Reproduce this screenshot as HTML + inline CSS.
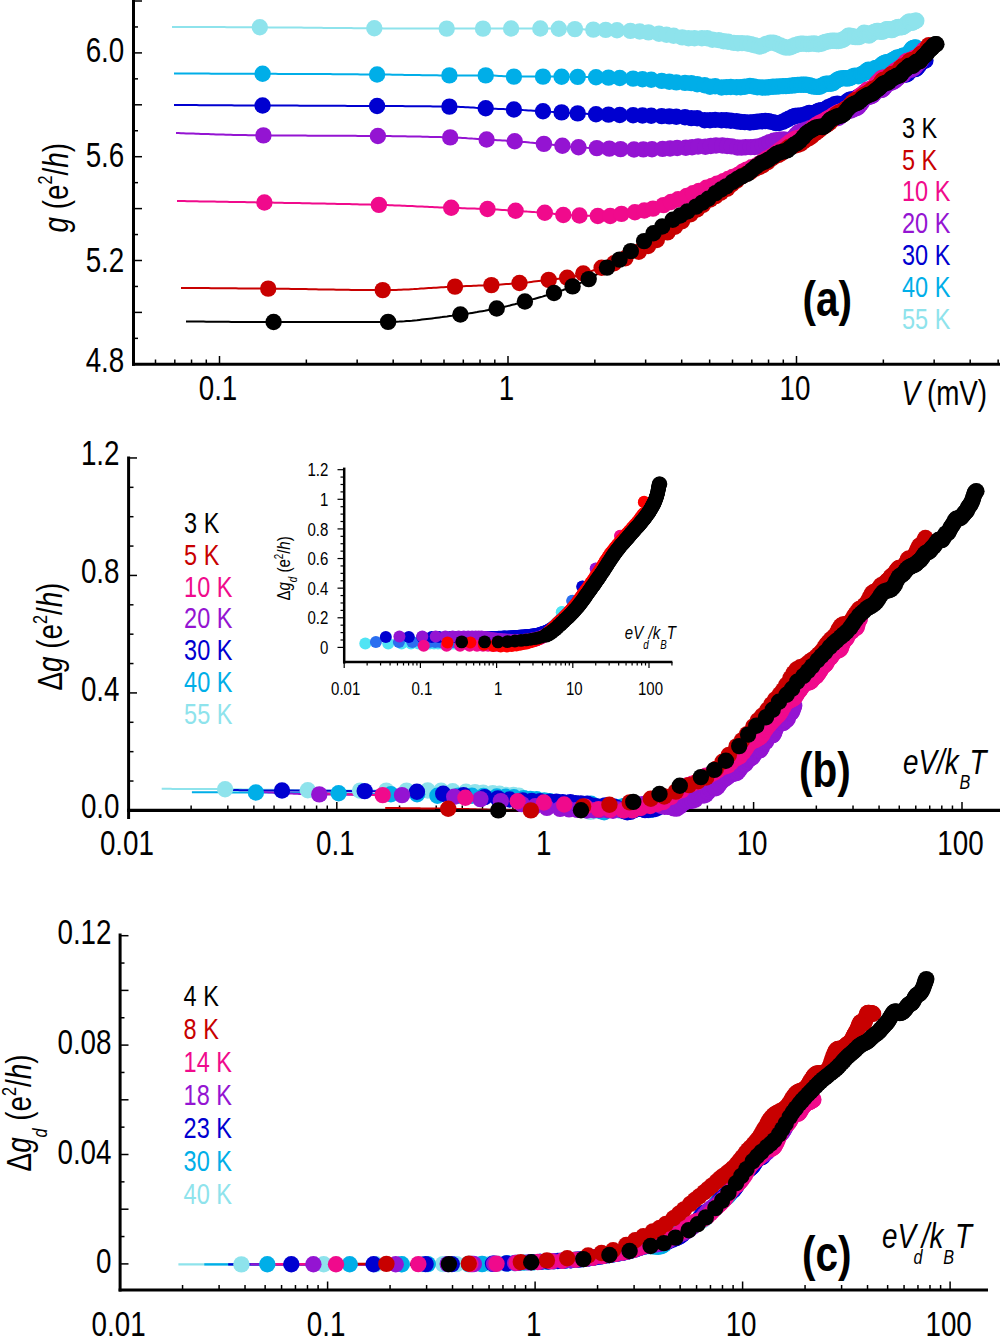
<!DOCTYPE html>
<html><head><meta charset="utf-8"><style>
html,body{margin:0;padding:0;background:#fff;width:1000px;height:1336px;overflow:hidden}
svg{display:block}
</style></head><body>
<svg width="1000" height="1336" viewBox="0 0 1000 1336">
<rect width="1000" height="1336" fill="#fff"/>
<polyline points="172.0,27.0 174.5,27.0 177.0,27.0 179.5,27.0 182.0,27.0 184.4,27.0 186.9,27.0 189.4,27.0 191.9,27.0 194.4,27.0 196.9,27.0 199.4,27.1 201.9,27.1 204.4,27.1 206.8,27.1 209.3,27.1 211.8,27.1 214.3,27.1 216.8,27.1 219.3,27.1 221.8,27.1 224.3,27.1 226.8,27.2 229.3,27.2 231.7,27.2 234.2,27.2 236.7,27.2 239.2,27.2 241.7,27.2 244.2,27.2 246.7,27.2 249.2,27.2 251.7,27.3 254.1,27.3 256.6,27.3 259.1,27.3 261.6,27.3 264.1,27.3 266.6,27.3 269.1,27.4 271.6,27.4 274.1,27.4 276.5,27.4 279.0,27.4 281.5,27.4 284.0,27.5 286.5,27.5 289.0,27.5 291.5,27.5 294.0,27.6 296.5,27.6 299.0,27.6 301.4,27.6 303.9,27.7 306.4,27.7 308.9,27.7 311.4,27.7 313.9,27.8 316.4,27.8 318.9,27.8 321.4,27.8 323.8,27.9 326.3,27.9 328.8,27.9 331.3,27.9 333.8,28.0 336.3,28.0 338.8,28.0 341.3,28.0 343.8,28.1 346.2,28.1 348.7,28.1 351.2,28.1 353.7,28.2 356.2,28.2 358.7,28.2 361.2,28.2 363.7,28.2 366.2,28.3 368.7,28.3 371.1,28.3 373.6,28.3 376.1,28.3 378.6,28.3 381.1,28.3 383.6,28.4 386.1,28.4 388.6,28.4 391.1,28.4 393.5,28.4 396.0,28.4 398.5,28.4 401.0,28.4 403.5,28.5 406.0,28.5 408.5,28.5 411.0,28.5 413.5,28.5 415.9,28.5 418.4,28.5 420.9,28.5 423.4,28.6 425.9,28.6 428.4,28.6 430.9,28.6 433.4,28.6 435.9,28.6 438.4,28.6 440.8,28.6 443.3,28.6 445.8,28.6 448.3,28.6 450.8,28.6 453.3,28.6 455.8,28.6 458.3,28.6 460.8,28.6 463.2,28.6 465.7,28.6 468.2,28.6 470.7,28.6 473.2,28.6 475.7,28.6 478.2,28.6 480.7,28.6 483.2,28.6 485.6,28.6 488.1,28.6 490.6,28.6 493.1,28.6 495.6,28.5 498.1,28.5 500.6,28.5 503.1,28.5 505.6,28.5 508.1,28.5 510.5,28.5 513.0,28.5 515.5,28.5 518.0,28.5 520.5,28.5 523.0,28.5 525.5,28.5 528.0,28.5 530.5,28.5 532.9,28.5 535.4,28.5 537.9,28.5 540.4,28.5 542.9,28.5 545.4,28.5 547.9,28.5 550.4,28.6 552.9,28.6 555.3,28.6 557.8,28.7 560.3,28.7 562.8,28.8 565.3,28.8 567.8,28.9 570.3,29.0 572.8,29.0 575.3,29.1 577.7,29.2 580.2,29.2 582.7,29.3 585.2,29.4 587.7,29.4 590.2,29.5 592.7,29.6 595.2,29.6 597.7,29.7 600.2,29.8 602.6,29.8 605.1,29.9 607.6,30.0 610.1,30.1 612.6,30.2 615.1,30.3 617.6,30.3 620.1,30.4 622.6,30.5 625.0,30.7 627.5,30.8 630.0,30.9 632.5,31.0 635.0,31.2 637.5,31.4 640.0,31.6 642.5,31.8 645.0,32.0 647.4,32.3 649.9,32.6 652.4,32.9 654.9,33.2 657.4,33.5 659.9,33.9 662.4,34.2 664.9,34.6 667.4,34.9 669.9,35.3 672.3,35.6 674.8,35.9 677.3,36.3 679.8,36.6 682.3,36.9 684.8,37.2 687.3,37.5 689.8,37.8 692.3,38.0 694.7,38.3 697.2,38.6 699.7,38.8 702.2,39.1 704.7,39.3 707.2,39.6 709.7,39.8 712.2,40.1 714.7,40.3 717.1,40.5 719.6,40.8 722.1,41.0 724.6,41.2 727.1,41.5 729.6,41.7 732.1,41.9 734.6,42.1 737.1,42.3 739.6,42.5 742.0,42.7 744.5,42.9 747.0,43.1 749.5,43.3 752.0,43.5 754.5,43.7 757.0,43.9 759.5,44.1 762.0,44.3 764.4,44.4 766.9,44.6 769.4,44.7 771.9,44.8 774.4,44.9 776.9,45.0 779.4,45.0 781.9,45.0 784.4,45.0 786.8,44.9 789.3,44.9 791.8,44.8 794.3,44.7 796.8,44.6 799.3,44.5 801.8,44.4 804.3,44.3 806.8,44.2 809.3,44.0 811.7,43.9 814.2,43.7 816.7,43.5 819.2,43.2 821.7,42.9 824.2,42.5 826.7,42.2 829.2,41.8 831.7,41.4 834.1,41.0 836.6,40.6 839.1,40.1 841.6,39.7 844.1,39.3 846.6,38.8 849.1,38.3 851.6,37.7 854.1,37.2 856.5,36.7 859.0,36.2 861.5,35.7 864.0,35.3 866.5,34.8 869.0,34.4 871.5,33.9 874.0,33.4 876.5,32.9 879.0,32.4 881.4,31.8 883.9,31.2 886.4,30.6 888.9,30.0 891.4,29.3 893.9,28.6 896.4,27.9 898.9,27.1 901.4,26.4 903.8,25.5 906.3,24.7 908.8,23.8 911.3,22.9 913.8,22.0 916.3,21.0" fill="none" stroke="#8ee3ec" stroke-width="2" stroke-linejoin="round"/>
<polyline points="174.0,73.6 176.5,73.6 179.0,73.6 181.4,73.6 183.9,73.6 186.4,73.6 188.9,73.6 191.4,73.6 193.8,73.6 196.3,73.6 198.8,73.6 201.3,73.6 203.8,73.6 206.2,73.6 208.7,73.6 211.2,73.7 213.7,73.7 216.2,73.7 218.7,73.7 221.1,73.7 223.6,73.7 226.1,73.7 228.6,73.7 231.1,73.7 233.5,73.7 236.0,73.7 238.5,73.7 241.0,73.7 243.5,73.7 245.9,73.7 248.4,73.8 250.9,73.8 253.4,73.8 255.9,73.8 258.3,73.8 260.8,73.8 263.3,73.8 265.8,73.8 268.3,73.8 270.7,73.8 273.2,73.8 275.7,73.8 278.2,73.9 280.7,73.9 283.2,73.9 285.6,73.9 288.1,73.9 290.6,73.9 293.1,73.9 295.6,73.9 298.0,73.9 300.5,74.0 303.0,74.0 305.5,74.0 308.0,74.0 310.4,74.0 312.9,74.0 315.4,74.0 317.9,74.1 320.4,74.1 322.8,74.1 325.3,74.1 327.8,74.1 330.3,74.1 332.8,74.2 335.2,74.2 337.7,74.2 340.2,74.2 342.7,74.2 345.2,74.2 347.6,74.3 350.1,74.3 352.6,74.3 355.1,74.3 357.6,74.3 360.1,74.4 362.5,74.4 365.0,74.4 367.5,74.4 370.0,74.4 372.5,74.5 374.9,74.5 377.4,74.5 379.9,74.5 382.4,74.6 384.9,74.6 387.3,74.6 389.8,74.6 392.3,74.7 394.8,74.7 397.3,74.8 399.7,74.8 402.2,74.8 404.7,74.9 407.2,74.9 409.7,75.0 412.1,75.0 414.6,75.0 417.1,75.1 419.6,75.1 422.1,75.2 424.6,75.2 427.0,75.2 429.5,75.3 432.0,75.3 434.5,75.3 437.0,75.3 439.4,75.4 441.9,75.4 444.4,75.4 446.9,75.4 449.4,75.4 451.8,75.4 454.3,75.4 456.8,75.4 459.3,75.4 461.8,75.4 464.2,75.4 466.7,75.4 469.2,75.4 471.7,75.4 474.2,75.4 476.6,75.4 479.1,75.4 481.6,75.4 484.1,75.4 486.6,75.4 489.1,75.4 491.5,75.5 494.0,75.6 496.5,75.7 499.0,75.9 501.5,76.0 503.9,76.2 506.4,76.3 508.9,76.5 511.4,76.5 513.9,76.6 516.3,76.6 518.8,76.6 521.3,76.6 523.8,76.6 526.3,76.6 528.7,76.6 531.2,76.6 533.7,76.6 536.2,76.6 538.7,76.6 541.1,76.6 543.6,76.6 546.1,76.6 548.6,76.6 551.1,76.6 553.5,76.6 556.0,76.6 558.5,76.7 561.0,76.7 563.5,76.7 566.0,76.8 568.4,76.8 570.9,76.8 573.4,76.9 575.9,76.9 578.4,77.0 580.8,77.0 583.3,77.0 585.8,77.1 588.3,77.1 590.8,77.2 593.2,77.3 595.7,77.3 598.2,77.4 600.7,77.4 603.2,77.5 605.6,77.5 608.1,77.6 610.6,77.7 613.1,77.8 615.6,77.9 618.0,78.0 620.5,78.1 623.0,78.2 625.5,78.3 628.0,78.4 630.5,78.5 632.9,78.6 635.4,78.8 637.9,78.9 640.4,79.0 642.9,79.2 645.3,79.3 647.8,79.5 650.3,79.7 652.8,80.0 655.3,80.2 657.7,80.5 660.2,80.7 662.7,81.0 665.2,81.2 667.7,81.5 670.1,81.8 672.6,82.0 675.1,82.3 677.6,82.6 680.1,82.8 682.5,83.1 685.0,83.3 687.5,83.5 690.0,83.7 692.5,83.9 694.9,84.1 697.4,84.3 699.9,84.5 702.4,84.7 704.9,84.9 707.4,85.1 709.8,85.3 712.3,85.6 714.8,85.8 717.3,86.0 719.8,86.2 722.2,86.3 724.7,86.5 727.2,86.7 729.7,86.8 732.2,87.0 734.6,87.1 737.1,87.2 739.6,87.3 742.1,87.4 744.6,87.4 747.0,87.5 749.5,87.5 752.0,87.5 754.5,87.5 757.0,87.5 759.4,87.5 761.9,87.5 764.4,87.5 766.9,87.4 769.4,87.4 771.9,87.4 774.3,87.4 776.8,87.3 779.3,87.3 781.8,87.3 784.3,87.3 786.7,87.2 789.2,87.2 791.7,87.1 794.2,87.1 796.7,87.1 799.1,87.0 801.6,87.0 804.1,86.8 806.6,86.7 809.1,86.4 811.5,86.2 814.0,85.9 816.5,85.5 819.0,85.1 821.5,84.7 823.9,84.2 826.4,83.7 828.9,83.2 831.4,82.6 833.9,82.0 836.3,81.4 838.8,80.8 841.3,80.2 843.8,79.6 846.3,79.0 848.8,78.3 851.2,77.7 853.7,76.9 856.2,76.1 858.7,75.2 861.2,74.2 863.6,73.2 866.1,72.2 868.6,71.1 871.1,70.1 873.6,69.0 876.0,68.0 878.5,67.0 881.0,66.0 883.5,65.0 886.0,63.9 888.4,62.9 890.9,61.8 893.4,60.7 895.9,59.5 898.4,58.2 900.8,56.9 903.3,55.5 905.8,54.1 908.3,52.6 910.8,51.1 913.3,49.5 915.7,47.8" fill="none" stroke="#00aee8" stroke-width="2" stroke-linejoin="round"/>
<polyline points="174.0,105.0 176.5,105.0 179.0,105.0 181.5,105.0 184.1,105.1 186.6,105.1 189.1,105.1 191.6,105.1 194.1,105.1 196.6,105.1 199.1,105.2 201.6,105.2 204.2,105.2 206.7,105.2 209.2,105.2 211.7,105.2 214.2,105.2 216.7,105.3 219.2,105.3 221.8,105.3 224.3,105.3 226.8,105.3 229.3,105.3 231.8,105.3 234.3,105.4 236.8,105.4 239.3,105.4 241.9,105.4 244.4,105.4 246.9,105.4 249.4,105.4 251.9,105.4 254.4,105.5 256.9,105.5 259.4,105.5 262.0,105.5 264.5,105.5 267.0,105.5 269.5,105.5 272.0,105.5 274.5,105.6 277.0,105.6 279.6,105.6 282.1,105.6 284.6,105.6 287.1,105.6 289.6,105.6 292.1,105.6 294.6,105.6 297.1,105.6 299.7,105.7 302.2,105.7 304.7,105.7 307.2,105.7 309.7,105.7 312.2,105.7 314.7,105.7 317.3,105.7 319.8,105.7 322.3,105.7 324.8,105.8 327.3,105.8 329.8,105.8 332.3,105.8 334.8,105.8 337.4,105.8 339.9,105.8 342.4,105.8 344.9,105.8 347.4,105.9 349.9,105.9 352.4,105.9 355.0,105.9 357.5,105.9 360.0,105.9 362.5,105.9 365.0,105.9 367.5,105.9 370.0,106.0 372.5,106.0 375.1,106.0 377.6,106.0 380.1,106.0 382.6,106.0 385.1,106.0 387.6,106.1 390.1,106.1 392.6,106.1 395.2,106.1 397.7,106.1 400.2,106.1 402.7,106.1 405.2,106.2 407.7,106.2 410.2,106.2 412.8,106.2 415.3,106.2 417.8,106.2 420.3,106.3 422.8,106.3 425.3,106.3 427.8,106.3 430.3,106.3 432.9,106.4 435.4,106.4 437.9,106.4 440.4,106.5 442.9,106.5 445.4,106.5 447.9,106.6 450.5,106.6 453.0,106.6 455.5,106.7 458.0,106.8 460.5,106.9 463.0,107.0 465.5,107.2 468.0,107.3 470.6,107.5 473.1,107.6 475.6,107.8 478.1,107.9 480.6,108.1 483.1,108.2 485.6,108.3 488.2,108.5 490.7,108.6 493.2,108.7 495.7,108.8 498.2,108.9 500.7,109.0 503.2,109.1 505.7,109.2 508.3,109.3 510.8,109.4 513.3,109.5 515.8,109.6 518.3,109.8 520.8,109.9 523.3,110.1 525.8,110.2 528.4,110.4 530.9,110.5 533.4,110.7 535.9,110.8 538.4,111.0 540.9,111.2 543.4,111.3 546.0,111.5 548.5,111.6 551.0,111.8 553.5,111.9 556.0,112.1 558.5,112.3 561.0,112.4 563.5,112.6 566.1,112.7 568.6,112.9 571.1,113.0 573.6,113.2 576.1,113.3 578.6,113.4 581.1,113.6 583.7,113.7 586.2,113.8 588.7,113.9 591.2,114.0 593.7,114.1 596.2,114.2 598.7,114.3 601.2,114.4 603.8,114.5 606.3,114.6 608.8,114.6 611.3,114.7 613.8,114.8 616.3,114.9 618.8,115.0 621.4,115.0 623.9,115.1 626.4,115.2 628.9,115.2 631.4,115.3 633.9,115.3 636.4,115.4 638.9,115.4 641.5,115.5 644.0,115.6 646.5,115.6 649.0,115.7 651.5,115.7 654.0,115.8 656.5,115.9 659.0,116.0 661.6,116.1 664.1,116.2 666.6,116.3 669.1,116.4 671.6,116.6 674.1,116.7 676.6,116.9 679.2,117.0 681.7,117.2 684.2,117.4 686.7,117.6 689.2,117.7 691.7,117.9 694.2,118.1 696.7,118.3 699.3,118.4 701.8,118.6 704.3,118.8 706.8,119.0 709.3,119.2 711.8,119.5 714.3,119.7 716.9,119.9 719.4,120.2 721.9,120.4 724.4,120.6 726.9,120.8 729.4,121.0 731.9,121.1 734.4,121.3 737.0,121.4 739.5,121.5 742.0,121.6 744.5,121.6 747.0,121.7 749.5,121.7 752.0,121.8 754.6,121.8 757.1,121.9 759.6,121.9 762.1,122.0 764.6,122.0 767.1,122.0 769.6,122.0 772.1,121.9 774.7,121.7 777.2,121.3 779.7,120.8 782.2,120.3 784.7,119.7 787.2,119.1 789.7,118.6 792.2,118.0 794.8,117.4 797.3,116.8 799.8,116.1 802.3,115.4 804.8,114.7 807.3,113.9 809.8,113.1 812.4,112.4 814.9,111.6 817.4,110.8 819.9,110.0 822.4,109.3 824.9,108.5 827.4,107.7 829.9,106.9 832.5,106.1 835.0,105.3 837.5,104.5 840.0,103.6 842.5,102.8 845.0,101.9 847.5,100.9 850.1,100.0 852.6,99.0 855.1,97.9 857.6,96.8 860.1,95.7 862.6,94.5 865.1,93.3 867.6,92.1 870.2,90.9 872.7,89.7 875.2,88.5 877.7,87.3 880.2,86.1 882.7,84.9 885.2,83.6 887.8,82.3 890.3,81.0 892.8,79.7 895.3,78.3 897.8,76.9 900.3,75.5 902.8,74.0 905.3,72.6 907.9,71.1 910.4,69.6 912.9,68.0 915.4,66.5 917.9,64.9 920.4,63.3 922.9,61.6 925.4,60.0" fill="none" stroke="#0000d0" stroke-width="2" stroke-linejoin="round"/>
<polyline points="176.0,133.0 178.5,133.1 181.0,133.2 183.5,133.3 186.0,133.4 188.5,133.5 190.9,133.5 193.4,133.6 195.9,133.7 198.4,133.8 200.9,133.9 203.4,134.0 205.9,134.1 208.4,134.1 210.9,134.2 213.4,134.3 215.9,134.4 218.4,134.5 220.8,134.5 223.3,134.6 225.8,134.7 228.3,134.7 230.8,134.8 233.3,134.9 235.8,134.9 238.3,135.0 240.8,135.0 243.3,135.1 245.8,135.1 248.2,135.2 250.7,135.2 253.2,135.3 255.7,135.3 258.2,135.3 260.7,135.4 263.2,135.4 265.7,135.4 268.2,135.4 270.7,135.5 273.2,135.5 275.6,135.5 278.1,135.5 280.6,135.5 283.1,135.5 285.6,135.6 288.1,135.6 290.6,135.6 293.1,135.6 295.6,135.6 298.1,135.6 300.6,135.6 303.1,135.6 305.5,135.6 308.0,135.7 310.5,135.7 313.0,135.7 315.5,135.7 318.0,135.7 320.5,135.7 323.0,135.7 325.5,135.7 328.0,135.7 330.5,135.7 332.9,135.7 335.4,135.8 337.9,135.8 340.4,135.8 342.9,135.8 345.4,135.8 347.9,135.8 350.4,135.8 352.9,135.8 355.4,135.8 357.9,135.9 360.3,135.9 362.8,135.9 365.3,135.9 367.8,135.9 370.3,135.9 372.8,135.9 375.3,136.0 377.8,136.0 380.3,136.0 382.8,136.0 385.3,136.1 387.8,136.1 390.2,136.1 392.7,136.2 395.2,136.2 397.7,136.2 400.2,136.3 402.7,136.3 405.2,136.3 407.7,136.4 410.2,136.4 412.7,136.5 415.2,136.5 417.6,136.6 420.1,136.6 422.6,136.7 425.1,136.7 427.6,136.8 430.1,136.9 432.6,136.9 435.1,137.0 437.6,137.1 440.1,137.1 442.6,137.2 445.0,137.3 447.5,137.4 450.0,137.4 452.5,137.5 455.0,137.6 457.5,137.7 460.0,137.8 462.5,138.0 465.0,138.1 467.5,138.3 470.0,138.4 472.5,138.6 474.9,138.7 477.4,138.9 479.9,139.1 482.4,139.2 484.9,139.4 487.4,139.6 489.9,139.7 492.4,139.9 494.9,140.0 497.4,140.2 499.9,140.3 502.3,140.5 504.8,140.6 507.3,140.8 509.8,141.0 512.3,141.1 514.8,141.3 517.3,141.5 519.8,141.7 522.3,141.9 524.8,142.1 527.3,142.3 529.7,142.6 532.2,142.8 534.7,143.0 537.2,143.3 539.7,143.5 542.2,143.7 544.7,144.0 547.2,144.2 549.7,144.5 552.2,144.7 554.7,145.0 557.2,145.3 559.6,145.5 562.1,145.8 564.6,146.1 567.1,146.3 569.6,146.6 572.1,146.8 574.6,147.0 577.1,147.2 579.6,147.4 582.1,147.5 584.6,147.6 587.0,147.8 589.5,147.9 592.0,148.0 594.5,148.0 597.0,148.1 599.5,148.2 602.0,148.3 604.5,148.4 607.0,148.5 609.5,148.6 612.0,148.7 614.4,148.8 616.9,148.9 619.4,149.0 621.9,149.2 624.4,149.3 626.9,149.4 629.4,149.4 631.9,149.5 634.4,149.5 636.9,149.5 639.4,149.5 641.9,149.4 644.3,149.4 646.8,149.3 649.3,149.3 651.8,149.2 654.3,149.2 656.8,149.1 659.3,149.0 661.8,148.9 664.3,148.8 666.8,148.7 669.3,148.5 671.7,148.4 674.2,148.2 676.7,148.0 679.2,147.8 681.7,147.6 684.2,147.4 686.7,147.3 689.2,147.1 691.7,147.0 694.2,146.8 696.7,146.6 699.1,146.4 701.6,146.3 704.1,146.1 706.6,146.0 709.1,145.8 711.6,145.7 714.1,145.6 716.6,145.5 719.1,145.5 721.6,145.5 724.1,145.6 726.6,145.7 729.0,145.9 731.5,146.2 734.0,146.4 736.5,146.7 739.0,146.9 741.5,147.1 744.0,147.3 746.5,147.4 749.0,147.5 751.5,147.5 754.0,147.3 756.4,146.9 758.9,146.5 761.4,145.9 763.9,145.2 766.4,144.5 768.9,143.8 771.4,143.0 773.9,142.3 776.4,141.6 778.9,140.9 781.4,140.1 783.8,139.2 786.3,138.3 788.8,137.4 791.3,136.4 793.8,135.5 796.3,134.5 798.8,133.4 801.3,132.3 803.8,131.2 806.3,130.1 808.8,128.9 811.3,127.7 813.7,126.6 816.2,125.4 818.7,124.3 821.2,123.3 823.7,122.2 826.2,121.1 828.7,120.1 831.2,119.0 833.7,117.9 836.2,116.8 838.7,115.7 841.1,114.5 843.6,113.3 846.1,112.0 848.6,110.7 851.1,109.4 853.6,107.9 856.1,106.4 858.6,104.7 861.1,103.1 863.6,101.4 866.1,99.7 868.5,98.0 871.0,96.3 873.5,94.6 876.0,93.0 878.5,91.3 881.0,89.6 883.5,87.9 886.0,86.2 888.5,84.5 891.0,82.8 893.5,81.1 896.0,79.3 898.4,77.6 900.9,75.9 903.4,74.1 905.9,72.4 908.4,70.6 910.9,68.8 913.4,67.0 915.9,65.2 918.4,63.4 920.9,61.6" fill="none" stroke="#9414d2" stroke-width="2" stroke-linejoin="round"/>
<polyline points="177.0,201.0 179.5,201.0 182.0,201.1 184.5,201.1 187.0,201.2 189.5,201.2 192.0,201.2 194.5,201.3 197.0,201.3 199.5,201.4 202.0,201.4 204.5,201.4 207.0,201.5 209.5,201.5 212.0,201.6 214.5,201.6 217.0,201.7 219.5,201.7 222.0,201.7 224.5,201.8 227.0,201.8 229.5,201.9 232.0,201.9 234.5,202.0 237.0,202.0 239.5,202.1 242.0,202.1 244.5,202.1 247.0,202.2 249.6,202.2 252.1,202.3 254.6,202.3 257.1,202.4 259.6,202.4 262.1,202.5 264.6,202.5 267.1,202.6 269.6,202.6 272.1,202.6 274.6,202.7 277.1,202.7 279.6,202.8 282.1,202.8 284.6,202.9 287.1,202.9 289.6,203.0 292.1,203.0 294.6,203.1 297.1,203.1 299.6,203.1 302.1,203.2 304.6,203.2 307.1,203.3 309.6,203.3 312.1,203.4 314.6,203.4 317.1,203.5 319.6,203.5 322.1,203.6 324.6,203.6 327.1,203.7 329.6,203.7 332.1,203.8 334.6,203.8 337.1,203.9 339.6,203.9 342.1,204.0 344.6,204.0 347.1,204.1 349.6,204.1 352.1,204.2 354.6,204.2 357.1,204.3 359.6,204.4 362.1,204.4 364.6,204.5 367.1,204.6 369.6,204.6 372.1,204.7 374.6,204.8 377.1,204.8 379.6,204.9 382.1,205.0 384.6,205.0 387.1,205.1 389.6,205.2 392.2,205.3 394.7,205.4 397.2,205.5 399.7,205.6 402.2,205.7 404.7,205.8 407.2,205.9 409.7,206.0 412.2,206.1 414.7,206.2 417.2,206.4 419.7,206.5 422.2,206.6 424.7,206.7 427.2,206.8 429.7,206.9 432.2,207.0 434.7,207.2 437.2,207.3 439.7,207.4 442.2,207.5 444.7,207.6 447.2,207.7 449.7,207.8 452.2,207.9 454.7,208.0 457.2,208.0 459.7,208.1 462.2,208.2 464.7,208.3 467.2,208.4 469.7,208.4 472.2,208.5 474.7,208.6 477.2,208.7 479.7,208.7 482.2,208.8 484.7,208.9 487.2,209.0 489.7,209.1 492.2,209.3 494.7,209.4 497.2,209.5 499.7,209.7 502.2,209.9 504.7,210.0 507.2,210.2 509.7,210.4 512.2,210.6 514.7,210.7 517.2,210.9 519.7,211.1 522.2,211.2 524.7,211.4 527.2,211.6 529.7,211.7 532.2,211.9 534.7,212.1 537.3,212.2 539.8,212.4 542.3,212.6 544.8,212.8 547.3,213.0 549.8,213.3 552.3,213.6 554.8,213.9 557.3,214.3 559.8,214.6 562.3,214.9 564.8,215.1 567.3,215.2 569.8,215.2 572.3,215.3 574.8,215.4 577.3,215.4 579.8,215.5 582.3,215.6 584.8,215.6 587.3,215.7 589.8,215.8 592.3,215.9 594.8,215.9 597.3,216.0 599.8,216.0 602.3,216.0 604.8,216.0 607.3,216.0 609.8,216.0 612.3,215.9 614.8,215.5 617.3,214.9 619.8,214.3 622.3,213.7 624.8,213.4 627.3,213.1 629.8,212.8 632.3,212.6 634.8,212.3 637.3,211.9 639.8,211.4 642.3,210.9 644.8,210.4 647.3,209.8 649.8,209.3 652.3,208.7 654.8,208.1 657.3,207.3 659.8,206.5 662.3,205.5 664.8,204.5 667.3,203.5 669.8,202.5 672.3,201.5 674.8,200.5 677.3,199.5 679.9,198.5 682.4,197.6 684.9,196.6 687.4,195.6 689.9,194.6 692.4,193.6 694.9,192.6 697.4,191.6 699.9,190.6 702.4,189.5 704.9,188.5 707.4,187.5 709.9,186.5 712.4,185.5 714.9,184.5 717.4,183.5 719.9,182.4 722.4,181.4 724.9,180.3 727.4,179.2 729.9,178.1 732.4,176.9 734.9,175.8 737.4,174.6 739.9,173.4 742.4,172.2 744.9,171.0 747.4,169.7 749.9,168.4 752.4,167.1 754.9,165.8 757.4,164.4 759.9,163.1 762.4,161.6 764.9,160.1 767.4,158.6 769.9,157.1 772.4,155.5 774.9,153.8 777.4,152.2 779.9,150.5 782.4,148.8 784.9,147.1 787.4,145.4 789.9,143.7 792.4,142.0 794.9,140.4 797.4,138.7 799.9,137.0 802.4,135.4 804.9,133.8 807.4,132.2 809.9,130.5 812.4,128.9 814.9,127.3 817.4,125.7 819.9,124.1 822.5,122.4 825.0,120.8 827.5,119.2 830.0,117.5 832.5,115.9 835.0,114.2 837.5,112.6 840.0,110.9 842.5,109.2 845.0,107.5 847.5,105.8 850.0,104.0 852.5,102.3 855.0,100.5 857.5,98.7 860.0,96.8 862.5,95.0 865.0,93.1 867.5,91.2 870.0,89.4 872.5,87.5 875.0,85.7 877.5,83.8 880.0,82.0 882.5,80.2 885.0,78.4 887.5,76.6 890.0,74.8 892.5,73.0 895.0,71.2 897.5,69.4 900.0,67.6 902.5,65.9 905.0,64.1 907.5,62.3 910.0,60.5 912.5,58.8 915.0,57.0 917.5,55.2 920.0,53.5 922.5,51.7 925.0,50.0" fill="none" stroke="#f00a8c" stroke-width="2" stroke-linejoin="round"/>
<polyline points="181.0,288.0 183.5,288.0 186.0,288.0 188.5,288.0 191.0,288.0 193.5,288.1 196.0,288.1 198.5,288.1 201.0,288.1 203.5,288.1 206.0,288.1 208.5,288.1 211.0,288.2 213.5,288.2 216.0,288.2 218.5,288.2 221.0,288.2 223.5,288.2 226.0,288.3 228.5,288.3 231.0,288.3 233.5,288.3 236.0,288.3 238.5,288.4 241.0,288.4 243.5,288.4 246.0,288.4 248.5,288.4 251.0,288.5 253.5,288.5 256.0,288.5 258.5,288.5 261.0,288.5 263.5,288.6 266.0,288.6 268.5,288.6 271.0,288.6 273.5,288.7 276.0,288.7 278.5,288.7 281.0,288.7 283.6,288.8 286.1,288.8 288.6,288.8 291.1,288.9 293.6,288.9 296.1,289.0 298.6,289.0 301.1,289.0 303.6,289.1 306.1,289.1 308.6,289.2 311.1,289.2 313.6,289.3 316.1,289.3 318.6,289.4 321.1,289.4 323.6,289.4 326.1,289.5 328.6,289.5 331.1,289.6 333.6,289.6 336.1,289.7 338.6,289.7 341.1,289.7 343.6,289.8 346.1,289.8 348.6,289.8 351.1,289.9 353.6,289.9 356.1,289.9 358.6,290.0 361.1,290.0 363.6,290.0 366.1,290.0 368.6,290.0 371.1,290.1 373.6,290.1 376.1,290.1 378.6,290.1 381.1,290.1 383.6,290.1 386.1,290.1 388.6,290.1 391.1,290.0 393.6,290.0 396.1,289.9 398.6,289.8 401.1,289.7 403.6,289.6 406.1,289.5 408.6,289.4 411.1,289.2 413.6,289.1 416.1,288.9 418.6,288.8 421.1,288.6 423.6,288.5 426.1,288.3 428.6,288.1 431.1,288.0 433.6,287.8 436.1,287.7 438.6,287.5 441.1,287.3 443.6,287.2 446.1,287.0 448.6,286.9 451.1,286.8 453.6,286.6 456.1,286.5 458.6,286.4 461.1,286.3 463.6,286.2 466.1,286.1 468.6,286.0 471.1,285.9 473.6,285.8 476.1,285.7 478.6,285.6 481.1,285.5 483.7,285.4 486.2,285.3 488.7,285.2 491.2,285.1 493.7,285.0 496.2,284.8 498.7,284.7 501.2,284.5 503.7,284.3 506.2,284.1 508.7,283.9 511.2,283.7 513.7,283.5 516.2,283.3 518.7,283.1 521.2,282.9 523.7,282.7 526.2,282.4 528.7,282.2 531.2,281.9 533.7,281.6 536.2,281.3 538.7,281.0 541.2,280.7 543.7,280.4 546.2,280.2 548.7,279.9 551.2,279.6 553.7,279.3 556.2,279.1 558.7,278.8 561.2,278.5 563.7,278.3 566.2,277.9 568.7,277.6 571.2,277.1 573.7,276.5 576.2,275.7 578.7,275.0 581.2,274.2 583.7,273.4 586.2,272.6 588.7,271.9 591.2,271.1 593.7,270.3 596.2,269.5 598.7,268.7 601.2,267.9 603.7,267.0 606.2,266.1 608.7,265.2 611.2,264.3 613.7,263.3 616.2,262.3 618.7,261.3 621.2,260.2 623.7,259.0 626.2,257.9 628.7,256.7 631.2,255.5 633.7,254.3 636.2,253.0 638.7,251.7 641.2,250.3 643.7,248.8 646.2,247.2 648.7,245.6 651.2,243.9 653.7,242.2 656.2,240.4 658.7,238.7 661.2,236.9 663.7,235.1 666.2,233.3 668.7,231.4 671.2,229.6 673.7,227.7 676.2,225.7 678.7,223.8 681.2,221.8 683.8,219.8 686.3,217.7 688.8,215.7 691.3,213.7 693.8,211.8 696.3,209.8 698.8,207.9 701.3,206.1 703.8,204.3 706.3,202.5 708.8,200.7 711.3,198.9 713.8,197.1 716.3,195.4 718.8,193.7 721.3,192.0 723.8,190.3 726.3,188.6 728.8,186.9 731.3,185.2 733.8,183.6 736.3,181.9 738.8,180.3 741.3,178.6 743.8,177.0 746.3,175.4 748.8,173.8 751.3,172.2 753.8,170.6 756.3,169.0 758.8,167.5 761.3,166.0 763.8,164.5 766.3,163.0 768.8,161.5 771.3,160.0 773.8,158.5 776.3,157.0 778.8,155.5 781.3,154.0 783.8,152.5 786.3,151.0 788.8,149.5 791.3,148.0 793.8,146.4 796.3,144.9 798.8,143.3 801.3,141.7 803.8,140.0 806.3,138.4 808.8,136.8 811.3,135.1 813.8,133.5 816.3,131.8 818.8,130.1 821.3,128.3 823.8,126.6 826.3,124.8 828.8,122.9 831.3,121.0 833.8,118.9 836.3,116.8 838.8,114.6 841.3,112.3 843.8,110.1 846.3,108.0 848.8,105.9 851.3,104.0 853.8,102.1 856.3,100.3 858.8,98.5 861.3,96.8 863.8,95.1 866.3,93.4 868.8,91.7 871.3,90.0 873.8,88.3 876.3,86.6 878.8,84.8 881.3,83.0 883.9,81.2 886.4,79.4 888.9,77.6 891.4,75.7 893.9,73.9 896.4,72.0 898.9,70.2 901.4,68.3 903.9,66.5 906.4,64.6 908.9,62.7 911.4,60.8 913.9,58.9 916.4,57.0 918.9,55.1 921.4,53.1 923.9,51.2 926.4,49.3 928.9,47.3" fill="none" stroke="#c80000" stroke-width="2" stroke-linejoin="round"/>
<polyline points="186.0,321.5 188.5,321.5 191.0,321.5 193.5,321.6 196.0,321.6 198.5,321.6 201.1,321.6 203.6,321.6 206.1,321.7 208.6,321.7 211.1,321.7 213.6,321.7 216.1,321.7 218.6,321.8 221.1,321.8 223.6,321.8 226.2,321.8 228.7,321.8 231.2,321.9 233.7,321.9 236.2,321.9 238.7,321.9 241.2,321.9 243.7,321.9 246.2,321.9 248.7,321.9 251.3,322.0 253.8,322.0 256.3,322.0 258.8,322.0 261.3,322.0 263.8,322.0 266.3,322.0 268.8,322.0 271.3,322.0 273.8,322.0 276.4,322.0 278.9,322.0 281.4,322.0 283.9,322.0 286.4,322.0 288.9,322.0 291.4,322.0 293.9,322.0 296.4,322.0 298.9,322.0 301.5,322.0 304.0,322.0 306.5,322.0 309.0,322.0 311.5,322.0 314.0,322.0 316.5,322.0 319.0,322.0 321.5,322.0 324.0,322.0 326.6,322.0 329.1,322.0 331.6,322.0 334.1,322.0 336.6,322.0 339.1,322.0 341.6,322.0 344.1,322.0 346.6,322.0 349.1,322.0 351.6,322.0 354.2,322.0 356.7,321.9 359.2,321.9 361.7,321.9 364.2,321.9 366.7,321.9 369.2,321.9 371.7,321.9 374.2,321.9 376.7,321.9 379.3,321.9 381.8,321.9 384.3,321.9 386.8,321.9 389.3,321.9 391.8,321.9 394.3,321.8 396.8,321.7 399.3,321.6 401.8,321.4 404.4,321.3 406.9,321.1 409.4,320.9 411.9,320.7 414.4,320.4 416.9,320.2 419.4,319.9 421.9,319.6 424.4,319.3 426.9,319.0 429.5,318.7 432.0,318.4 434.5,318.1 437.0,317.7 439.5,317.4 442.0,317.1 444.5,316.7 447.0,316.4 449.5,316.0 452.0,315.7 454.6,315.3 457.1,315.0 459.6,314.6 462.1,314.3 464.6,314.0 467.1,313.6 469.6,313.3 472.1,312.9 474.6,312.5 477.1,312.1 479.7,311.6 482.2,311.2 484.7,310.8 487.2,310.3 489.7,309.8 492.2,309.4 494.7,308.9 497.2,308.4 499.7,307.8 502.2,307.3 504.7,306.7 507.3,306.1 509.8,305.5 512.3,304.8 514.8,304.2 517.3,303.5 519.8,302.8 522.3,302.1 524.8,301.5 527.3,300.8 529.8,300.1 532.4,299.4 534.9,298.7 537.4,298.0 539.9,297.3 542.4,296.6 544.9,295.8 547.4,295.1 549.9,294.3 552.4,293.5 554.9,292.7 557.5,291.9 560.0,291.0 562.5,290.2 565.0,289.3 567.5,288.3 570.0,287.4 572.5,286.4 575.0,285.4 577.5,284.3 580.0,283.2 582.6,282.1 585.1,280.9 587.6,279.7 590.1,278.4 592.6,277.0 595.1,275.4 597.6,273.8 600.1,272.2 602.6,270.5 605.1,268.8 607.7,267.2 610.2,265.6 612.7,264.0 615.2,262.4 617.7,260.8 620.2,259.1 622.7,257.2 625.2,255.3 627.7,253.4 630.2,251.5 632.8,249.6 635.3,247.7 637.8,245.9 640.3,244.0 642.8,242.2 645.3,240.2 647.8,238.1 650.3,236.0 652.8,233.8 655.3,231.7 657.8,229.7 660.4,227.7 662.9,226.0 665.4,224.3 667.9,222.7 670.4,221.2 672.9,219.7 675.4,218.2 677.9,216.8 680.4,215.3 682.9,213.9 685.5,212.5 688.0,211.1 690.5,209.7 693.0,208.2 695.5,206.8 698.0,205.2 700.5,203.7 703.0,202.1 705.5,200.4 708.0,198.8 710.6,197.1 713.1,195.5 715.6,193.8 718.1,192.1 720.6,190.3 723.1,188.6 725.6,186.9 728.1,185.2 730.6,183.5 733.1,181.7 735.7,180.0 738.2,178.3 740.7,176.6 743.2,175.0 745.7,173.3 748.2,171.7 750.7,170.0 753.2,168.4 755.7,166.8 758.2,165.3 760.8,163.7 763.3,162.1 765.8,160.6 768.3,159.0 770.8,157.5 773.3,155.9 775.8,154.4 778.3,152.8 780.8,151.3 783.3,149.8 785.9,148.2 788.4,146.7 790.9,145.2 793.4,143.6 795.9,142.1 798.4,140.5 800.9,138.9 803.4,137.4 805.9,135.8 808.4,134.3 811.0,132.7 813.5,131.1 816.0,129.6 818.5,128.0 821.0,126.5 823.5,124.9 826.0,123.4 828.5,121.8 831.0,120.2 833.5,118.6 836.0,117.0 838.6,115.4 841.1,113.8 843.6,112.2 846.1,110.6 848.6,108.9 851.1,107.3 853.6,105.6 856.1,103.9 858.6,102.1 861.1,100.4 863.7,98.6 866.2,96.8 868.7,95.1 871.2,93.3 873.7,91.6 876.2,89.9 878.7,88.2 881.2,86.5 883.7,84.8 886.2,83.2 888.8,81.5 891.3,79.9 893.8,78.3 896.3,76.6 898.8,74.9 901.3,73.2 903.8,71.5 906.3,69.8 908.8,67.9 911.3,66.1 913.9,64.2 916.4,62.2 918.9,60.2 921.4,58.2 923.9,56.1 926.4,54.0 928.9,51.8 931.4,49.6 933.9,47.4 936.4,45.1" fill="none" stroke="#000000" stroke-width="2" stroke-linejoin="round"/>
<g fill="#8ee3ec">
<circle cx="259.8" cy="27.3" r="8.2"/><circle cx="374.3" cy="28.3" r="8.2"/><circle cx="446.7" cy="28.6" r="8.2"/><circle cx="483.0" cy="28.6" r="8.2"/><circle cx="511.1" cy="28.5" r="8.2"/><circle cx="540.3" cy="28.5" r="8.2"/><circle cx="558.8" cy="28.7" r="8.2"/><circle cx="574.9" cy="29.1" r="8.2"/><circle cx="593.3" cy="29.6" r="8.2"/><circle cx="605.7" cy="29.9" r="8.2"/><circle cx="617.0" cy="30.3" r="8.2"/><circle cx="630.4" cy="30.9" r="8.2"/><circle cx="639.7" cy="31.5" r="8.2"/><circle cx="648.5" cy="32.4" r="8.2"/><circle cx="659.0" cy="33.8" r="8.2"/><circle cx="666.5" cy="34.8" r="8.2"/><circle cx="673.6" cy="35.8" r="8.2"/><circle cx="682.2" cy="37.4" r="8.2"/><circle cx="688.5" cy="38.2" r="8.2"/><circle cx="694.5" cy="38.3" r="8.2"/><circle cx="701.9" cy="38.3" r="8.2"/><circle cx="707.2" cy="38.3" r="8.2"/><circle cx="712.4" cy="39.8" r="8.2"/><circle cx="718.8" cy="40.1" r="8.2"/><circle cx="723.5" cy="41.2" r="8.2"/><circle cx="728.1" cy="41.8" r="8.2"/><circle cx="733.8" cy="42.9" r="8.2"/><circle cx="737.9" cy="43.3" r="8.2"/><circle cx="742.0" cy="43.1" r="8.2"/><circle cx="747.1" cy="43.5" r="8.2"/><circle cx="750.9" cy="44.2" r="8.2"/><circle cx="754.5" cy="45.2" r="8.2"/><circle cx="759.2" cy="46.5" r="8.2"/><circle cx="762.6" cy="45.7" r="8.2"/><circle cx="765.9" cy="44.0" r="8.2"/><circle cx="770.2" cy="42.6" r="8.2"/><circle cx="773.3" cy="42.6" r="8.2"/><circle cx="776.4" cy="43.8" r="8.2"/><circle cx="780.3" cy="45.5" r="8.2"/><circle cx="783.2" cy="46.8" r="8.2"/><circle cx="786.0" cy="47.6" r="8.2"/><circle cx="789.6" cy="47.5" r="8.2"/><circle cx="792.3" cy="46.5" r="8.2"/><circle cx="795.0" cy="45.3" r="8.2"/><circle cx="798.3" cy="44.3" r="8.2"/><circle cx="800.8" cy="43.7" r="8.2"/><circle cx="803.3" cy="43.6" r="8.2"/><circle cx="806.5" cy="44.0" r="8.2"/><circle cx="808.8" cy="44.0" r="8.2"/><circle cx="811.1" cy="43.6" r="8.2"/><circle cx="814.1" cy="43.5" r="8.2"/><circle cx="816.3" cy="44.0" r="8.2"/><circle cx="818.5" cy="44.3" r="8.2"/><circle cx="821.3" cy="43.7" r="8.2"/><circle cx="823.4" cy="42.8" r="8.2"/><circle cx="825.5" cy="42.0" r="8.2"/><circle cx="828.1" cy="41.4" r="8.2"/><circle cx="830.1" cy="41.0" r="8.2"/><circle cx="832.1" cy="40.7" r="8.2"/><circle cx="834.6" cy="40.7" r="8.2"/><circle cx="836.5" cy="41.0" r="8.2"/><circle cx="838.3" cy="41.0" r="8.2"/><circle cx="840.7" cy="40.5" r="8.2"/><circle cx="842.5" cy="40.0" r="8.2"/><circle cx="844.3" cy="38.9" r="8.2"/><circle cx="846.6" cy="37.2" r="8.2"/><circle cx="848.3" cy="35.7" r="8.2"/><circle cx="850.0" cy="35.6" r="8.2"/><circle cx="852.2" cy="36.2" r="8.2"/><circle cx="853.8" cy="36.8" r="8.2"/><circle cx="855.4" cy="37.1" r="8.2"/><circle cx="857.5" cy="37.1" r="8.2"/><circle cx="859.1" cy="37.0" r="8.2"/><circle cx="860.7" cy="36.3" r="8.2"/><circle cx="862.7" cy="34.3" r="8.2"/><circle cx="864.2" cy="32.6" r="8.2"/><circle cx="865.7" cy="33.1" r="8.2"/><circle cx="867.6" cy="34.8" r="8.2"/><circle cx="869.0" cy="35.6" r="8.2"/><circle cx="870.5" cy="34.5" r="8.2"/><circle cx="872.3" cy="33.0" r="8.2"/><circle cx="873.7" cy="32.2" r="8.2"/><circle cx="875.1" cy="31.7" r="8.2"/><circle cx="876.9" cy="31.0" r="8.2"/><circle cx="878.3" cy="31.0" r="8.2"/><circle cx="879.6" cy="31.5" r="8.2"/><circle cx="881.3" cy="31.7" r="8.2"/><circle cx="882.6" cy="31.6" r="8.2"/><circle cx="883.9" cy="31.0" r="8.2"/><circle cx="885.6" cy="29.8" r="8.2"/><circle cx="886.8" cy="29.1" r="8.2"/><circle cx="888.1" cy="29.2" r="8.2"/><circle cx="889.7" cy="29.5" r="8.2"/><circle cx="890.9" cy="30.0" r="8.2"/><circle cx="892.1" cy="30.1" r="8.2"/><circle cx="893.7" cy="29.3" r="8.2"/><circle cx="894.9" cy="28.5" r="8.2"/><circle cx="896.1" cy="27.9" r="8.2"/><circle cx="897.6" cy="27.3" r="8.2"/><circle cx="898.7" cy="27.0" r="8.2"/><circle cx="899.9" cy="27.2" r="8.2"/><circle cx="901.3" cy="27.3" r="8.2"/><circle cx="902.4" cy="27.1" r="8.2"/><circle cx="903.5" cy="26.5" r="8.2"/><circle cx="905.0" cy="25.4" r="8.2"/><circle cx="906.0" cy="24.5" r="8.2"/><circle cx="907.1" cy="23.4" r="8.2"/><circle cx="908.5" cy="21.9" r="8.2"/><circle cx="909.6" cy="21.5" r="8.2"/><circle cx="910.6" cy="22.3" r="8.2"/><circle cx="911.9" cy="22.8" r="8.2"/><circle cx="913.0" cy="22.5" r="8.2"/><circle cx="914.0" cy="21.5" r="8.2"/><circle cx="915.3" cy="20.8" r="8.2"/><circle cx="916.3" cy="20.8" r="8.2"/>
</g>
<g fill="#00aee8">
<circle cx="262.6" cy="73.8" r="8.2"/><circle cx="377.1" cy="74.5" r="8.2"/><circle cx="449.4" cy="75.4" r="8.2"/><circle cx="485.7" cy="75.4" r="8.2"/><circle cx="513.9" cy="76.6" r="8.2"/><circle cx="543.0" cy="76.6" r="8.2"/><circle cx="561.6" cy="76.7" r="8.2"/><circle cx="577.7" cy="76.9" r="8.2"/><circle cx="596.0" cy="77.3" r="8.2"/><circle cx="608.5" cy="77.6" r="8.2"/><circle cx="619.8" cy="78.0" r="8.2"/><circle cx="633.1" cy="78.6" r="8.2"/><circle cx="642.5" cy="79.2" r="8.2"/><circle cx="651.2" cy="79.8" r="8.2"/><circle cx="661.7" cy="80.9" r="8.2"/><circle cx="669.3" cy="81.7" r="8.2"/><circle cx="676.3" cy="82.4" r="8.2"/><circle cx="685.0" cy="82.9" r="8.2"/><circle cx="691.3" cy="83.1" r="8.2"/><circle cx="697.2" cy="84.3" r="8.2"/><circle cx="704.6" cy="85.3" r="8.2"/><circle cx="710.0" cy="86.8" r="8.2"/><circle cx="715.2" cy="86.3" r="8.2"/><circle cx="721.6" cy="87.5" r="8.2"/><circle cx="726.3" cy="87.1" r="8.2"/><circle cx="730.8" cy="87.0" r="8.2"/><circle cx="736.5" cy="87.3" r="8.2"/><circle cx="740.7" cy="87.2" r="8.2"/><circle cx="744.8" cy="86.8" r="8.2"/><circle cx="749.9" cy="85.9" r="8.2"/><circle cx="753.6" cy="86.5" r="8.2"/><circle cx="757.3" cy="87.3" r="8.2"/><circle cx="761.9" cy="87.5" r="8.2"/><circle cx="765.4" cy="87.6" r="8.2"/><circle cx="768.7" cy="87.2" r="8.2"/><circle cx="772.9" cy="86.7" r="8.2"/><circle cx="776.1" cy="86.6" r="8.2"/><circle cx="779.1" cy="86.4" r="8.2"/><circle cx="783.0" cy="86.1" r="8.2"/><circle cx="785.9" cy="86.1" r="8.2"/><circle cx="788.8" cy="85.9" r="8.2"/><circle cx="792.4" cy="85.5" r="8.2"/><circle cx="795.1" cy="85.2" r="8.2"/><circle cx="797.7" cy="84.9" r="8.2"/><circle cx="801.1" cy="84.8" r="8.2"/><circle cx="803.6" cy="84.7" r="8.2"/><circle cx="806.1" cy="84.7" r="8.2"/><circle cx="809.2" cy="85.1" r="8.2"/><circle cx="811.6" cy="86.1" r="8.2"/><circle cx="813.9" cy="86.6" r="8.2"/><circle cx="816.9" cy="86.9" r="8.2"/><circle cx="819.1" cy="86.9" r="8.2"/><circle cx="821.3" cy="85.9" r="8.2"/><circle cx="824.1" cy="84.4" r="8.2"/><circle cx="826.2" cy="83.6" r="8.2"/><circle cx="828.2" cy="83.7" r="8.2"/><circle cx="830.9" cy="83.7" r="8.2"/><circle cx="832.9" cy="83.1" r="8.2"/><circle cx="834.8" cy="81.7" r="8.2"/><circle cx="837.3" cy="79.9" r="8.2"/><circle cx="839.2" cy="78.9" r="8.2"/><circle cx="841.1" cy="78.5" r="8.2"/><circle cx="843.5" cy="78.1" r="8.2"/><circle cx="845.3" cy="78.2" r="8.2"/><circle cx="847.1" cy="78.5" r="8.2"/><circle cx="849.3" cy="78.2" r="8.2"/><circle cx="851.1" cy="77.5" r="8.2"/><circle cx="852.8" cy="76.5" r="8.2"/><circle cx="854.9" cy="75.6" r="8.2"/><circle cx="856.6" cy="75.9" r="8.2"/><circle cx="858.2" cy="76.3" r="8.2"/><circle cx="860.3" cy="75.3" r="8.2"/><circle cx="861.9" cy="74.1" r="8.2"/><circle cx="863.4" cy="73.4" r="8.2"/><circle cx="865.4" cy="72.2" r="8.2"/><circle cx="866.9" cy="70.6" r="8.2"/><circle cx="868.4" cy="69.8" r="8.2"/><circle cx="870.4" cy="70.0" r="8.2"/><circle cx="871.8" cy="70.4" r="8.2"/><circle cx="873.3" cy="69.6" r="8.2"/><circle cx="875.1" cy="68.3" r="8.2"/><circle cx="876.5" cy="67.9" r="8.2"/><circle cx="877.9" cy="67.7" r="8.2"/><circle cx="879.7" cy="66.6" r="8.2"/><circle cx="881.0" cy="65.5" r="8.2"/><circle cx="882.4" cy="64.3" r="8.2"/><circle cx="884.1" cy="63.1" r="8.2"/><circle cx="885.4" cy="62.6" r="8.2"/><circle cx="886.7" cy="62.3" r="8.2"/><circle cx="888.4" cy="62.1" r="8.2"/><circle cx="889.6" cy="62.0" r="8.2"/><circle cx="890.9" cy="61.2" r="8.2"/><circle cx="892.5" cy="60.3" r="8.2"/><circle cx="893.7" cy="59.8" r="8.2"/><circle cx="894.9" cy="59.2" r="8.2"/><circle cx="896.5" cy="57.9" r="8.2"/><circle cx="897.6" cy="57.5" r="8.2"/><circle cx="898.8" cy="57.8" r="8.2"/><circle cx="900.3" cy="57.5" r="8.2"/><circle cx="901.5" cy="56.7" r="8.2"/><circle cx="902.6" cy="55.9" r="8.2"/><circle cx="904.1" cy="55.4" r="8.2"/><circle cx="905.2" cy="55.7" r="8.2"/><circle cx="906.3" cy="56.1" r="8.2"/><circle cx="907.7" cy="55.6" r="8.2"/><circle cx="908.8" cy="54.0" r="8.2"/><circle cx="909.9" cy="51.7" r="8.2"/><circle cx="911.3" cy="49.8" r="8.2"/><circle cx="912.3" cy="48.6" r="8.2"/><circle cx="913.4" cy="47.9" r="8.2"/><circle cx="914.7" cy="47.6" r="8.2"/><circle cx="915.7" cy="47.4" r="8.2"/>
</g>
<g fill="#0000d0">
<circle cx="262.6" cy="105.5" r="8.2"/><circle cx="377.1" cy="106.0" r="8.2"/><circle cx="449.4" cy="106.6" r="8.2"/><circle cx="485.7" cy="108.3" r="8.2"/><circle cx="513.9" cy="109.5" r="8.2"/><circle cx="543.0" cy="111.3" r="8.2"/><circle cx="561.6" cy="112.4" r="8.2"/><circle cx="577.7" cy="113.4" r="8.2"/><circle cx="596.0" cy="114.2" r="8.2"/><circle cx="608.5" cy="114.6" r="8.2"/><circle cx="619.8" cy="115.0" r="8.2"/><circle cx="633.1" cy="115.3" r="8.2"/><circle cx="642.5" cy="115.5" r="8.2"/><circle cx="651.2" cy="115.7" r="8.2"/><circle cx="661.7" cy="116.1" r="8.2"/><circle cx="669.3" cy="116.4" r="8.2"/><circle cx="676.3" cy="116.8" r="8.2"/><circle cx="685.0" cy="117.2" r="8.2"/><circle cx="691.3" cy="118.1" r="8.2"/><circle cx="697.2" cy="118.3" r="8.2"/><circle cx="704.6" cy="120.2" r="8.2"/><circle cx="710.0" cy="120.3" r="8.2"/><circle cx="715.2" cy="119.9" r="8.2"/><circle cx="721.6" cy="120.3" r="8.2"/><circle cx="726.3" cy="120.3" r="8.2"/><circle cx="730.8" cy="120.8" r="8.2"/><circle cx="736.5" cy="121.3" r="8.2"/><circle cx="740.7" cy="121.9" r="8.2"/><circle cx="744.8" cy="122.1" r="8.2"/><circle cx="749.9" cy="122.5" r="8.2"/><circle cx="753.6" cy="122.1" r="8.2"/><circle cx="757.3" cy="121.6" r="8.2"/><circle cx="761.9" cy="121.3" r="8.2"/><circle cx="765.4" cy="121.0" r="8.2"/><circle cx="768.7" cy="121.2" r="8.2"/><circle cx="772.9" cy="122.1" r="8.2"/><circle cx="776.1" cy="123.1" r="8.2"/><circle cx="779.1" cy="123.0" r="8.2"/><circle cx="783.0" cy="121.7" r="8.2"/><circle cx="785.9" cy="120.3" r="8.2"/><circle cx="788.8" cy="118.8" r="8.2"/><circle cx="792.4" cy="117.0" r="8.2"/><circle cx="795.1" cy="116.0" r="8.2"/><circle cx="797.7" cy="115.6" r="8.2"/><circle cx="801.1" cy="115.5" r="8.2"/><circle cx="803.6" cy="115.3" r="8.2"/><circle cx="806.1" cy="114.1" r="8.2"/><circle cx="809.2" cy="112.9" r="8.2"/><circle cx="811.6" cy="113.1" r="8.2"/><circle cx="813.9" cy="113.0" r="8.2"/><circle cx="816.9" cy="111.8" r="8.2"/><circle cx="819.1" cy="110.6" r="8.2"/><circle cx="821.3" cy="110.3" r="8.2"/><circle cx="824.1" cy="109.9" r="8.2"/><circle cx="826.2" cy="108.8" r="8.2"/><circle cx="828.2" cy="107.3" r="8.2"/><circle cx="830.9" cy="106.3" r="8.2"/><circle cx="832.9" cy="105.5" r="8.2"/><circle cx="834.8" cy="104.3" r="8.2"/><circle cx="837.3" cy="103.6" r="8.2"/><circle cx="839.2" cy="104.4" r="8.2"/><circle cx="841.1" cy="105.4" r="8.2"/><circle cx="843.5" cy="104.7" r="8.2"/><circle cx="845.3" cy="103.1" r="8.2"/><circle cx="847.1" cy="101.5" r="8.2"/><circle cx="849.3" cy="100.0" r="8.2"/><circle cx="851.1" cy="99.4" r="8.2"/><circle cx="852.8" cy="99.4" r="8.2"/><circle cx="854.9" cy="99.1" r="8.2"/><circle cx="856.6" cy="98.0" r="8.2"/><circle cx="858.2" cy="97.0" r="8.2"/><circle cx="860.3" cy="96.6" r="8.2"/><circle cx="861.9" cy="96.3" r="8.2"/><circle cx="863.4" cy="94.8" r="8.2"/><circle cx="865.4" cy="92.9" r="8.2"/><circle cx="866.9" cy="91.8" r="8.2"/><circle cx="868.4" cy="90.7" r="8.2"/><circle cx="870.4" cy="89.3" r="8.2"/><circle cx="871.8" cy="88.9" r="8.2"/><circle cx="873.3" cy="89.1" r="8.2"/><circle cx="875.1" cy="89.3" r="8.2"/><circle cx="876.5" cy="89.2" r="8.2"/><circle cx="877.9" cy="88.1" r="8.2"/><circle cx="879.7" cy="86.3" r="8.2"/><circle cx="881.0" cy="84.9" r="8.2"/><circle cx="882.4" cy="83.9" r="8.2"/><circle cx="884.1" cy="83.4" r="8.2"/><circle cx="885.4" cy="83.1" r="8.2"/><circle cx="886.7" cy="81.7" r="8.2"/><circle cx="888.4" cy="79.8" r="8.2"/><circle cx="889.6" cy="79.2" r="8.2"/><circle cx="890.9" cy="79.3" r="8.2"/><circle cx="892.5" cy="78.9" r="8.2"/><circle cx="893.7" cy="78.9" r="8.2"/><circle cx="894.9" cy="78.9" r="8.2"/><circle cx="896.5" cy="77.8" r="8.2"/><circle cx="897.6" cy="76.8" r="8.2"/><circle cx="898.8" cy="76.3" r="8.2"/><circle cx="900.3" cy="75.5" r="8.2"/><circle cx="901.5" cy="74.2" r="8.2"/><circle cx="902.6" cy="73.4" r="8.2"/><circle cx="904.1" cy="73.7" r="8.2"/><circle cx="905.2" cy="74.4" r="8.2"/><circle cx="906.3" cy="74.5" r="8.2"/><circle cx="907.7" cy="73.6" r="8.2"/><circle cx="908.8" cy="72.0" r="8.2"/><circle cx="909.9" cy="70.1" r="8.2"/><circle cx="911.3" cy="68.8" r="8.2"/><circle cx="912.3" cy="68.6" r="8.2"/><circle cx="913.4" cy="68.8" r="8.2"/><circle cx="914.7" cy="69.1" r="8.2"/><circle cx="915.7" cy="69.0" r="8.2"/><circle cx="916.7" cy="68.1" r="8.2"/><circle cx="918.1" cy="66.5" r="8.2"/><circle cx="919.1" cy="65.0" r="8.2"/><circle cx="920.0" cy="63.5" r="8.2"/><circle cx="921.3" cy="61.9" r="8.2"/><circle cx="922.3" cy="61.0" r="8.2"/><circle cx="923.3" cy="60.8" r="8.2"/><circle cx="924.5" cy="60.8" r="8.2"/><circle cx="925.4" cy="60.4" r="8.2"/>
</g>
<g fill="#9414d2">
<circle cx="263.4" cy="135.4" r="8.2"/><circle cx="377.9" cy="136.0" r="8.2"/><circle cx="450.2" cy="137.4" r="8.2"/><circle cx="486.6" cy="139.5" r="8.2"/><circle cx="514.7" cy="141.3" r="8.2"/><circle cx="543.9" cy="143.9" r="8.2"/><circle cx="562.4" cy="145.8" r="8.2"/><circle cx="578.5" cy="147.3" r="8.2"/><circle cx="596.8" cy="148.1" r="8.2"/><circle cx="609.3" cy="148.6" r="8.2"/><circle cx="620.6" cy="149.1" r="8.2"/><circle cx="634.0" cy="149.5" r="8.2"/><circle cx="643.3" cy="149.4" r="8.2"/><circle cx="652.0" cy="149.2" r="8.2"/><circle cx="662.6" cy="148.9" r="8.2"/><circle cx="670.1" cy="148.5" r="8.2"/><circle cx="677.2" cy="148.0" r="8.2"/><circle cx="685.8" cy="147.7" r="8.2"/><circle cx="692.1" cy="147.3" r="8.2"/><circle cx="698.1" cy="146.5" r="8.2"/><circle cx="705.4" cy="146.7" r="8.2"/><circle cx="710.8" cy="146.0" r="8.2"/><circle cx="716.0" cy="145.5" r="8.2"/><circle cx="722.4" cy="145.5" r="8.2"/><circle cx="727.1" cy="146.0" r="8.2"/><circle cx="731.7" cy="146.4" r="8.2"/><circle cx="737.3" cy="147.5" r="8.2"/><circle cx="741.5" cy="147.6" r="8.2"/><circle cx="745.6" cy="147.2" r="8.2"/><circle cx="750.7" cy="147.1" r="8.2"/><circle cx="754.5" cy="147.0" r="8.2"/><circle cx="758.1" cy="146.5" r="8.2"/><circle cx="762.7" cy="145.3" r="8.2"/><circle cx="766.2" cy="143.7" r="8.2"/><circle cx="769.5" cy="142.2" r="8.2"/><circle cx="773.7" cy="140.8" r="8.2"/><circle cx="776.9" cy="140.3" r="8.2"/><circle cx="780.0" cy="139.6" r="8.2"/><circle cx="783.8" cy="139.5" r="8.2"/><circle cx="786.8" cy="140.3" r="8.2"/><circle cx="789.6" cy="140.0" r="8.2"/><circle cx="793.2" cy="137.7" r="8.2"/><circle cx="795.9" cy="134.7" r="8.2"/><circle cx="798.5" cy="132.2" r="8.2"/><circle cx="801.9" cy="131.0" r="8.2"/><circle cx="804.4" cy="130.5" r="8.2"/><circle cx="806.9" cy="129.4" r="8.2"/><circle cx="810.0" cy="128.3" r="8.2"/><circle cx="812.4" cy="128.3" r="8.2"/><circle cx="814.7" cy="128.1" r="8.2"/><circle cx="817.7" cy="126.3" r="8.2"/><circle cx="819.9" cy="124.5" r="8.2"/><circle cx="822.1" cy="123.5" r="8.2"/><circle cx="824.9" cy="122.8" r="8.2"/><circle cx="827.0" cy="121.8" r="8.2"/><circle cx="829.1" cy="120.3" r="8.2"/><circle cx="831.7" cy="118.6" r="8.2"/><circle cx="833.7" cy="118.1" r="8.2"/><circle cx="835.6" cy="118.3" r="8.2"/><circle cx="838.2" cy="118.0" r="8.2"/><circle cx="840.0" cy="116.8" r="8.2"/><circle cx="841.9" cy="115.0" r="8.2"/><circle cx="844.3" cy="113.1" r="8.2"/><circle cx="846.1" cy="111.9" r="8.2"/><circle cx="847.9" cy="111.2" r="8.2"/><circle cx="850.2" cy="110.6" r="8.2"/><circle cx="851.9" cy="109.9" r="8.2"/><circle cx="853.6" cy="109.1" r="8.2"/><circle cx="855.8" cy="108.3" r="8.2"/><circle cx="857.4" cy="107.7" r="8.2"/><circle cx="859.0" cy="106.3" r="8.2"/><circle cx="861.1" cy="103.5" r="8.2"/><circle cx="862.7" cy="100.9" r="8.2"/><circle cx="864.2" cy="98.9" r="8.2"/><circle cx="866.2" cy="97.5" r="8.2"/><circle cx="867.8" cy="96.9" r="8.2"/><circle cx="869.3" cy="96.7" r="8.2"/><circle cx="871.2" cy="96.3" r="8.2"/><circle cx="872.6" cy="95.5" r="8.2"/><circle cx="874.1" cy="93.8" r="8.2"/><circle cx="875.9" cy="91.7" r="8.2"/><circle cx="877.3" cy="90.4" r="8.2"/><circle cx="878.7" cy="90.1" r="8.2"/><circle cx="880.5" cy="90.1" r="8.2"/><circle cx="881.8" cy="89.9" r="8.2"/><circle cx="883.2" cy="88.9" r="8.2"/><circle cx="884.9" cy="87.0" r="8.2"/><circle cx="886.2" cy="85.2" r="8.2"/><circle cx="887.5" cy="83.7" r="8.2"/><circle cx="889.2" cy="82.6" r="8.2"/><circle cx="890.4" cy="82.6" r="8.2"/><circle cx="891.7" cy="82.5" r="8.2"/><circle cx="893.3" cy="81.6" r="8.2"/><circle cx="894.5" cy="80.9" r="8.2"/><circle cx="895.7" cy="79.9" r="8.2"/><circle cx="897.3" cy="78.5" r="8.2"/><circle cx="898.5" cy="77.2" r="8.2"/><circle cx="899.6" cy="76.2" r="8.2"/><circle cx="901.2" cy="75.5" r="8.2"/><circle cx="902.3" cy="75.3" r="8.2"/><circle cx="903.4" cy="74.4" r="8.2"/><circle cx="904.9" cy="72.2" r="8.2"/><circle cx="906.0" cy="70.0" r="8.2"/><circle cx="907.1" cy="68.9" r="8.2"/><circle cx="908.5" cy="68.7" r="8.2"/><circle cx="909.6" cy="69.2" r="8.2"/><circle cx="910.7" cy="69.7" r="8.2"/><circle cx="912.1" cy="69.3" r="8.2"/><circle cx="913.1" cy="68.5" r="8.2"/><circle cx="914.2" cy="67.9" r="8.2"/><circle cx="915.5" cy="66.5" r="8.2"/><circle cx="916.6" cy="64.7" r="8.2"/><circle cx="917.6" cy="63.6" r="8.2"/><circle cx="918.9" cy="62.6" r="8.2"/><circle cx="919.9" cy="61.5" r="8.2"/><circle cx="920.9" cy="60.8" r="8.2"/>
</g>
<g fill="#f00a8c">
<circle cx="264.4" cy="202.5" r="8.2"/><circle cx="378.9" cy="204.9" r="8.2"/><circle cx="451.2" cy="207.8" r="8.2"/><circle cx="487.5" cy="209.0" r="8.2"/><circle cx="515.6" cy="210.8" r="8.2"/><circle cx="544.8" cy="212.8" r="8.2"/><circle cx="563.3" cy="215.0" r="8.2"/><circle cx="579.5" cy="215.5" r="8.2"/><circle cx="597.8" cy="216.0" r="8.2"/><circle cx="610.2" cy="216.0" r="8.2"/><circle cx="621.5" cy="213.9" r="8.2"/><circle cx="634.9" cy="212.3" r="8.2"/><circle cx="644.3" cy="210.5" r="8.2"/><circle cx="653.0" cy="208.6" r="8.2"/><circle cx="663.5" cy="205.1" r="8.2"/><circle cx="671.0" cy="202.0" r="8.2"/><circle cx="678.1" cy="199.2" r="8.2"/><circle cx="686.8" cy="195.9" r="8.2"/><circle cx="693.0" cy="193.3" r="8.2"/><circle cx="699.0" cy="190.9" r="8.2"/><circle cx="706.4" cy="187.8" r="8.2"/><circle cx="711.8" cy="186.0" r="8.2"/><circle cx="716.9" cy="183.7" r="8.2"/><circle cx="723.4" cy="181.1" r="8.2"/><circle cx="728.1" cy="179.0" r="8.2"/><circle cx="732.6" cy="177.0" r="8.2"/><circle cx="738.3" cy="174.6" r="8.2"/><circle cx="742.5" cy="171.8" r="8.2"/><circle cx="746.5" cy="169.6" r="8.2"/><circle cx="751.6" cy="167.3" r="8.2"/><circle cx="755.4" cy="166.1" r="8.2"/><circle cx="759.1" cy="163.8" r="8.2"/><circle cx="763.7" cy="160.6" r="8.2"/><circle cx="767.1" cy="158.4" r="8.2"/><circle cx="770.5" cy="156.8" r="8.2"/><circle cx="774.7" cy="154.0" r="8.2"/><circle cx="777.8" cy="151.5" r="8.2"/><circle cx="780.9" cy="149.2" r="8.2"/><circle cx="784.8" cy="146.2" r="8.2"/><circle cx="787.7" cy="143.8" r="8.2"/><circle cx="790.5" cy="141.6" r="8.2"/><circle cx="794.1" cy="139.3" r="8.2"/><circle cx="796.8" cy="138.3" r="8.2"/><circle cx="799.5" cy="137.7" r="8.2"/><circle cx="802.9" cy="136.1" r="8.2"/><circle cx="805.4" cy="134.3" r="8.2"/><circle cx="807.8" cy="132.3" r="8.2"/><circle cx="811.0" cy="129.7" r="8.2"/><circle cx="813.4" cy="127.3" r="8.2"/><circle cx="815.7" cy="125.3" r="8.2"/><circle cx="818.6" cy="123.5" r="8.2"/><circle cx="820.9" cy="122.4" r="8.2"/><circle cx="823.0" cy="121.4" r="8.2"/><circle cx="825.8" cy="119.8" r="8.2"/><circle cx="827.9" cy="118.5" r="8.2"/><circle cx="830.0" cy="117.5" r="8.2"/><circle cx="832.6" cy="115.8" r="8.2"/><circle cx="834.6" cy="114.4" r="8.2"/><circle cx="836.6" cy="113.2" r="8.2"/><circle cx="839.1" cy="112.0" r="8.2"/><circle cx="841.0" cy="111.4" r="8.2"/><circle cx="842.9" cy="110.6" r="8.2"/><circle cx="845.2" cy="109.0" r="8.2"/><circle cx="847.1" cy="108.0" r="8.2"/><circle cx="848.8" cy="106.9" r="8.2"/><circle cx="851.1" cy="104.9" r="8.2"/><circle cx="852.8" cy="103.1" r="8.2"/><circle cx="854.5" cy="101.7" r="8.2"/><circle cx="856.7" cy="99.6" r="8.2"/><circle cx="858.3" cy="97.5" r="8.2"/><circle cx="860.0" cy="95.8" r="8.2"/><circle cx="862.1" cy="94.3" r="8.2"/><circle cx="863.6" cy="93.2" r="8.2"/><circle cx="865.2" cy="91.6" r="8.2"/><circle cx="867.2" cy="89.8" r="8.2"/><circle cx="868.7" cy="89.6" r="8.2"/><circle cx="870.2" cy="90.2" r="8.2"/><circle cx="872.1" cy="89.5" r="8.2"/><circle cx="873.6" cy="87.7" r="8.2"/><circle cx="875.0" cy="85.2" r="8.2"/><circle cx="876.9" cy="82.9" r="8.2"/><circle cx="878.3" cy="81.7" r="8.2"/><circle cx="879.7" cy="80.3" r="8.2"/><circle cx="881.4" cy="78.4" r="8.2"/><circle cx="882.8" cy="77.6" r="8.2"/><circle cx="884.1" cy="77.7" r="8.2"/><circle cx="885.9" cy="77.8" r="8.2"/><circle cx="887.2" cy="78.3" r="8.2"/><circle cx="888.5" cy="78.2" r="8.2"/><circle cx="890.1" cy="76.8" r="8.2"/><circle cx="891.4" cy="74.9" r="8.2"/><circle cx="892.6" cy="73.0" r="8.2"/><circle cx="894.2" cy="71.5" r="8.2"/><circle cx="895.5" cy="70.7" r="8.2"/><circle cx="896.7" cy="70.1" r="8.2"/><circle cx="898.2" cy="69.1" r="8.2"/><circle cx="899.4" cy="68.3" r="8.2"/><circle cx="900.6" cy="67.4" r="8.2"/><circle cx="902.1" cy="66.3" r="8.2"/><circle cx="903.2" cy="65.6" r="8.2"/><circle cx="904.4" cy="64.0" r="8.2"/><circle cx="905.8" cy="61.9" r="8.2"/><circle cx="907.0" cy="61.0" r="8.2"/><circle cx="908.1" cy="60.9" r="8.2"/><circle cx="909.5" cy="60.5" r="8.2"/><circle cx="910.6" cy="60.3" r="8.2"/><circle cx="911.6" cy="60.0" r="8.2"/><circle cx="913.0" cy="59.0" r="8.2"/><circle cx="914.1" cy="58.3" r="8.2"/><circle cx="915.1" cy="57.9" r="8.2"/><circle cx="916.5" cy="57.3" r="8.2"/><circle cx="917.5" cy="57.0" r="8.2"/><circle cx="918.5" cy="56.7" r="8.2"/><circle cx="919.8" cy="55.3" r="8.2"/><circle cx="920.8" cy="53.8" r="8.2"/><circle cx="921.8" cy="52.7" r="8.2"/><circle cx="923.1" cy="51.3" r="8.2"/><circle cx="924.1" cy="50.0" r="8.2"/><circle cx="925.0" cy="49.1" r="8.2"/>
</g>
<g fill="#c80000">
<circle cx="268.2" cy="288.6" r="8.2"/><circle cx="382.7" cy="290.1" r="8.2"/><circle cx="455.0" cy="286.6" r="8.2"/><circle cx="491.4" cy="285.1" r="8.2"/><circle cx="519.5" cy="283.0" r="8.2"/><circle cx="548.7" cy="279.9" r="8.2"/><circle cx="567.2" cy="277.8" r="8.2"/><circle cx="583.3" cy="273.5" r="8.2"/><circle cx="601.6" cy="267.7" r="8.2"/><circle cx="614.1" cy="263.2" r="8.2"/><circle cx="625.4" cy="258.3" r="8.2"/><circle cx="638.8" cy="251.7" r="8.2"/><circle cx="648.1" cy="246.0" r="8.2"/><circle cx="656.8" cy="240.0" r="8.2"/><circle cx="667.4" cy="232.4" r="8.2"/><circle cx="674.9" cy="226.8" r="8.2"/><circle cx="682.0" cy="221.2" r="8.2"/><circle cx="690.6" cy="214.3" r="8.2"/><circle cx="696.9" cy="209.5" r="8.2"/><circle cx="702.9" cy="204.9" r="8.2"/><circle cx="710.2" cy="199.5" r="8.2"/><circle cx="715.6" cy="196.1" r="8.2"/><circle cx="720.8" cy="192.6" r="8.2"/><circle cx="727.2" cy="188.7" r="8.2"/><circle cx="731.9" cy="184.1" r="8.2"/><circle cx="736.5" cy="180.8" r="8.2"/><circle cx="742.1" cy="176.2" r="8.2"/><circle cx="746.3" cy="173.9" r="8.2"/><circle cx="750.4" cy="172.0" r="8.2"/><circle cx="755.5" cy="168.6" r="8.2"/><circle cx="759.3" cy="166.9" r="8.2"/><circle cx="762.9" cy="165.2" r="8.2"/><circle cx="767.5" cy="162.1" r="8.2"/><circle cx="771.0" cy="158.9" r="8.2"/><circle cx="774.3" cy="156.8" r="8.2"/><circle cx="778.5" cy="154.9" r="8.2"/><circle cx="781.7" cy="153.0" r="8.2"/><circle cx="784.7" cy="150.2" r="8.2"/><circle cx="788.6" cy="147.3" r="8.2"/><circle cx="791.5" cy="146.1" r="8.2"/><circle cx="794.4" cy="145.8" r="8.2"/><circle cx="798.0" cy="144.8" r="8.2"/><circle cx="800.7" cy="143.6" r="8.2"/><circle cx="803.3" cy="141.5" r="8.2"/><circle cx="806.7" cy="139.2" r="8.2"/><circle cx="809.2" cy="138.0" r="8.2"/><circle cx="811.7" cy="136.3" r="8.2"/><circle cx="814.8" cy="133.5" r="8.2"/><circle cx="817.2" cy="131.6" r="8.2"/><circle cx="819.5" cy="129.9" r="8.2"/><circle cx="822.5" cy="127.5" r="8.2"/><circle cx="824.7" cy="125.8" r="8.2"/><circle cx="826.9" cy="124.7" r="8.2"/><circle cx="829.7" cy="122.7" r="8.2"/><circle cx="831.8" cy="120.3" r="8.2"/><circle cx="833.9" cy="117.6" r="8.2"/><circle cx="836.5" cy="114.4" r="8.2"/><circle cx="838.5" cy="113.0" r="8.2"/><circle cx="840.4" cy="112.5" r="8.2"/><circle cx="843.0" cy="110.9" r="8.2"/><circle cx="844.8" cy="109.4" r="8.2"/><circle cx="846.7" cy="108.5" r="8.2"/><circle cx="849.1" cy="106.7" r="8.2"/><circle cx="850.9" cy="104.4" r="8.2"/><circle cx="852.7" cy="102.1" r="8.2"/><circle cx="855.0" cy="100.1" r="8.2"/><circle cx="856.7" cy="99.6" r="8.2"/><circle cx="858.4" cy="99.8" r="8.2"/><circle cx="860.6" cy="98.2" r="8.2"/><circle cx="862.2" cy="96.2" r="8.2"/><circle cx="863.8" cy="95.2" r="8.2"/><circle cx="865.9" cy="94.1" r="8.2"/><circle cx="867.5" cy="93.1" r="8.2"/><circle cx="869.0" cy="92.1" r="8.2"/><circle cx="871.0" cy="90.7" r="8.2"/><circle cx="872.6" cy="89.1" r="8.2"/><circle cx="874.1" cy="88.4" r="8.2"/><circle cx="876.0" cy="88.0" r="8.2"/><circle cx="877.4" cy="87.1" r="8.2"/><circle cx="878.9" cy="85.5" r="8.2"/><circle cx="880.7" cy="83.2" r="8.2"/><circle cx="882.1" cy="80.8" r="8.2"/><circle cx="883.5" cy="79.8" r="8.2"/><circle cx="885.3" cy="79.7" r="8.2"/><circle cx="886.6" cy="79.5" r="8.2"/><circle cx="888.0" cy="78.1" r="8.2"/><circle cx="889.7" cy="76.1" r="8.2"/><circle cx="891.0" cy="74.6" r="8.2"/><circle cx="892.3" cy="73.9" r="8.2"/><circle cx="894.0" cy="73.6" r="8.2"/><circle cx="895.2" cy="73.9" r="8.2"/><circle cx="896.5" cy="73.8" r="8.2"/><circle cx="898.1" cy="72.6" r="8.2"/><circle cx="899.3" cy="70.5" r="8.2"/><circle cx="900.5" cy="68.1" r="8.2"/><circle cx="902.1" cy="66.5" r="8.2"/><circle cx="903.3" cy="66.6" r="8.2"/><circle cx="904.4" cy="66.8" r="8.2"/><circle cx="905.9" cy="65.9" r="8.2"/><circle cx="907.1" cy="64.7" r="8.2"/><circle cx="908.2" cy="63.0" r="8.2"/><circle cx="909.7" cy="61.1" r="8.2"/><circle cx="910.8" cy="60.4" r="8.2"/><circle cx="911.9" cy="60.5" r="8.2"/><circle cx="913.3" cy="60.1" r="8.2"/><circle cx="914.4" cy="59.8" r="8.2"/><circle cx="915.5" cy="59.4" r="8.2"/><circle cx="916.9" cy="58.4" r="8.2"/><circle cx="917.9" cy="57.4" r="8.2"/><circle cx="919.0" cy="56.3" r="8.2"/><circle cx="920.3" cy="54.6" r="8.2"/><circle cx="921.3" cy="53.7" r="8.2"/><circle cx="922.4" cy="53.7" r="8.2"/><circle cx="923.7" cy="53.6" r="8.2"/><circle cx="924.7" cy="53.1" r="8.2"/><circle cx="925.7" cy="51.8" r="8.2"/><circle cx="926.9" cy="49.3" r="8.2"/><circle cx="927.9" cy="46.8" r="8.2"/><circle cx="928.9" cy="45.1" r="8.2"/>
</g>
<g fill="#000000">
<circle cx="273.6" cy="322.0" r="8.2"/><circle cx="388.1" cy="321.9" r="8.2"/><circle cx="460.4" cy="314.5" r="8.2"/><circle cx="496.7" cy="308.5" r="8.2"/><circle cx="524.9" cy="301.5" r="8.2"/><circle cx="554.0" cy="293.0" r="8.2"/><circle cx="572.6" cy="286.4" r="8.2"/><circle cx="588.7" cy="279.1" r="8.2"/><circle cx="607.0" cy="267.6" r="8.2"/><circle cx="619.5" cy="259.6" r="8.2"/><circle cx="630.8" cy="251.1" r="8.2"/><circle cx="644.1" cy="241.1" r="8.2"/><circle cx="653.5" cy="233.3" r="8.2"/><circle cx="662.2" cy="226.5" r="8.2"/><circle cx="672.7" cy="219.8" r="8.2"/><circle cx="680.2" cy="215.5" r="8.2"/><circle cx="687.3" cy="211.5" r="8.2"/><circle cx="696.0" cy="206.6" r="8.2"/><circle cx="702.3" cy="202.6" r="8.2"/><circle cx="708.2" cy="198.7" r="8.2"/><circle cx="715.6" cy="193.1" r="8.2"/><circle cx="721.0" cy="189.5" r="8.2"/><circle cx="726.2" cy="186.4" r="8.2"/><circle cx="732.6" cy="181.9" r="8.2"/><circle cx="737.3" cy="179.0" r="8.2"/><circle cx="741.8" cy="176.4" r="8.2"/><circle cx="747.5" cy="173.8" r="8.2"/><circle cx="751.7" cy="170.3" r="8.2"/><circle cx="755.8" cy="166.7" r="8.2"/><circle cx="760.9" cy="163.3" r="8.2"/><circle cx="764.6" cy="161.6" r="8.2"/><circle cx="768.3" cy="159.6" r="8.2"/><circle cx="772.9" cy="156.5" r="8.2"/><circle cx="776.3" cy="153.9" r="8.2"/><circle cx="779.7" cy="152.4" r="8.2"/><circle cx="783.9" cy="151.4" r="8.2"/><circle cx="787.1" cy="150.4" r="8.2"/><circle cx="790.1" cy="147.9" r="8.2"/><circle cx="794.0" cy="144.8" r="8.2"/><circle cx="796.9" cy="143.1" r="8.2"/><circle cx="799.8" cy="141.0" r="8.2"/><circle cx="803.4" cy="137.1" r="8.2"/><circle cx="806.1" cy="133.7" r="8.2"/><circle cx="808.7" cy="131.7" r="8.2"/><circle cx="812.1" cy="129.8" r="8.2"/><circle cx="814.6" cy="128.2" r="8.2"/><circle cx="817.1" cy="127.1" r="8.2"/><circle cx="820.2" cy="126.8" r="8.2"/><circle cx="822.6" cy="127.1" r="8.2"/><circle cx="824.9" cy="125.7" r="8.2"/><circle cx="827.9" cy="122.5" r="8.2"/><circle cx="830.1" cy="119.9" r="8.2"/><circle cx="832.3" cy="118.6" r="8.2"/><circle cx="835.1" cy="117.4" r="8.2"/><circle cx="837.2" cy="116.5" r="8.2"/><circle cx="839.2" cy="116.0" r="8.2"/><circle cx="841.9" cy="115.3" r="8.2"/><circle cx="843.9" cy="114.0" r="8.2"/><circle cx="845.8" cy="111.3" r="8.2"/><circle cx="848.3" cy="108.2" r="8.2"/><circle cx="850.2" cy="106.3" r="8.2"/><circle cx="852.1" cy="105.0" r="8.2"/><circle cx="854.5" cy="103.6" r="8.2"/><circle cx="856.3" cy="103.2" r="8.2"/><circle cx="858.1" cy="102.5" r="8.2"/><circle cx="860.3" cy="100.5" r="8.2"/><circle cx="862.1" cy="98.6" r="8.2"/><circle cx="863.7" cy="97.5" r="8.2"/><circle cx="865.9" cy="96.2" r="8.2"/><circle cx="867.6" cy="95.2" r="8.2"/><circle cx="869.2" cy="94.6" r="8.2"/><circle cx="871.3" cy="94.0" r="8.2"/><circle cx="872.9" cy="93.1" r="8.2"/><circle cx="874.4" cy="91.6" r="8.2"/><circle cx="876.4" cy="90.0" r="8.2"/><circle cx="877.9" cy="89.0" r="8.2"/><circle cx="879.4" cy="87.6" r="8.2"/><circle cx="881.4" cy="85.6" r="8.2"/><circle cx="882.8" cy="84.3" r="8.2"/><circle cx="884.2" cy="83.4" r="8.2"/><circle cx="886.1" cy="82.8" r="8.2"/><circle cx="887.5" cy="82.7" r="8.2"/><circle cx="888.9" cy="81.6" r="8.2"/><circle cx="890.7" cy="79.5" r="8.2"/><circle cx="892.0" cy="78.3" r="8.2"/><circle cx="893.4" cy="78.0" r="8.2"/><circle cx="895.1" cy="77.0" r="8.2"/><circle cx="896.4" cy="76.0" r="8.2"/><circle cx="897.7" cy="75.7" r="8.2"/><circle cx="899.3" cy="75.5" r="8.2"/><circle cx="900.6" cy="74.7" r="8.2"/><circle cx="901.9" cy="72.8" r="8.2"/><circle cx="903.5" cy="70.8" r="8.2"/><circle cx="904.7" cy="69.8" r="8.2"/><circle cx="905.9" cy="68.9" r="8.2"/><circle cx="907.5" cy="67.5" r="8.2"/><circle cx="908.6" cy="66.2" r="8.2"/><circle cx="909.8" cy="65.7" r="8.2"/><circle cx="911.3" cy="65.8" r="8.2"/><circle cx="912.5" cy="65.9" r="8.2"/><circle cx="913.6" cy="65.0" r="8.2"/><circle cx="915.1" cy="63.2" r="8.2"/><circle cx="916.2" cy="62.0" r="8.2"/><circle cx="917.3" cy="61.8" r="8.2"/><circle cx="918.7" cy="61.5" r="8.2"/><circle cx="919.8" cy="61.1" r="8.2"/><circle cx="920.9" cy="59.8" r="8.2"/><circle cx="922.3" cy="57.7" r="8.2"/><circle cx="923.3" cy="56.5" r="8.2"/><circle cx="924.4" cy="55.8" r="8.2"/><circle cx="925.7" cy="54.7" r="8.2"/><circle cx="926.7" cy="53.5" r="8.2"/><circle cx="927.7" cy="52.0" r="8.2"/><circle cx="929.1" cy="50.2" r="8.2"/><circle cx="930.0" cy="49.5" r="8.2"/><circle cx="931.0" cy="48.8" r="8.2"/><circle cx="932.3" cy="47.5" r="8.2"/><circle cx="933.3" cy="46.1" r="8.2"/><circle cx="934.2" cy="44.9" r="8.2"/><circle cx="935.5" cy="44.2" r="8.2"/><circle cx="936.4" cy="44.2" r="8.2"/>
</g>
<line x1="133.50" y1="0.00" x2="133.50" y2="365.80" stroke="#000" stroke-width="3" stroke-linecap="butt"/>
<line x1="132.00" y1="364.30" x2="1000.00" y2="364.30" stroke="#000" stroke-width="3" stroke-linecap="butt"/>
<line x1="133.50" y1="364.30" x2="142.00" y2="364.30" stroke="#000" stroke-width="1.5" stroke-linecap="butt"/>
<line x1="133.50" y1="338.35" x2="138.00" y2="338.35" stroke="#000" stroke-width="1.5" stroke-linecap="butt"/>
<line x1="133.50" y1="312.40" x2="142.00" y2="312.40" stroke="#000" stroke-width="1.5" stroke-linecap="butt"/>
<line x1="133.50" y1="286.45" x2="138.00" y2="286.45" stroke="#000" stroke-width="1.5" stroke-linecap="butt"/>
<line x1="133.50" y1="260.50" x2="142.00" y2="260.50" stroke="#000" stroke-width="1.5" stroke-linecap="butt"/>
<line x1="133.50" y1="234.55" x2="138.00" y2="234.55" stroke="#000" stroke-width="1.5" stroke-linecap="butt"/>
<line x1="133.50" y1="208.60" x2="142.00" y2="208.60" stroke="#000" stroke-width="1.5" stroke-linecap="butt"/>
<line x1="133.50" y1="182.65" x2="138.00" y2="182.65" stroke="#000" stroke-width="1.5" stroke-linecap="butt"/>
<line x1="133.50" y1="156.70" x2="142.00" y2="156.70" stroke="#000" stroke-width="1.5" stroke-linecap="butt"/>
<line x1="133.50" y1="130.75" x2="138.00" y2="130.75" stroke="#000" stroke-width="1.5" stroke-linecap="butt"/>
<line x1="133.50" y1="104.80" x2="142.00" y2="104.80" stroke="#000" stroke-width="1.5" stroke-linecap="butt"/>
<line x1="133.50" y1="78.85" x2="138.00" y2="78.85" stroke="#000" stroke-width="1.5" stroke-linecap="butt"/>
<line x1="133.50" y1="52.90" x2="142.00" y2="52.90" stroke="#000" stroke-width="1.5" stroke-linecap="butt"/>
<line x1="133.50" y1="26.95" x2="138.00" y2="26.95" stroke="#000" stroke-width="1.5" stroke-linecap="butt"/>
<line x1="133.50" y1="1.00" x2="142.00" y2="1.00" stroke="#000" stroke-width="1.5" stroke-linecap="butt"/>
<line x1="155.50" y1="364.30" x2="155.50" y2="359.50" stroke="#000" stroke-width="1.5" stroke-linecap="butt"/>
<line x1="174.81" y1="364.30" x2="174.81" y2="359.50" stroke="#000" stroke-width="1.5" stroke-linecap="butt"/>
<line x1="191.54" y1="364.30" x2="191.54" y2="359.50" stroke="#000" stroke-width="1.5" stroke-linecap="butt"/>
<line x1="206.30" y1="364.30" x2="206.30" y2="359.50" stroke="#000" stroke-width="1.5" stroke-linecap="butt"/>
<line x1="219.50" y1="364.30" x2="219.50" y2="356.00" stroke="#000" stroke-width="1.5" stroke-linecap="butt"/>
<line x1="306.35" y1="364.30" x2="306.35" y2="359.50" stroke="#000" stroke-width="1.5" stroke-linecap="butt"/>
<line x1="357.15" y1="364.30" x2="357.15" y2="359.50" stroke="#000" stroke-width="1.5" stroke-linecap="butt"/>
<line x1="393.19" y1="364.30" x2="393.19" y2="359.50" stroke="#000" stroke-width="1.5" stroke-linecap="butt"/>
<line x1="421.15" y1="364.30" x2="421.15" y2="359.50" stroke="#000" stroke-width="1.5" stroke-linecap="butt"/>
<line x1="444.00" y1="364.30" x2="444.00" y2="359.50" stroke="#000" stroke-width="1.5" stroke-linecap="butt"/>
<line x1="463.31" y1="364.30" x2="463.31" y2="359.50" stroke="#000" stroke-width="1.5" stroke-linecap="butt"/>
<line x1="480.04" y1="364.30" x2="480.04" y2="359.50" stroke="#000" stroke-width="1.5" stroke-linecap="butt"/>
<line x1="494.80" y1="364.30" x2="494.80" y2="359.50" stroke="#000" stroke-width="1.5" stroke-linecap="butt"/>
<line x1="508.00" y1="364.30" x2="508.00" y2="356.00" stroke="#000" stroke-width="1.5" stroke-linecap="butt"/>
<line x1="594.85" y1="364.30" x2="594.85" y2="359.50" stroke="#000" stroke-width="1.5" stroke-linecap="butt"/>
<line x1="645.65" y1="364.30" x2="645.65" y2="359.50" stroke="#000" stroke-width="1.5" stroke-linecap="butt"/>
<line x1="681.69" y1="364.30" x2="681.69" y2="359.50" stroke="#000" stroke-width="1.5" stroke-linecap="butt"/>
<line x1="709.65" y1="364.30" x2="709.65" y2="359.50" stroke="#000" stroke-width="1.5" stroke-linecap="butt"/>
<line x1="732.50" y1="364.30" x2="732.50" y2="359.50" stroke="#000" stroke-width="1.5" stroke-linecap="butt"/>
<line x1="751.81" y1="364.30" x2="751.81" y2="359.50" stroke="#000" stroke-width="1.5" stroke-linecap="butt"/>
<line x1="768.54" y1="364.30" x2="768.54" y2="359.50" stroke="#000" stroke-width="1.5" stroke-linecap="butt"/>
<line x1="783.30" y1="364.30" x2="783.30" y2="359.50" stroke="#000" stroke-width="1.5" stroke-linecap="butt"/>
<line x1="796.50" y1="364.30" x2="796.50" y2="356.00" stroke="#000" stroke-width="1.5" stroke-linecap="butt"/>
<line x1="883.35" y1="364.30" x2="883.35" y2="359.50" stroke="#000" stroke-width="1.5" stroke-linecap="butt"/>
<line x1="934.15" y1="364.30" x2="934.15" y2="359.50" stroke="#000" stroke-width="1.5" stroke-linecap="butt"/>
<line x1="970.19" y1="364.30" x2="970.19" y2="359.50" stroke="#000" stroke-width="1.5" stroke-linecap="butt"/>
<line x1="998.15" y1="364.30" x2="998.15" y2="359.50" stroke="#000" stroke-width="1.5" stroke-linecap="butt"/>
<text transform="translate(124.30,62.00) scale(0.81,1)" font-family="Liberation Sans" font-size="34.3" fill="#000" text-anchor="end" font-weight="normal" font-style="normal" >6.0</text>
<text transform="translate(124.30,167.00) scale(0.81,1)" font-family="Liberation Sans" font-size="34.3" fill="#000" text-anchor="end" font-weight="normal" font-style="normal" >5.6</text>
<text transform="translate(124.30,271.70) scale(0.81,1)" font-family="Liberation Sans" font-size="34.3" fill="#000" text-anchor="end" font-weight="normal" font-style="normal" >5.2</text>
<text transform="translate(124.30,372.00) scale(0.81,1)" font-family="Liberation Sans" font-size="34.3" fill="#000" text-anchor="end" font-weight="normal" font-style="normal" >4.8</text>
<text transform="translate(218.00,399.50) scale(0.81,1)" font-family="Liberation Sans" font-size="34.3" fill="#000" text-anchor="middle" font-weight="normal" font-style="normal" >0.1</text>
<text transform="translate(506.50,399.50) scale(0.81,1)" font-family="Liberation Sans" font-size="34.3" fill="#000" text-anchor="middle" font-weight="normal" font-style="normal" >1</text>
<text transform="translate(795.00,399.50) scale(0.81,1)" font-family="Liberation Sans" font-size="34.3" fill="#000" text-anchor="middle" font-weight="normal" font-style="normal" >10</text>
<text transform="translate(901.5,404.5) scale(0.81,1)" font-family="Liberation Sans" font-size="34.3"><tspan font-style="italic">V</tspan><tspan dx="-1"> (mV)</tspan></text>
<text transform="translate(67.9,232.4) rotate(-90) scale(0.81,1)" font-family="Liberation Sans" font-size="34.3"><tspan font-style="italic">g</tspan> (e<tspan font-size="20" dy="-15.5">2</tspan><tspan dy="15.5">/</tspan><tspan font-style="italic">h</tspan>)</text>
<text transform="translate(902.00,137.60) scale(0.81,1)" font-family="Liberation Sans" font-size="29" fill="#000000" text-anchor="start" font-weight="normal" font-style="normal" >3 K</text>
<text transform="translate(902.00,169.50) scale(0.81,1)" font-family="Liberation Sans" font-size="29" fill="#c80000" text-anchor="start" font-weight="normal" font-style="normal" >5 K</text>
<text transform="translate(902.00,201.40) scale(0.81,1)" font-family="Liberation Sans" font-size="29" fill="#f00a8c" text-anchor="start" font-weight="normal" font-style="normal" >10 K</text>
<text transform="translate(902.00,233.30) scale(0.81,1)" font-family="Liberation Sans" font-size="29" fill="#9414d2" text-anchor="start" font-weight="normal" font-style="normal" >20 K</text>
<text transform="translate(902.00,265.20) scale(0.81,1)" font-family="Liberation Sans" font-size="29" fill="#0000d0" text-anchor="start" font-weight="normal" font-style="normal" >30 K</text>
<text transform="translate(902.00,297.10) scale(0.81,1)" font-family="Liberation Sans" font-size="29" fill="#00aee8" text-anchor="start" font-weight="normal" font-style="normal" >40 K</text>
<text transform="translate(902.00,329.00) scale(0.81,1)" font-family="Liberation Sans" font-size="29" fill="#8ee3ec" text-anchor="start" font-weight="normal" font-style="normal" >55 K</text>
<text transform="translate(802.50,315.50) scale(0.81,1)" font-family="Liberation Sans" font-size="50" fill="#000" text-anchor="start" font-weight="bold" font-style="normal" >(a)</text>
<line x1="128.60" y1="456.60" x2="128.60" y2="819.00" stroke="#000" stroke-width="3" stroke-linecap="butt"/>
<line x1="127.00" y1="810.40" x2="1000.00" y2="810.40" stroke="#000" stroke-width="3.2" stroke-linecap="butt"/>
<line x1="128.60" y1="810.40" x2="137.00" y2="810.40" stroke="#000" stroke-width="1.5" stroke-linecap="butt"/>
<line x1="128.60" y1="781.03" x2="133.50" y2="781.03" stroke="#000" stroke-width="1.5" stroke-linecap="butt"/>
<line x1="128.60" y1="751.66" x2="133.50" y2="751.66" stroke="#000" stroke-width="1.5" stroke-linecap="butt"/>
<line x1="128.60" y1="722.29" x2="133.50" y2="722.29" stroke="#000" stroke-width="1.5" stroke-linecap="butt"/>
<line x1="128.60" y1="692.92" x2="137.00" y2="692.92" stroke="#000" stroke-width="1.5" stroke-linecap="butt"/>
<line x1="128.60" y1="663.55" x2="133.50" y2="663.55" stroke="#000" stroke-width="1.5" stroke-linecap="butt"/>
<line x1="128.60" y1="634.18" x2="133.50" y2="634.18" stroke="#000" stroke-width="1.5" stroke-linecap="butt"/>
<line x1="128.60" y1="604.81" x2="133.50" y2="604.81" stroke="#000" stroke-width="1.5" stroke-linecap="butt"/>
<line x1="128.60" y1="575.44" x2="137.00" y2="575.44" stroke="#000" stroke-width="1.5" stroke-linecap="butt"/>
<line x1="128.60" y1="546.07" x2="133.50" y2="546.07" stroke="#000" stroke-width="1.5" stroke-linecap="butt"/>
<line x1="128.60" y1="516.70" x2="133.50" y2="516.70" stroke="#000" stroke-width="1.5" stroke-linecap="butt"/>
<line x1="128.60" y1="487.33" x2="133.50" y2="487.33" stroke="#000" stroke-width="1.5" stroke-linecap="butt"/>
<line x1="128.60" y1="457.96" x2="137.00" y2="457.96" stroke="#000" stroke-width="1.5" stroke-linecap="butt"/>
<line x1="191.13" y1="810.40" x2="191.13" y2="805.50" stroke="#000" stroke-width="1.5" stroke-linecap="butt"/>
<line x1="227.83" y1="810.40" x2="227.83" y2="805.50" stroke="#000" stroke-width="1.5" stroke-linecap="butt"/>
<line x1="253.87" y1="810.40" x2="253.87" y2="805.50" stroke="#000" stroke-width="1.5" stroke-linecap="butt"/>
<line x1="274.07" y1="810.40" x2="274.07" y2="805.50" stroke="#000" stroke-width="1.5" stroke-linecap="butt"/>
<line x1="290.57" y1="810.40" x2="290.57" y2="805.50" stroke="#000" stroke-width="1.5" stroke-linecap="butt"/>
<line x1="304.52" y1="810.40" x2="304.52" y2="805.50" stroke="#000" stroke-width="1.5" stroke-linecap="butt"/>
<line x1="316.60" y1="810.40" x2="316.60" y2="805.50" stroke="#000" stroke-width="1.5" stroke-linecap="butt"/>
<line x1="327.26" y1="810.40" x2="327.26" y2="805.50" stroke="#000" stroke-width="1.5" stroke-linecap="butt"/>
<line x1="336.80" y1="810.40" x2="336.80" y2="802.00" stroke="#000" stroke-width="1.5" stroke-linecap="butt"/>
<line x1="399.53" y1="810.40" x2="399.53" y2="805.50" stroke="#000" stroke-width="1.5" stroke-linecap="butt"/>
<line x1="436.23" y1="810.40" x2="436.23" y2="805.50" stroke="#000" stroke-width="1.5" stroke-linecap="butt"/>
<line x1="462.27" y1="810.40" x2="462.27" y2="805.50" stroke="#000" stroke-width="1.5" stroke-linecap="butt"/>
<line x1="482.47" y1="810.40" x2="482.47" y2="805.50" stroke="#000" stroke-width="1.5" stroke-linecap="butt"/>
<line x1="498.97" y1="810.40" x2="498.97" y2="805.50" stroke="#000" stroke-width="1.5" stroke-linecap="butt"/>
<line x1="512.92" y1="810.40" x2="512.92" y2="805.50" stroke="#000" stroke-width="1.5" stroke-linecap="butt"/>
<line x1="525.00" y1="810.40" x2="525.00" y2="805.50" stroke="#000" stroke-width="1.5" stroke-linecap="butt"/>
<line x1="535.66" y1="810.40" x2="535.66" y2="805.50" stroke="#000" stroke-width="1.5" stroke-linecap="butt"/>
<line x1="545.20" y1="810.40" x2="545.20" y2="802.00" stroke="#000" stroke-width="1.5" stroke-linecap="butt"/>
<line x1="607.93" y1="810.40" x2="607.93" y2="805.50" stroke="#000" stroke-width="1.5" stroke-linecap="butt"/>
<line x1="644.63" y1="810.40" x2="644.63" y2="805.50" stroke="#000" stroke-width="1.5" stroke-linecap="butt"/>
<line x1="670.67" y1="810.40" x2="670.67" y2="805.50" stroke="#000" stroke-width="1.5" stroke-linecap="butt"/>
<line x1="690.87" y1="810.40" x2="690.87" y2="805.50" stroke="#000" stroke-width="1.5" stroke-linecap="butt"/>
<line x1="707.37" y1="810.40" x2="707.37" y2="805.50" stroke="#000" stroke-width="1.5" stroke-linecap="butt"/>
<line x1="721.32" y1="810.40" x2="721.32" y2="805.50" stroke="#000" stroke-width="1.5" stroke-linecap="butt"/>
<line x1="733.40" y1="810.40" x2="733.40" y2="805.50" stroke="#000" stroke-width="1.5" stroke-linecap="butt"/>
<line x1="744.06" y1="810.40" x2="744.06" y2="805.50" stroke="#000" stroke-width="1.5" stroke-linecap="butt"/>
<line x1="753.60" y1="810.40" x2="753.60" y2="802.00" stroke="#000" stroke-width="1.5" stroke-linecap="butt"/>
<line x1="816.33" y1="810.40" x2="816.33" y2="805.50" stroke="#000" stroke-width="1.5" stroke-linecap="butt"/>
<line x1="853.03" y1="810.40" x2="853.03" y2="805.50" stroke="#000" stroke-width="1.5" stroke-linecap="butt"/>
<line x1="879.07" y1="810.40" x2="879.07" y2="805.50" stroke="#000" stroke-width="1.5" stroke-linecap="butt"/>
<line x1="899.27" y1="810.40" x2="899.27" y2="805.50" stroke="#000" stroke-width="1.5" stroke-linecap="butt"/>
<line x1="915.77" y1="810.40" x2="915.77" y2="805.50" stroke="#000" stroke-width="1.5" stroke-linecap="butt"/>
<line x1="929.72" y1="810.40" x2="929.72" y2="805.50" stroke="#000" stroke-width="1.5" stroke-linecap="butt"/>
<line x1="941.80" y1="810.40" x2="941.80" y2="805.50" stroke="#000" stroke-width="1.5" stroke-linecap="butt"/>
<line x1="952.46" y1="810.40" x2="952.46" y2="805.50" stroke="#000" stroke-width="1.5" stroke-linecap="butt"/>
<line x1="962.00" y1="810.40" x2="962.00" y2="802.00" stroke="#000" stroke-width="1.5" stroke-linecap="butt"/>
<polyline points="161.7,788.8 163.5,788.8 165.3,788.8 167.1,788.8 168.9,788.8 170.7,788.8 172.5,788.9 174.3,788.9 176.1,788.9 177.9,788.9 179.6,788.9 181.4,788.9 183.2,788.9 185.0,788.9 186.8,788.9 188.6,788.9 190.4,788.9 192.2,788.9 194.0,789.0 195.8,789.0 197.6,789.0 199.4,789.0 201.2,789.0 203.0,789.0 204.8,789.0 206.6,789.0 208.4,789.0 210.2,789.1 212.0,789.1 213.8,789.1 215.6,789.1 217.4,789.1 219.2,789.1 221.0,789.1 222.8,789.1 224.6,789.2 226.4,789.2 228.2,789.2 230.0,789.2 231.8,789.2 233.6,789.2 235.4,789.3 237.2,789.3 239.0,789.3 240.8,789.3 242.6,789.4 244.4,789.4 246.2,789.4 248.0,789.4 249.8,789.5 251.6,789.5 253.4,789.5 255.2,789.5 257.0,789.6 258.8,789.6 260.6,789.6 262.4,789.7 264.2,789.7 266.0,789.7 267.8,789.7 269.6,789.8 271.4,789.8 273.2,789.8 275.0,789.9 276.7,789.9 278.5,789.9 280.3,790.0 282.1,790.0 283.9,790.0 285.7,790.0 287.5,790.1 289.3,790.1 291.1,790.1 292.9,790.1 294.7,790.2 296.5,790.2 298.3,790.2 300.1,790.2 301.9,790.2 303.7,790.3 305.5,790.3 307.3,790.3 309.1,790.3 310.9,790.3 312.7,790.3 314.5,790.4 316.3,790.4 318.1,790.4 319.9,790.4 321.7,790.4 323.5,790.4 325.3,790.5 327.1,790.5 328.9,790.5 330.7,790.5 332.5,790.5 334.3,790.5 336.1,790.5 337.9,790.6 339.7,790.6 341.5,790.6 343.3,790.6 345.1,790.6 346.9,790.6 348.7,790.6 350.5,790.6 352.3,790.6 354.1,790.6 355.9,790.6 357.7,790.6 359.5,790.6 361.3,790.6 363.1,790.6 364.9,790.6 366.7,790.6 368.5,790.6 370.3,790.6 372.1,790.6 373.8,790.6 375.6,790.6 377.4,790.6 379.2,790.6 381.0,790.6 382.8,790.6 384.6,790.6 386.4,790.6 388.2,790.6 390.0,790.6 391.8,790.6 393.6,790.6 395.4,790.6 397.2,790.6 399.0,790.6 400.8,790.6 402.6,790.6 404.4,790.6 406.2,790.6 408.0,790.6 409.8,790.5 411.6,790.5 413.4,790.5 415.2,790.5 417.0,790.5 418.8,790.5 420.6,790.5 422.4,790.5 424.2,790.5 426.0,790.5 427.8,790.5 429.6,790.5 431.4,790.5 433.2,790.6 435.0,790.6 436.8,790.6 438.6,790.7 440.4,790.7 442.2,790.8 444.0,790.8 445.8,790.9 447.6,791.0 449.4,791.0 451.2,791.1 453.0,791.2 454.8,791.3 456.6,791.4 458.4,791.4 460.2,791.5 462.0,791.6 463.8,791.7 465.6,791.7 467.4,791.8 469.1,791.9 470.9,792.0 472.7,792.0 474.5,792.1 476.3,792.2 478.1,792.3 479.9,792.4 481.7,792.5 483.5,792.6 485.3,792.7 487.1,792.8 488.9,793.0 490.7,793.1 492.5,793.2 494.3,793.4 496.1,793.6 497.9,793.8 499.7,794.0 501.5,794.3 503.3,794.5 505.1,794.8 506.9,795.2 508.7,795.5 510.5,795.9 512.3,796.2 514.1,796.6 515.9,797.0 517.7,797.4 519.5,797.8 521.3,798.2 523.1,798.6 524.9,798.9 526.7,799.3 528.5,799.7 530.3,800.1 532.1,800.4 533.9,800.7 535.7,801.0 537.5,801.3 539.3,801.6 541.1,801.9 542.9,802.2 544.7,802.5 546.5,802.8 548.3,803.0 550.1,803.3 551.9,803.6 553.7,803.9 555.5,804.2 557.3,804.4 559.1,804.7 560.9,804.9 562.7,805.2 564.5,805.4 566.2,805.7 568.0,805.9 569.8,806.1 571.6,806.3 573.4,806.5 575.2,806.8 577.0,807.0 578.8,807.2 580.6,807.5 582.4,807.7 584.2,807.9 586.0,808.2 587.8,808.4 589.6,808.6 591.4,808.7 593.2,808.9 595.0,809.0 596.8,809.1 598.6,809.2 600.4,809.2 602.2,809.2 604.0,809.2 605.8,809.1 607.6,809.1 609.4,809.0 611.2,808.9 613.0,808.8 614.8,808.7 616.6,808.5 618.4,808.4 620.2,808.3 622.0,808.1 623.8,807.9 625.6,807.7 627.4,807.5 629.2,807.1 631.0,806.8 632.8,806.4 634.6,806.0 636.4,805.5 638.2,805.1 640.0,804.6 641.8,804.2 643.6,803.7 645.4,803.2 647.2,802.7 649.0,802.2 650.8,801.6 652.6,801.0 654.4,800.4 656.2,799.8 658.0,799.2 659.8,798.7 661.6,798.2 663.3,797.7 665.1,797.2 666.9,796.6 668.7,796.1 670.5,795.5 672.3,794.9 674.1,794.2 675.9,793.6 677.7,792.9 679.5,792.2 681.3,791.4 683.1,790.6 684.9,789.8 686.7,789.0 688.5,788.1 690.3,787.2 692.1,786.2 693.9,785.2 695.7,784.2 697.5,783.1 699.3,782.0" fill="none" stroke="#8ee3ec" stroke-width="2" stroke-linejoin="round"/>
<polyline points="191.9,792.3 193.7,792.3 195.5,792.3 197.3,792.3 199.1,792.3 200.9,792.3 202.7,792.3 204.5,792.3 206.3,792.3 208.1,792.3 209.9,792.3 211.6,792.3 213.4,792.3 215.2,792.3 217.0,792.3 218.8,792.3 220.6,792.3 222.4,792.3 224.2,792.3 226.0,792.4 227.8,792.4 229.6,792.4 231.4,792.4 233.2,792.4 234.9,792.4 236.7,792.4 238.5,792.4 240.3,792.4 242.1,792.4 243.9,792.4 245.7,792.4 247.5,792.5 249.3,792.5 251.1,792.5 252.9,792.5 254.7,792.5 256.4,792.5 258.2,792.5 260.0,792.5 261.8,792.5 263.6,792.5 265.4,792.5 267.2,792.6 269.0,792.6 270.8,792.6 272.6,792.6 274.4,792.6 276.2,792.6 277.9,792.6 279.7,792.6 281.5,792.7 283.3,792.7 285.1,792.7 286.9,792.7 288.7,792.7 290.5,792.7 292.3,792.8 294.1,792.8 295.9,792.8 297.7,792.8 299.5,792.8 301.2,792.8 303.0,792.9 304.8,792.9 306.6,792.9 308.4,792.9 310.2,792.9 312.0,793.0 313.8,793.0 315.6,793.0 317.4,793.0 319.2,793.0 321.0,793.1 322.7,793.1 324.5,793.1 326.3,793.1 328.1,793.2 329.9,793.2 331.7,793.2 333.5,793.2 335.3,793.2 337.1,793.3 338.9,793.3 340.7,793.3 342.5,793.3 344.3,793.4 346.0,793.4 347.8,793.5 349.6,793.5 351.4,793.5 353.2,793.6 355.0,793.6 356.8,793.7 358.6,793.7 360.4,793.8 362.2,793.8 364.0,793.8 365.8,793.9 367.5,793.9 369.3,794.0 371.1,794.0 372.9,794.1 374.7,794.1 376.5,794.1 378.3,794.2 380.1,794.2 381.9,794.2 383.7,794.3 385.5,794.3 387.3,794.3 389.1,794.3 390.8,794.3 392.6,794.3 394.4,794.3 396.2,794.3 398.0,794.3 399.8,794.3 401.6,794.3 403.4,794.3 405.2,794.3 407.0,794.3 408.8,794.3 410.6,794.3 412.3,794.3 414.1,794.3 415.9,794.3 417.7,794.3 419.5,794.3 421.3,794.4 423.1,794.5 424.9,794.7 426.7,794.8 428.5,795.0 430.3,795.2 432.1,795.4 433.8,795.5 435.6,795.6 437.4,795.7 439.2,795.7 441.0,795.7 442.8,795.7 444.6,795.7 446.4,795.7 448.2,795.7 450.0,795.7 451.8,795.7 453.6,795.7 455.4,795.7 457.1,795.7 458.9,795.7 460.7,795.7 462.5,795.7 464.3,795.7 466.1,795.7 467.9,795.7 469.7,795.7 471.5,795.8 473.3,795.8 475.1,795.8 476.9,795.9 478.6,795.9 480.4,796.0 482.2,796.0 484.0,796.1 485.8,796.1 487.6,796.2 489.4,796.2 491.2,796.3 493.0,796.3 494.8,796.4 496.6,796.5 498.4,796.5 500.2,796.6 501.9,796.7 503.7,796.7 505.5,796.8 507.3,796.9 509.1,797.0 510.9,797.1 512.7,797.2 514.5,797.3 516.3,797.4 518.1,797.6 519.9,797.7 521.7,797.8 523.4,798.0 525.2,798.1 527.0,798.2 528.8,798.4 530.6,798.6 532.4,798.8 534.2,799.0 536.0,799.2 537.8,799.5 539.6,799.7 541.4,800.0 543.2,800.3 545.0,800.6 546.7,800.9 548.5,801.2 550.3,801.5 552.1,801.8 553.9,802.1 555.7,802.4 557.5,802.7 559.3,803.0 561.1,803.2 562.9,803.5 564.7,803.7 566.5,803.9 568.2,804.1 570.0,804.4 571.8,804.6 573.6,804.8 575.4,805.1 577.2,805.3 579.0,805.6 580.8,805.8 582.6,806.0 584.4,806.3 586.2,806.5 588.0,806.7 589.7,806.9 591.5,807.1 593.3,807.2 595.1,807.4 596.9,807.6 598.7,807.7 600.5,807.8 602.3,807.9 604.1,807.9 605.9,808.0 607.7,808.0 609.5,808.0 611.3,808.0 613.0,808.0 614.8,808.0 616.6,808.0 618.4,807.9 620.2,807.9 622.0,807.9 623.8,807.9 625.6,807.9 627.4,807.8 629.2,807.8 631.0,807.8 632.8,807.7 634.5,807.7 636.3,807.6 638.1,807.6 639.9,807.6 641.7,807.5 643.5,807.5 645.3,807.4 647.1,807.3 648.9,807.1 650.7,806.8 652.5,806.5 654.3,806.1 656.1,805.7 657.8,805.3 659.6,804.8 661.4,804.2 663.2,803.7 665.0,803.1 666.8,802.5 668.6,801.8 670.4,801.1 672.2,800.4 674.0,799.7 675.8,799.0 677.6,798.3 679.3,797.6 681.1,796.9 682.9,796.0 684.7,795.1 686.5,794.1 688.3,793.0 690.1,791.9 691.9,790.7 693.7,789.5 695.5,788.3 697.3,787.1 699.1,785.9 700.9,784.8 702.6,783.6 704.4,782.5 706.2,781.3 708.0,780.1 709.8,778.9 711.6,777.6 713.4,776.3 715.2,774.8 717.0,773.3 718.8,771.8 720.6,770.2 722.4,768.5 724.1,766.7 725.9,765.0 727.7,763.1" fill="none" stroke="#00aee8" stroke-width="2" stroke-linejoin="round"/>
<polyline points="218.0,790.0 219.8,790.0 221.6,790.0 223.4,790.0 225.2,790.0 227.0,790.0 228.9,790.1 230.7,790.1 232.5,790.1 234.3,790.1 236.1,790.1 237.9,790.1 239.8,790.2 241.6,790.2 243.4,790.2 245.2,790.2 247.0,790.2 248.8,790.2 250.7,790.3 252.5,790.3 254.3,790.3 256.1,790.3 257.9,790.3 259.7,790.3 261.5,790.4 263.4,790.4 265.2,790.4 267.0,790.4 268.8,790.4 270.6,790.4 272.4,790.4 274.3,790.5 276.1,790.5 277.9,790.5 279.7,790.5 281.5,790.5 283.3,790.5 285.1,790.5 287.0,790.6 288.8,790.6 290.6,790.6 292.4,790.6 294.2,790.6 296.0,790.6 297.9,790.6 299.7,790.6 301.5,790.7 303.3,790.7 305.1,790.7 306.9,790.7 308.7,790.7 310.6,790.7 312.4,790.7 314.2,790.7 316.0,790.8 317.8,790.8 319.6,790.8 321.5,790.8 323.3,790.8 325.1,790.8 326.9,790.8 328.7,790.8 330.5,790.8 332.3,790.9 334.2,790.9 336.0,790.9 337.8,790.9 339.6,790.9 341.4,790.9 343.2,790.9 345.1,790.9 346.9,790.9 348.7,791.0 350.5,791.0 352.3,791.0 354.1,791.0 355.9,791.0 357.8,791.0 359.6,791.0 361.4,791.1 363.2,791.1 365.0,791.1 366.8,791.1 368.7,791.1 370.5,791.1 372.3,791.2 374.1,791.2 375.9,791.2 377.7,791.2 379.5,791.2 381.4,791.2 383.2,791.3 385.0,791.3 386.8,791.3 388.6,791.3 390.4,791.3 392.3,791.3 394.1,791.4 395.9,791.4 397.7,791.4 399.5,791.4 401.3,791.5 403.1,791.5 405.0,791.5 406.8,791.5 408.6,791.6 410.4,791.6 412.2,791.6 414.0,791.7 415.9,791.7 417.7,791.8 419.5,791.8 421.3,791.9 423.1,792.0 424.9,792.1 426.7,792.3 428.6,792.4 430.4,792.6 432.2,792.7 434.0,792.9 435.8,793.1 437.6,793.3 439.5,793.4 441.3,793.6 443.1,793.7 444.9,793.9 446.7,794.0 448.5,794.1 450.3,794.2 452.2,794.3 454.0,794.5 455.8,794.6 457.6,794.7 459.4,794.8 461.2,794.9 463.1,795.1 464.9,795.2 466.7,795.4 468.5,795.5 470.3,795.7 472.1,795.9 473.9,796.0 475.8,796.2 477.6,796.4 479.4,796.6 481.2,796.7 483.0,796.9 484.8,797.1 486.7,797.3 488.5,797.4 490.3,797.6 492.1,797.8 493.9,798.0 495.7,798.2 497.5,798.4 499.4,798.5 501.2,798.7 503.0,798.9 504.8,799.1 506.6,799.2 508.4,799.4 510.3,799.5 512.1,799.6 513.9,799.8 515.7,799.9 517.5,800.0 519.3,800.1 521.1,800.2 523.0,800.4 524.8,800.5 526.6,800.6 528.4,800.7 530.2,800.8 532.0,800.9 533.9,801.0 535.7,801.1 537.5,801.2 539.3,801.2 541.1,801.3 542.9,801.4 544.8,801.5 546.6,801.5 548.4,801.6 550.2,801.7 552.0,801.7 553.8,801.8 555.6,801.8 557.5,801.9 559.3,802.0 561.1,802.0 562.9,802.1 564.7,802.2 566.5,802.3 568.4,802.4 570.2,802.5 572.0,802.6 573.8,802.7 575.6,802.9 577.4,803.0 579.2,803.2 581.1,803.4 582.9,803.6 584.7,803.8 586.5,804.0 588.3,804.2 590.1,804.4 592.0,804.6 593.8,804.8 595.6,805.0 597.4,805.2 599.2,805.4 601.0,805.6 602.8,805.8 604.7,806.1 606.5,806.3 608.3,806.6 610.1,806.9 611.9,807.1 613.7,807.4 615.6,807.6 617.4,807.8 619.2,808.0 621.0,808.2 622.8,808.4 624.6,808.5 626.4,808.6 628.3,808.7 630.1,808.8 631.9,808.8 633.7,808.9 635.5,809.0 637.3,809.0 639.2,809.1 641.0,809.1 642.8,809.2 644.6,809.2 646.4,809.2 648.2,809.2 650.0,809.1 651.9,808.9 653.7,808.4 655.5,807.9 657.3,807.3 659.1,806.6 660.9,805.9 662.8,805.3 664.6,804.7 666.4,804.0 668.2,803.3 670.0,802.5 671.8,801.7 673.6,800.9 675.5,800.0 677.3,799.2 679.1,798.3 680.9,797.4 682.7,796.5 684.5,795.7 686.4,794.8 688.2,793.9 690.0,793.0 691.8,792.1 693.6,791.2 695.4,790.3 697.2,789.4 699.1,788.4 700.9,787.4 702.7,786.4 704.5,785.4 706.3,784.3 708.1,783.1 710.0,781.9 711.8,780.7 713.6,779.4 715.4,778.1 717.2,776.7 719.0,775.4 720.8,774.0 722.7,772.7 724.5,771.3 726.3,770.0 728.1,768.6 729.9,767.2 731.7,765.7 733.6,764.3 735.4,762.8 737.2,761.3 739.0,759.7 740.8,758.2 742.6,756.5 744.4,754.9 746.3,753.3 748.1,751.6 749.9,749.9 751.7,748.1 753.5,746.3 755.3,744.6 757.2,742.7 759.0,740.9 760.8,739.0" fill="none" stroke="#0000d0" stroke-width="2" stroke-linejoin="round"/>
<polyline points="256.1,791.7 257.9,791.8 259.7,791.9 261.5,792.0 263.3,792.1 265.1,792.2 266.9,792.3 268.7,792.4 270.5,792.5 272.3,792.6 274.1,792.7 275.9,792.8 277.7,792.9 279.5,793.0 281.3,793.1 283.1,793.2 284.9,793.3 286.7,793.4 288.5,793.5 290.3,793.5 292.1,793.6 293.9,793.7 295.7,793.8 297.5,793.8 299.3,793.9 301.1,794.0 302.9,794.0 304.7,794.1 306.5,794.1 308.3,794.2 310.1,794.2 311.9,794.3 313.7,794.3 315.5,794.4 317.3,794.4 319.1,794.4 320.9,794.5 322.7,794.5 324.5,794.5 326.3,794.5 328.1,794.5 329.9,794.6 331.7,794.6 333.5,794.6 335.3,794.6 337.1,794.6 338.9,794.6 340.7,794.7 342.5,794.7 344.3,794.7 346.1,794.7 347.9,794.7 349.7,794.7 351.5,794.7 353.3,794.7 355.1,794.8 356.9,794.8 358.7,794.8 360.5,794.8 362.3,794.8 364.1,794.8 365.9,794.8 367.7,794.8 369.5,794.8 371.3,794.8 373.1,794.9 374.9,794.9 376.7,794.9 378.5,794.9 380.3,794.9 382.1,794.9 383.9,794.9 385.7,794.9 387.5,795.0 389.3,795.0 391.1,795.0 392.9,795.0 394.7,795.0 396.5,795.0 398.3,795.1 400.1,795.1 401.9,795.1 403.7,795.1 405.5,795.2 407.3,795.2 409.1,795.2 410.9,795.3 412.7,795.3 414.5,795.3 416.3,795.4 418.1,795.4 419.9,795.5 421.7,795.5 423.5,795.6 425.3,795.6 427.1,795.7 428.9,795.7 430.7,795.8 432.5,795.8 434.3,795.9 436.1,796.0 437.9,796.0 439.7,796.1 441.5,796.2 443.3,796.3 445.1,796.3 446.9,796.4 448.7,796.5 450.5,796.6 452.3,796.7 454.1,796.7 455.9,796.8 457.7,796.9 459.5,797.1 461.3,797.2 463.1,797.3 464.9,797.5 466.7,797.7 468.5,797.9 470.3,798.0 472.1,798.2 473.9,798.4 475.7,798.6 477.5,798.8 479.3,799.0 481.1,799.2 482.9,799.3 484.7,799.5 486.5,799.7 488.3,799.8 490.1,800.0 491.9,800.2 493.7,800.4 495.5,800.5 497.3,800.7 499.0,800.9 500.8,801.1 502.6,801.3 504.4,801.6 506.2,801.8 508.0,802.0 509.8,802.3 511.6,802.6 513.4,802.8 515.2,803.1 517.0,803.3 518.8,803.6 520.6,803.9 522.4,804.1 524.2,804.4 526.0,804.7 527.8,805.0 529.6,805.3 531.4,805.6 533.2,805.9 535.0,806.2 536.8,806.5 538.6,806.8 540.4,807.1 542.2,807.4 544.0,807.6 545.8,807.8 547.6,808.0 549.4,808.1 551.2,808.3 553.0,808.4 554.8,808.5 556.6,808.7 558.4,808.8 560.2,808.9 562.0,809.0 563.8,809.1 565.6,809.2 567.4,809.3 569.2,809.4 571.0,809.5 572.8,809.6 574.6,809.7 576.4,809.9 578.2,810.0 580.0,810.1 581.8,810.3 583.6,810.3 585.4,810.4 587.2,810.4 589.0,810.4 590.8,810.4 592.6,810.3 594.4,810.3 596.2,810.2 598.0,810.2 599.8,810.1 601.6,810.0 603.4,809.9 605.2,809.9 607.0,809.8 608.8,809.6 610.6,809.5 612.4,809.3 614.2,809.1 616.0,808.9 617.8,808.7 619.6,808.5 621.4,808.3 623.2,808.1 625.0,807.9 626.8,807.7 628.6,807.5 630.4,807.3 632.2,807.1 634.0,806.9 635.8,806.8 637.6,806.6 639.4,806.4 641.2,806.2 643.0,806.1 644.8,806.0 646.6,805.9 648.4,805.9 650.2,805.9 652.0,806.0 653.8,806.1 655.6,806.4 657.4,806.6 659.2,806.9 661.0,807.2 662.8,807.4 664.6,807.7 666.4,807.9 668.2,808.1 670.0,808.1 671.8,808.1 673.6,807.9 675.4,807.5 677.2,807.0 679.0,806.3 680.8,805.4 682.6,804.2 684.4,803.1 686.2,802.1 688.0,801.1 689.8,800.2 691.6,799.3 693.4,798.4 695.2,797.4 697.0,796.5 698.8,795.6 700.6,794.7 702.4,793.9 704.2,793.1 706.0,792.2 707.8,791.2 709.6,789.9 711.4,788.6 713.2,787.2 715.0,785.8 716.8,784.4 718.6,783.0 720.4,781.7 722.2,780.5 724.0,779.4 725.8,778.3 727.6,777.1 729.4,776.0 731.2,774.8 733.0,773.5 734.8,772.2 736.6,770.7 738.4,769.2 740.2,767.6 742.0,766.0 743.8,764.3 745.6,762.6 747.4,760.8 749.2,758.9 751.0,757.0 752.8,755.1 754.6,753.1 756.4,751.1 758.2,749.1 760.0,747.1 761.8,745.0 763.6,743.0 765.4,740.9 767.2,738.8 769.0,736.7 770.8,734.6 772.6,732.5 774.4,730.4 776.2,728.4 778.0,726.3 779.8,724.3 781.6,722.3 783.4,720.3 785.2,718.3 787.0,716.4 788.8,714.6 790.6,712.7 792.4,710.9 794.2,709.2" fill="none" stroke="#9414d2" stroke-width="2" stroke-linejoin="round"/>
<polyline points="319.6,793.4 321.4,793.5 323.2,793.5 325.0,793.6 326.8,793.6 328.6,793.6 330.4,793.7 332.2,793.7 334.0,793.8 335.8,793.8 337.6,793.9 339.5,793.9 341.3,794.0 343.1,794.0 344.9,794.1 346.7,794.1 348.5,794.2 350.3,794.2 352.1,794.3 353.9,794.3 355.7,794.4 357.5,794.4 359.3,794.5 361.1,794.5 362.9,794.6 364.8,794.6 366.6,794.7 368.4,794.7 370.2,794.8 372.0,794.8 373.8,794.9 375.6,794.9 377.4,795.0 379.2,795.0 381.0,795.1 382.8,795.1 384.6,795.2 386.4,795.2 388.2,795.3 390.1,795.3 391.9,795.4 393.7,795.4 395.5,795.5 397.3,795.5 399.1,795.6 400.9,795.6 402.7,795.7 404.5,795.7 406.3,795.8 408.1,795.9 409.9,795.9 411.7,796.0 413.5,796.0 415.4,796.1 417.2,796.1 419.0,796.2 420.8,796.2 422.6,796.3 424.4,796.3 426.2,796.4 428.0,796.4 429.8,796.5 431.6,796.5 433.4,796.6 435.2,796.7 437.0,796.7 438.8,796.8 440.7,796.8 442.5,796.9 444.3,797.0 446.1,797.0 447.9,797.1 449.7,797.2 451.5,797.2 453.3,797.3 455.1,797.4 456.9,797.4 458.7,797.5 460.5,797.6 462.3,797.7 464.1,797.7 466.0,797.8 467.8,797.9 469.6,798.0 471.4,798.1 473.2,798.2 475.0,798.3 476.8,798.4 478.6,798.5 480.4,798.6 482.2,798.7 484.0,798.9 485.8,799.0 487.6,799.1 489.4,799.2 491.3,799.4 493.1,799.5 494.9,799.6 496.7,799.7 498.5,799.9 500.3,800.0 502.1,800.1 503.9,800.3 505.7,800.4 507.5,800.5 509.3,800.6 511.1,800.8 512.9,800.9 514.7,801.0 516.6,801.1 518.4,801.2 520.2,801.3 522.0,801.4 523.8,801.5 525.6,801.6 527.4,801.7 529.2,801.7 531.0,801.8 532.8,801.9 534.6,802.0 536.4,802.1 538.2,802.2 540.0,802.3 541.9,802.4 543.7,802.5 545.5,802.6 547.3,802.8 549.1,802.9 550.9,803.1 552.7,803.3 554.5,803.5 556.3,803.7 558.1,803.9 559.9,804.1 561.7,804.3 563.5,804.5 565.3,804.6 567.2,804.8 569.0,805.0 570.8,805.2 572.6,805.4 574.4,805.6 576.2,805.7 578.0,805.9 579.8,806.1 581.6,806.3 583.4,806.6 585.2,806.8 587.0,807.0 588.8,807.3 590.6,807.7 592.5,808.1 594.3,808.5 596.1,808.8 597.9,809.1 599.7,809.3 601.5,809.5 603.3,809.5 605.1,809.6 606.9,809.7 608.7,809.7 610.5,809.8 612.3,809.9 614.1,810.0 615.9,810.1 617.8,810.2 619.6,810.3 621.4,810.3 623.2,810.4 625.0,810.4 626.8,810.4 628.6,810.4 630.4,810.4 632.2,810.4 634.0,810.3 635.8,809.9 637.6,809.2 639.4,808.4 641.2,807.8 643.1,807.4 644.9,807.1 646.7,806.8 648.5,806.5 650.3,806.2 652.1,805.7 653.9,805.2 655.7,804.6 657.5,804.0 659.3,803.4 661.1,802.8 662.9,802.2 664.7,801.4 666.5,800.6 668.4,799.6 670.2,798.6 672.0,797.4 673.8,796.2 675.6,795.1 677.4,794.0 679.2,792.8 681.0,791.7 682.8,790.6 684.6,789.5 686.4,788.4 688.2,787.3 690.0,786.2 691.8,785.3 693.7,784.4 695.5,783.5 697.3,782.6 699.1,781.6 700.9,780.7 702.7,779.8 704.5,778.8 706.3,777.9 708.1,777.0 709.9,776.0 711.7,774.9 713.5,773.7 715.3,772.5 717.1,771.4 719.0,770.2 720.8,769.0 722.6,767.8 724.4,766.7 726.2,765.5 728.0,764.4 729.8,763.2 731.6,762.0 733.4,760.7 735.2,759.3 737.0,757.9 738.8,756.5 740.6,755.0 742.4,753.4 744.3,751.8 746.1,750.2 747.9,748.5 749.7,746.8 751.5,745.0 753.3,743.3 755.1,741.4 756.9,739.6 758.7,737.7 760.5,735.9 762.3,733.9 764.1,731.8 765.9,729.7 767.7,727.4 769.6,725.2 771.4,722.8 773.2,720.5 775.0,718.1 776.8,715.8 778.6,713.4 780.4,711.1 782.2,708.8 784.0,706.6 785.8,704.4 787.6,702.3 789.4,700.3 791.2,698.4 793.0,696.6 794.9,694.8 796.7,693.1 798.5,691.5 800.3,689.8 802.1,688.3 803.9,686.7 805.7,685.1 807.5,683.5 809.3,681.9 811.1,680.3 812.9,678.6 814.7,676.9 816.5,675.1 818.3,673.2 820.2,671.2 822.0,669.1 823.8,666.9 825.6,664.6 827.4,662.2 829.2,659.8 831.0,657.3 832.8,654.8 834.6,652.3 836.4,649.9 838.2,647.5 840.0,645.3 841.8,643.0 843.6,640.8 845.5,638.5 847.3,636.3 849.1,634.1 850.9,631.9 852.7,629.8 854.5,627.7 856.3,625.7 858.1,623.9 859.9,622.1" fill="none" stroke="#f00a8c" stroke-width="2" stroke-linejoin="round"/>
<polyline points="385.2,808.0 387.0,808.0 388.8,808.0 390.6,808.1 392.4,808.1 394.2,808.1 396.0,808.1 397.8,808.1 399.7,808.1 401.5,808.2 403.3,808.2 405.1,808.2 406.9,808.2 408.7,808.2 410.5,808.2 412.3,808.3 414.1,808.3 415.9,808.3 417.7,808.3 419.5,808.3 421.3,808.4 423.1,808.4 424.9,808.4 426.8,808.4 428.6,808.4 430.4,808.5 432.2,808.5 434.0,808.5 435.8,808.5 437.6,808.6 439.4,808.6 441.2,808.6 443.0,808.6 444.8,808.7 446.6,808.7 448.4,808.7 450.2,808.7 452.0,808.8 453.9,808.8 455.7,808.8 457.5,808.9 459.3,808.9 461.1,808.9 462.9,809.0 464.7,809.0 466.5,809.1 468.3,809.1 470.1,809.2 471.9,809.2 473.7,809.3 475.5,809.3 477.3,809.4 479.1,809.4 481.0,809.5 482.8,809.5 484.6,809.6 486.4,809.6 488.2,809.7 490.0,809.7 491.8,809.8 493.6,809.8 495.4,809.9 497.2,809.9 499.0,809.9 500.8,810.0 502.6,810.0 504.4,810.1 506.3,810.1 508.1,810.1 509.9,810.2 511.7,810.2 513.5,810.2 515.3,810.3 517.1,810.3 518.9,810.3 520.7,810.3 522.5,810.4 524.3,810.4 526.1,810.4 527.9,810.4 529.7,810.4 531.5,810.4 533.4,810.4 535.2,810.4 537.0,810.3 538.8,810.2 540.6,810.2 542.4,810.1 544.2,809.9 546.0,809.8 547.8,809.7 549.6,809.6 551.4,809.4 553.2,809.2 555.0,809.1 556.8,808.9 558.6,808.7 560.5,808.6 562.3,808.4 564.1,808.2 565.9,808.0 567.7,807.8 569.5,807.6 571.3,807.5 573.1,807.3 574.9,807.1 576.7,806.9 578.5,806.8 580.3,806.6 582.1,806.5 583.9,806.3 585.7,806.2 587.6,806.1 589.4,806.0 591.2,805.9 593.0,805.8 594.8,805.7 596.6,805.6 598.4,805.5 600.2,805.4 602.0,805.2 603.8,805.1 605.6,805.0 607.4,804.9 609.2,804.7 611.0,804.6 612.9,804.4 614.7,804.2 616.5,804.1 618.3,803.9 620.1,803.7 621.9,803.4 623.7,803.2 625.5,803.0 627.3,802.7 629.1,802.5 630.9,802.2 632.7,802.0 634.5,801.7 636.3,801.4 638.1,801.1 640.0,800.8 641.8,800.5 643.6,800.1 645.4,799.8 647.2,799.5 649.0,799.1 650.8,798.8 652.6,798.5 654.4,798.2 656.2,797.9 658.0,797.6 659.8,797.3 661.6,797.0 663.4,796.6 665.2,796.2 667.1,795.7 668.9,795.0 670.7,794.1 672.5,793.3 674.3,792.4 676.1,791.5 677.9,790.6 679.7,789.8 681.5,788.9 683.3,788.0 685.1,787.1 686.9,786.2 688.7,785.2 690.5,784.3 692.4,783.5 694.2,782.8 696.0,782.0 697.8,781.3 699.6,780.5 701.4,779.7 703.2,778.9 705.0,778.1 706.8,777.1 708.6,776.0 710.4,774.6 712.2,772.8 714.0,770.9 715.8,769.0 717.6,767.0 719.5,765.1 721.3,763.2 723.1,761.3 724.9,759.3 726.7,757.4 728.5,755.4 730.3,753.4 732.1,751.3 733.9,749.3 735.7,747.2 737.5,745.1 739.3,743.0 741.1,740.9 742.9,738.8 744.7,736.7 746.6,734.5 748.4,732.4 750.2,730.2 752.0,728.1 753.8,725.9 755.6,723.8 757.4,721.6 759.2,719.4 761.0,717.3 762.8,715.1 764.6,712.9 766.4,710.6 768.2,708.4 770.0,706.1 771.8,703.8 773.7,701.5 775.5,699.2 777.3,696.9 779.1,694.7 780.9,692.5 782.7,690.3 784.5,688.1 786.3,686.0 788.1,683.9 789.9,681.9 791.7,679.9 793.5,678.0 795.3,676.2 797.1,674.4 799.0,672.6 800.8,670.8 802.6,669.1 804.4,667.4 806.2,665.7 808.0,664.0 809.8,662.2 811.6,660.5 813.4,658.7 815.2,657.0 817.0,655.1 818.8,653.2 820.6,651.3 822.4,649.3 824.2,647.3 826.1,645.2 827.9,643.0 829.7,640.9 831.5,638.7 833.3,636.6 835.1,634.5 836.9,632.4 838.7,630.4 840.5,628.5 842.3,626.6 844.1,624.7 845.9,622.9 847.7,621.1 849.5,619.4 851.3,617.6 853.2,615.9 855.0,614.1 856.8,612.3 858.6,610.5 860.4,608.6 862.2,606.7 864.0,604.8 865.8,602.8 867.6,600.8 869.4,598.8 871.2,596.8 873.0,594.8 874.8,592.9 876.6,590.9 878.5,589.0 880.3,587.1 882.1,585.3 883.9,583.4 885.7,581.6 887.5,579.8 889.3,578.0 891.1,576.2 892.9,574.5 894.7,572.7 896.5,571.0 898.3,569.3 900.1,567.6 901.9,566.0 903.7,564.4 905.6,563.0 907.4,561.5 909.2,560.1 911.0,558.6 912.8,557.0 914.6,555.3 916.4,553.4 918.2,551.3 920.0,548.7 921.8,545.8 923.6,542.5 925.4,539.1" fill="none" stroke="#c80000" stroke-width="2" stroke-linejoin="round"/>
<polyline points="435.0,809.8 436.9,809.9 438.7,809.9 440.5,809.9 442.3,809.9 444.1,810.0 445.9,810.0 447.7,810.0 449.5,810.0 451.4,810.0 453.2,810.1 455.0,810.1 456.8,810.1 458.6,810.1 460.4,810.2 462.2,810.2 464.0,810.2 465.9,810.2 467.7,810.2 469.5,810.3 471.3,810.3 473.1,810.3 474.9,810.3 476.7,810.3 478.6,810.3 480.4,810.3 482.2,810.4 484.0,810.4 485.8,810.4 487.6,810.4 489.4,810.4 491.2,810.4 493.1,810.4 494.9,810.4 496.7,810.4 498.5,810.4 500.3,810.4 502.1,810.4 503.9,810.4 505.7,810.4 507.6,810.4 509.4,810.4 511.2,810.4 513.0,810.4 514.8,810.4 516.6,810.4 518.4,810.4 520.3,810.4 522.1,810.4 523.9,810.4 525.7,810.4 527.5,810.4 529.3,810.4 531.1,810.4 532.9,810.4 534.8,810.4 536.6,810.4 538.4,810.4 540.2,810.4 542.0,810.4 543.8,810.4 545.6,810.4 547.4,810.4 549.3,810.4 551.1,810.4 552.9,810.4 554.7,810.3 556.5,810.3 558.3,810.3 560.1,810.3 562.0,810.3 563.8,810.3 565.6,810.3 567.4,810.3 569.2,810.3 571.0,810.3 572.8,810.3 574.6,810.3 576.5,810.3 578.3,810.3 580.1,810.3 581.9,810.3 583.7,810.2 585.5,810.2 587.3,810.1 589.1,809.9 591.0,809.8 592.8,809.6 594.6,809.4 596.4,809.2 598.2,808.9 600.0,808.6 601.8,808.3 603.6,808.0 605.5,807.7 607.3,807.4 609.1,807.1 610.9,806.7 612.7,806.3 614.5,806.0 616.3,805.6 618.2,805.2 620.0,804.8 621.8,804.4 623.6,804.0 625.4,803.6 627.2,803.2 629.0,802.8 630.8,802.5 632.7,802.1 634.5,801.7 636.3,801.3 638.1,800.9 639.9,800.5 641.7,800.2 643.5,799.8 645.3,799.3 647.2,798.8 649.0,798.2 650.8,797.6 652.6,797.0 654.4,796.2 656.2,795.5 658.0,794.7 659.9,793.9 661.7,793.1 663.5,792.4 665.3,791.6 667.1,790.9 668.9,790.1 670.7,789.4 672.5,788.6 674.4,787.9 676.2,787.2 678.0,786.4 679.8,785.7 681.6,785.0 683.4,784.2 685.2,783.5 687.0,782.8 688.9,782.1 690.7,781.4 692.5,780.7 694.3,780.0 696.1,779.2 697.9,778.4 699.7,777.6 701.6,776.7 703.4,775.8 705.2,774.9 707.0,774.0 708.8,773.1 710.6,772.1 712.4,771.0 714.2,769.9 716.1,768.7 717.9,767.5 719.7,766.2 721.5,764.8 723.3,763.3 725.1,761.6 726.9,759.8 728.7,757.9 730.6,755.9 732.4,753.9 734.2,751.9 736.0,749.9 737.8,747.7 739.6,745.5 741.4,743.2 743.3,740.8 745.1,738.5 746.9,736.1 748.7,733.9 750.5,731.7 752.3,729.7 754.1,727.9 755.9,726.2 757.8,724.6 759.6,723.1 761.4,721.5 763.2,719.9 765.0,718.2 766.8,716.3 768.6,714.2 770.4,712.0 772.3,709.8 774.1,707.5 775.9,705.4 777.7,703.3 779.5,701.3 781.3,699.2 783.1,697.2 784.9,695.1 786.8,692.9 788.6,690.7 790.4,688.6 792.2,686.5 794.0,684.6 795.8,682.6 797.6,680.7 799.5,678.8 801.3,676.9 803.1,675.1 804.9,673.3 806.7,671.4 808.5,669.6 810.3,667.8 812.1,666.0 814.0,664.2 815.8,662.3 817.6,660.5 819.4,658.6 821.2,656.7 823.0,654.8 824.8,652.9 826.6,651.0 828.5,649.1 830.3,647.2 832.1,645.3 833.9,643.4 835.7,641.5 837.5,639.6 839.3,637.7 841.2,635.8 843.0,633.9 844.8,631.9 846.6,630.0 848.4,628.1 850.2,626.1 852.0,624.2 853.8,622.3 855.7,620.4 857.5,618.6 859.3,616.7 861.1,614.9 862.9,613.1 864.7,611.4 866.5,609.7 868.3,607.9 870.2,606.2 872.0,604.5 873.8,602.8 875.6,601.1 877.4,599.4 879.2,597.7 881.0,596.0 882.9,594.3 884.7,592.6 886.5,590.9 888.3,589.1 890.1,587.4 891.9,585.7 893.7,584.0 895.5,582.3 897.4,580.5 899.2,578.8 901.0,577.1 902.8,575.3 904.6,573.6 906.4,571.9 908.2,570.1 910.0,568.4 911.9,566.7 913.7,564.9 915.5,563.2 917.3,561.5 919.1,559.7 920.9,557.9 922.7,556.2 924.6,554.4 926.4,552.6 928.2,550.8 930.0,549.0 931.8,547.3 933.6,545.5 935.4,543.8 937.2,542.0 939.1,540.3 940.9,538.5 942.7,536.7 944.5,534.9 946.3,533.1 948.1,531.2 949.9,529.3 951.7,527.3 953.6,525.3 955.4,523.2 957.2,521.0 959.0,518.8 960.8,516.4 962.6,514.0 964.4,511.5 966.2,508.9 968.1,506.2 969.9,503.5 971.7,500.8 973.5,497.9 975.3,495.1" fill="none" stroke="#000000" stroke-width="2" stroke-linejoin="round"/>
<g fill="#8ee3ec">
<circle cx="225.1" cy="789.2" r="8.2"/><circle cx="307.8" cy="790.3" r="8.2"/><circle cx="360.1" cy="790.6" r="8.2"/><circle cx="386.3" cy="790.6" r="8.2"/><circle cx="406.6" cy="790.6" r="8.2"/><circle cx="427.7" cy="790.5" r="8.2"/><circle cx="441.1" cy="790.7" r="8.2"/><circle cx="452.7" cy="791.2" r="8.2"/><circle cx="466.0" cy="791.8" r="8.2"/><circle cx="475.0" cy="792.2" r="8.2"/><circle cx="483.1" cy="792.6" r="8.2"/><circle cx="492.8" cy="793.3" r="8.2"/><circle cx="499.5" cy="793.8" r="8.2"/><circle cx="505.8" cy="795.0" r="8.2"/><circle cx="513.4" cy="794.9" r="8.2"/><circle cx="518.9" cy="795.7" r="8.2"/><circle cx="524.0" cy="798.3" r="8.2"/><circle cx="530.2" cy="799.5" r="8.2"/><circle cx="534.8" cy="801.0" r="8.2"/><circle cx="539.1" cy="802.1" r="8.2"/><circle cx="544.4" cy="804.0" r="8.2"/><circle cx="548.3" cy="804.6" r="8.2"/><circle cx="552.0" cy="804.8" r="8.2"/><circle cx="556.7" cy="805.6" r="8.2"/><circle cx="560.1" cy="805.2" r="8.2"/><circle cx="563.3" cy="803.5" r="8.2"/><circle cx="567.5" cy="802.9" r="8.2"/><circle cx="570.5" cy="804.4" r="8.2"/><circle cx="573.4" cy="806.6" r="8.2"/><circle cx="577.1" cy="808.0" r="8.2"/><circle cx="579.8" cy="807.8" r="8.2"/><circle cx="582.5" cy="807.6" r="8.2"/><circle cx="585.8" cy="809.3" r="8.2"/><circle cx="588.3" cy="811.2" r="8.2"/><circle cx="590.7" cy="811.8" r="8.2"/><circle cx="593.7" cy="811.3" r="8.2"/><circle cx="596.0" cy="810.0" r="8.2"/><circle cx="598.2" cy="808.2" r="8.2"/><circle cx="601.0" cy="806.8" r="8.2"/><circle cx="603.1" cy="806.6" r="8.2"/><circle cx="605.2" cy="807.7" r="8.2"/><circle cx="607.8" cy="809.1" r="8.2"/><circle cx="609.8" cy="809.4" r="8.2"/><circle cx="611.7" cy="808.9" r="8.2"/><circle cx="614.1" cy="808.7" r="8.2"/><circle cx="615.9" cy="808.8" r="8.2"/><circle cx="617.7" cy="809.6" r="8.2"/><circle cx="620.0" cy="810.6" r="8.2"/><circle cx="621.7" cy="811.1" r="8.2"/><circle cx="623.4" cy="811.0" r="8.2"/><circle cx="625.5" cy="810.5" r="8.2"/><circle cx="627.1" cy="809.9" r="8.2"/><circle cx="628.7" cy="809.9" r="8.2"/><circle cx="630.7" cy="809.9" r="8.2"/><circle cx="632.2" cy="808.8" r="8.2"/><circle cx="633.7" cy="806.6" r="8.2"/><circle cx="635.6" cy="804.8" r="8.2"/><circle cx="637.1" cy="805.2" r="8.2"/><circle cx="638.5" cy="806.2" r="8.2"/><circle cx="640.3" cy="806.8" r="8.2"/><circle cx="641.6" cy="807.9" r="8.2"/><circle cx="643.0" cy="808.4" r="8.2"/><circle cx="644.7" cy="807.2" r="8.2"/><circle cx="646.0" cy="805.2" r="8.2"/><circle cx="647.3" cy="803.1" r="8.2"/><circle cx="649.0" cy="801.5" r="8.2"/><circle cx="650.2" cy="800.7" r="8.2"/><circle cx="651.4" cy="800.3" r="8.2"/><circle cx="653.0" cy="800.7" r="8.2"/><circle cx="654.2" cy="801.1" r="8.2"/><circle cx="655.4" cy="800.3" r="8.2"/><circle cx="656.9" cy="799.2" r="8.2"/><circle cx="658.0" cy="799.2" r="8.2"/><circle cx="659.1" cy="799.8" r="8.2"/><circle cx="660.6" cy="799.8" r="8.2"/><circle cx="661.7" cy="799.5" r="8.2"/><circle cx="662.7" cy="799.4" r="8.2"/><circle cx="664.1" cy="798.6" r="8.2"/><circle cx="665.2" cy="797.4" r="8.2"/><circle cx="666.2" cy="797.1" r="8.2"/><circle cx="667.6" cy="797.4" r="8.2"/><circle cx="668.6" cy="797.8" r="8.2"/><circle cx="669.6" cy="798.4" r="8.2"/><circle cx="670.9" cy="798.1" r="8.2"/><circle cx="671.8" cy="796.6" r="8.2"/><circle cx="672.8" cy="796.0" r="8.2"/><circle cx="674.1" cy="796.6" r="8.2"/><circle cx="675.0" cy="796.2" r="8.2"/><circle cx="675.9" cy="793.9" r="8.2"/><circle cx="677.1" cy="791.2" r="8.2"/><circle cx="678.0" cy="790.0" r="8.2"/><circle cx="678.9" cy="790.1" r="8.2"/><circle cx="680.1" cy="790.9" r="8.2"/><circle cx="681.0" cy="791.9" r="8.2"/><circle cx="681.9" cy="792.3" r="8.2"/><circle cx="683.0" cy="792.2" r="8.2"/><circle cx="683.8" cy="791.7" r="8.2"/><circle cx="684.7" cy="790.4" r="8.2"/><circle cx="685.8" cy="788.5" r="8.2"/><circle cx="686.6" cy="787.1" r="8.2"/><circle cx="687.4" cy="787.2" r="8.2"/><circle cx="688.5" cy="787.8" r="8.2"/><circle cx="689.3" cy="788.1" r="8.2"/><circle cx="690.1" cy="788.1" r="8.2"/><circle cx="691.1" cy="788.0" r="8.2"/><circle cx="691.9" cy="787.4" r="8.2"/><circle cx="692.7" cy="786.4" r="8.2"/><circle cx="693.7" cy="786.0" r="8.2"/><circle cx="694.4" cy="785.7" r="8.2"/><circle cx="695.2" cy="784.8" r="8.2"/><circle cx="696.2" cy="784.2" r="8.2"/><circle cx="696.9" cy="784.4" r="8.2"/><circle cx="697.6" cy="783.7" r="8.2"/><circle cx="698.6" cy="782.0" r="8.2"/><circle cx="699.3" cy="781.2" r="8.2"/>
</g>
<g fill="#00aee8">
<circle cx="255.9" cy="792.5" r="8.2"/><circle cx="338.6" cy="793.3" r="8.2"/><circle cx="390.9" cy="794.3" r="8.2"/><circle cx="417.1" cy="794.3" r="8.2"/><circle cx="437.4" cy="795.7" r="8.2"/><circle cx="458.5" cy="795.7" r="8.2"/><circle cx="471.9" cy="795.8" r="8.2"/><circle cx="483.5" cy="796.0" r="8.2"/><circle cx="496.8" cy="796.5" r="8.2"/><circle cx="505.8" cy="796.8" r="8.2"/><circle cx="513.9" cy="797.3" r="8.2"/><circle cx="523.6" cy="798.2" r="8.2"/><circle cx="530.4" cy="799.0" r="8.2"/><circle cx="536.7" cy="799.3" r="8.2"/><circle cx="544.3" cy="800.4" r="8.2"/><circle cx="549.7" cy="801.3" r="8.2"/><circle cx="554.8" cy="802.2" r="8.2"/><circle cx="561.1" cy="802.6" r="8.2"/><circle cx="565.6" cy="803.4" r="8.2"/><circle cx="569.9" cy="804.4" r="8.2"/><circle cx="575.2" cy="805.5" r="8.2"/><circle cx="579.1" cy="806.5" r="8.2"/><circle cx="582.8" cy="806.0" r="8.2"/><circle cx="587.5" cy="804.0" r="8.2"/><circle cx="590.9" cy="803.6" r="8.2"/><circle cx="594.2" cy="805.8" r="8.2"/><circle cx="598.3" cy="808.7" r="8.2"/><circle cx="601.3" cy="811.4" r="8.2"/><circle cx="604.2" cy="812.2" r="8.2"/><circle cx="607.9" cy="810.4" r="8.2"/><circle cx="610.6" cy="808.4" r="8.2"/><circle cx="613.3" cy="807.9" r="8.2"/><circle cx="616.6" cy="807.9" r="8.2"/><circle cx="619.1" cy="807.3" r="8.2"/><circle cx="621.5" cy="806.6" r="8.2"/><circle cx="624.6" cy="806.0" r="8.2"/><circle cx="626.8" cy="805.9" r="8.2"/><circle cx="629.1" cy="807.1" r="8.2"/><circle cx="631.9" cy="808.8" r="8.2"/><circle cx="634.0" cy="809.6" r="8.2"/><circle cx="636.0" cy="809.2" r="8.2"/><circle cx="638.6" cy="808.0" r="8.2"/><circle cx="640.6" cy="807.4" r="8.2"/><circle cx="642.5" cy="808.0" r="8.2"/><circle cx="644.9" cy="809.2" r="8.2"/><circle cx="646.7" cy="809.9" r="8.2"/><circle cx="648.5" cy="810.1" r="8.2"/><circle cx="650.8" cy="809.9" r="8.2"/><circle cx="652.5" cy="808.1" r="8.2"/><circle cx="654.2" cy="804.5" r="8.2"/><circle cx="656.3" cy="801.7" r="8.2"/><circle cx="657.9" cy="801.8" r="8.2"/><circle cx="659.5" cy="803.2" r="8.2"/><circle cx="661.5" cy="803.7" r="8.2"/><circle cx="663.0" cy="803.3" r="8.2"/><circle cx="664.5" cy="802.8" r="8.2"/><circle cx="666.4" cy="801.8" r="8.2"/><circle cx="667.9" cy="799.9" r="8.2"/><circle cx="669.3" cy="798.6" r="8.2"/><circle cx="671.1" cy="799.2" r="8.2"/><circle cx="672.5" cy="800.1" r="8.2"/><circle cx="673.8" cy="800.2" r="8.2"/><circle cx="675.5" cy="800.0" r="8.2"/><circle cx="676.8" cy="799.7" r="8.2"/><circle cx="678.1" cy="798.8" r="8.2"/><circle cx="679.8" cy="797.4" r="8.2"/><circle cx="681.0" cy="796.7" r="8.2"/><circle cx="682.2" cy="797.0" r="8.2"/><circle cx="683.8" cy="796.9" r="8.2"/><circle cx="685.0" cy="795.6" r="8.2"/><circle cx="686.2" cy="794.3" r="8.2"/><circle cx="687.7" cy="793.6" r="8.2"/><circle cx="688.8" cy="793.4" r="8.2"/><circle cx="689.9" cy="793.5" r="8.2"/><circle cx="691.4" cy="792.8" r="8.2"/><circle cx="692.5" cy="791.9" r="8.2"/><circle cx="693.6" cy="791.0" r="8.2"/><circle cx="695.0" cy="790.0" r="8.2"/><circle cx="696.0" cy="789.1" r="8.2"/><circle cx="697.0" cy="787.3" r="8.2"/><circle cx="698.4" cy="785.1" r="8.2"/><circle cx="699.4" cy="783.4" r="8.2"/><circle cx="700.4" cy="782.1" r="8.2"/><circle cx="701.7" cy="781.1" r="8.2"/><circle cx="702.7" cy="781.1" r="8.2"/><circle cx="703.6" cy="782.2" r="8.2"/><circle cx="704.9" cy="782.9" r="8.2"/><circle cx="705.8" cy="782.0" r="8.2"/><circle cx="706.8" cy="779.2" r="8.2"/><circle cx="708.0" cy="777.0" r="8.2"/><circle cx="708.9" cy="777.6" r="8.2"/><circle cx="709.8" cy="778.9" r="8.2"/><circle cx="710.9" cy="778.5" r="8.2"/><circle cx="711.8" cy="777.8" r="8.2"/><circle cx="712.7" cy="777.1" r="8.2"/><circle cx="713.8" cy="775.5" r="8.2"/><circle cx="714.7" cy="773.4" r="8.2"/><circle cx="715.5" cy="772.5" r="8.2"/><circle cx="716.6" cy="772.7" r="8.2"/><circle cx="717.4" cy="773.0" r="8.2"/><circle cx="718.3" cy="772.2" r="8.2"/><circle cx="719.3" cy="770.3" r="8.2"/><circle cx="720.1" cy="769.7" r="8.2"/><circle cx="720.9" cy="770.4" r="8.2"/><circle cx="721.9" cy="770.0" r="8.2"/><circle cx="722.7" cy="768.9" r="8.2"/><circle cx="723.5" cy="767.9" r="8.2"/><circle cx="724.5" cy="766.7" r="8.2"/><circle cx="725.3" cy="766.6" r="8.2"/><circle cx="726.0" cy="766.9" r="8.2"/><circle cx="727.0" cy="765.9" r="8.2"/><circle cx="727.7" cy="764.1" r="8.2"/>
</g>
<g fill="#0000d0">
<circle cx="282.0" cy="790.5" r="8.2"/><circle cx="364.7" cy="791.1" r="8.2"/><circle cx="416.9" cy="791.7" r="8.2"/><circle cx="443.2" cy="793.7" r="8.2"/><circle cx="463.5" cy="795.1" r="8.2"/><circle cx="484.6" cy="797.1" r="8.2"/><circle cx="497.9" cy="798.4" r="8.2"/><circle cx="509.6" cy="799.5" r="8.2"/><circle cx="522.8" cy="800.4" r="8.2"/><circle cx="531.8" cy="800.9" r="8.2"/><circle cx="540.0" cy="801.3" r="8.2"/><circle cx="549.6" cy="801.7" r="8.2"/><circle cx="556.4" cy="801.6" r="8.2"/><circle cx="562.7" cy="802.1" r="8.2"/><circle cx="570.3" cy="802.1" r="8.2"/><circle cx="575.7" cy="803.2" r="8.2"/><circle cx="580.8" cy="803.4" r="8.2"/><circle cx="587.1" cy="803.8" r="8.2"/><circle cx="591.6" cy="805.4" r="8.2"/><circle cx="595.9" cy="806.2" r="8.2"/><circle cx="601.3" cy="806.6" r="8.2"/><circle cx="605.2" cy="805.5" r="8.2"/><circle cx="608.9" cy="805.6" r="8.2"/><circle cx="613.5" cy="806.4" r="8.2"/><circle cx="616.9" cy="808.0" r="8.2"/><circle cx="620.2" cy="809.6" r="8.2"/><circle cx="624.3" cy="811.2" r="8.2"/><circle cx="627.3" cy="812.2" r="8.2"/><circle cx="630.3" cy="811.9" r="8.2"/><circle cx="634.0" cy="810.2" r="8.2"/><circle cx="636.7" cy="808.6" r="8.2"/><circle cx="639.3" cy="808.2" r="8.2"/><circle cx="642.7" cy="809.3" r="8.2"/><circle cx="645.1" cy="810.1" r="8.2"/><circle cx="647.6" cy="809.9" r="8.2"/><circle cx="650.6" cy="809.4" r="8.2"/><circle cx="652.9" cy="809.2" r="8.2"/><circle cx="655.1" cy="809.0" r="8.2"/><circle cx="657.9" cy="807.7" r="8.2"/><circle cx="660.0" cy="806.4" r="8.2"/><circle cx="662.1" cy="805.4" r="8.2"/><circle cx="664.7" cy="804.8" r="8.2"/><circle cx="666.6" cy="804.0" r="8.2"/><circle cx="668.5" cy="802.4" r="8.2"/><circle cx="671.0" cy="800.6" r="8.2"/><circle cx="672.8" cy="799.6" r="8.2"/><circle cx="674.6" cy="799.1" r="8.2"/><circle cx="676.8" cy="798.3" r="8.2"/><circle cx="678.5" cy="797.6" r="8.2"/><circle cx="680.2" cy="797.3" r="8.2"/><circle cx="682.4" cy="796.5" r="8.2"/><circle cx="684.0" cy="795.5" r="8.2"/><circle cx="685.5" cy="794.9" r="8.2"/><circle cx="687.6" cy="794.5" r="8.2"/><circle cx="689.1" cy="793.7" r="8.2"/><circle cx="690.6" cy="792.2" r="8.2"/><circle cx="692.5" cy="790.9" r="8.2"/><circle cx="693.9" cy="791.6" r="8.2"/><circle cx="695.3" cy="792.8" r="8.2"/><circle cx="697.1" cy="791.8" r="8.2"/><circle cx="698.5" cy="789.8" r="8.2"/><circle cx="699.9" cy="787.6" r="8.2"/><circle cx="701.6" cy="785.5" r="8.2"/><circle cx="702.9" cy="784.6" r="8.2"/><circle cx="704.2" cy="784.6" r="8.2"/><circle cx="705.8" cy="783.9" r="8.2"/><circle cx="707.1" cy="783.4" r="8.2"/><circle cx="708.3" cy="783.2" r="8.2"/><circle cx="709.9" cy="781.3" r="8.2"/><circle cx="711.0" cy="778.4" r="8.2"/><circle cx="712.2" cy="776.3" r="8.2"/><circle cx="713.7" cy="776.0" r="8.2"/><circle cx="714.9" cy="776.7" r="8.2"/><circle cx="716.0" cy="776.1" r="8.2"/><circle cx="717.4" cy="773.8" r="8.2"/><circle cx="718.5" cy="772.6" r="8.2"/><circle cx="719.6" cy="773.1" r="8.2"/><circle cx="721.0" cy="773.9" r="8.2"/><circle cx="722.0" cy="774.0" r="8.2"/><circle cx="723.1" cy="773.8" r="8.2"/><circle cx="724.4" cy="773.5" r="8.2"/><circle cx="725.4" cy="773.0" r="8.2"/><circle cx="726.4" cy="771.2" r="8.2"/><circle cx="727.7" cy="768.8" r="8.2"/><circle cx="728.7" cy="767.9" r="8.2"/><circle cx="729.7" cy="768.1" r="8.2"/><circle cx="730.9" cy="767.9" r="8.2"/><circle cx="731.9" cy="767.7" r="8.2"/><circle cx="732.8" cy="767.1" r="8.2"/><circle cx="734.0" cy="765.7" r="8.2"/><circle cx="734.9" cy="763.7" r="8.2"/><circle cx="735.8" cy="761.3" r="8.2"/><circle cx="737.0" cy="759.1" r="8.2"/><circle cx="737.8" cy="758.5" r="8.2"/><circle cx="738.7" cy="759.3" r="8.2"/><circle cx="739.9" cy="759.9" r="8.2"/><circle cx="740.7" cy="759.1" r="8.2"/><circle cx="741.6" cy="757.3" r="8.2"/><circle cx="742.6" cy="756.0" r="8.2"/><circle cx="743.5" cy="756.5" r="8.2"/><circle cx="744.3" cy="757.4" r="8.2"/><circle cx="745.4" cy="756.6" r="8.2"/><circle cx="746.2" cy="755.0" r="8.2"/><circle cx="747.0" cy="753.8" r="8.2"/><circle cx="748.0" cy="753.0" r="8.2"/><circle cx="748.8" cy="752.7" r="8.2"/><circle cx="749.5" cy="752.6" r="8.2"/><circle cx="750.5" cy="751.8" r="8.2"/><circle cx="751.3" cy="750.1" r="8.2"/><circle cx="752.1" cy="747.9" r="8.2"/><circle cx="753.0" cy="746.5" r="8.2"/><circle cx="753.8" cy="745.9" r="8.2"/><circle cx="754.5" cy="744.5" r="8.2"/><circle cx="755.4" cy="743.1" r="8.2"/><circle cx="756.2" cy="743.1" r="8.2"/><circle cx="756.9" cy="743.4" r="8.2"/><circle cx="757.8" cy="742.8" r="8.2"/><circle cx="758.5" cy="741.4" r="8.2"/><circle cx="759.2" cy="739.1" r="8.2"/><circle cx="760.1" cy="737.5" r="8.2"/><circle cx="760.8" cy="737.7" r="8.2"/>
</g>
<g fill="#9414d2">
<circle cx="319.3" cy="794.4" r="8.2"/><circle cx="402.0" cy="795.1" r="8.2"/><circle cx="454.2" cy="796.8" r="8.2"/><circle cx="480.4" cy="799.1" r="8.2"/><circle cx="500.8" cy="801.1" r="8.2"/><circle cx="521.8" cy="804.1" r="8.2"/><circle cx="535.2" cy="806.3" r="8.2"/><circle cx="546.9" cy="807.9" r="8.2"/><circle cx="560.1" cy="808.9" r="8.2"/><circle cx="569.1" cy="809.4" r="8.2"/><circle cx="577.3" cy="809.9" r="8.2"/><circle cx="586.9" cy="810.5" r="8.2"/><circle cx="593.7" cy="810.2" r="8.2"/><circle cx="600.0" cy="810.1" r="8.2"/><circle cx="607.6" cy="810.2" r="8.2"/><circle cx="613.0" cy="810.8" r="8.2"/><circle cx="618.1" cy="809.4" r="8.2"/><circle cx="624.4" cy="810.2" r="8.2"/><circle cx="628.9" cy="808.8" r="8.2"/><circle cx="633.2" cy="806.8" r="8.2"/><circle cx="638.6" cy="804.7" r="8.2"/><circle cx="642.4" cy="804.2" r="8.2"/><circle cx="646.2" cy="804.3" r="8.2"/><circle cx="650.8" cy="803.1" r="8.2"/><circle cx="654.2" cy="803.1" r="8.2"/><circle cx="657.5" cy="804.4" r="8.2"/><circle cx="661.6" cy="806.0" r="8.2"/><circle cx="664.6" cy="806.8" r="8.2"/><circle cx="667.6" cy="806.8" r="8.2"/><circle cx="671.2" cy="807.2" r="8.2"/><circle cx="674.0" cy="808.4" r="8.2"/><circle cx="676.6" cy="808.6" r="8.2"/><circle cx="679.9" cy="806.5" r="8.2"/><circle cx="682.4" cy="803.6" r="8.2"/><circle cx="684.8" cy="802.1" r="8.2"/><circle cx="687.9" cy="801.2" r="8.2"/><circle cx="690.2" cy="800.7" r="8.2"/><circle cx="692.4" cy="800.7" r="8.2"/><circle cx="695.2" cy="799.6" r="8.2"/><circle cx="697.3" cy="797.0" r="8.2"/><circle cx="699.3" cy="794.8" r="8.2"/><circle cx="702.0" cy="794.8" r="8.2"/><circle cx="703.9" cy="795.5" r="8.2"/><circle cx="705.8" cy="794.6" r="8.2"/><circle cx="708.2" cy="791.9" r="8.2"/><circle cx="710.1" cy="789.4" r="8.2"/><circle cx="711.8" cy="787.9" r="8.2"/><circle cx="714.1" cy="787.7" r="8.2"/><circle cx="715.8" cy="788.3" r="8.2"/><circle cx="717.5" cy="787.0" r="8.2"/><circle cx="719.6" cy="784.0" r="8.2"/><circle cx="721.2" cy="781.7" r="8.2"/><circle cx="722.8" cy="780.3" r="8.2"/><circle cx="724.8" cy="778.9" r="8.2"/><circle cx="726.4" cy="777.9" r="8.2"/><circle cx="727.9" cy="776.6" r="8.2"/><circle cx="729.8" cy="774.9" r="8.2"/><circle cx="731.2" cy="774.3" r="8.2"/><circle cx="732.6" cy="773.9" r="8.2"/><circle cx="734.4" cy="773.2" r="8.2"/><circle cx="735.8" cy="773.2" r="8.2"/><circle cx="737.1" cy="772.6" r="8.2"/><circle cx="738.9" cy="770.5" r="8.2"/><circle cx="740.2" cy="768.5" r="8.2"/><circle cx="741.5" cy="766.5" r="8.2"/><circle cx="743.1" cy="764.8" r="8.2"/><circle cx="744.3" cy="764.7" r="8.2"/><circle cx="745.6" cy="763.7" r="8.2"/><circle cx="747.1" cy="761.2" r="8.2"/><circle cx="748.3" cy="759.5" r="8.2"/><circle cx="749.5" cy="759.0" r="8.2"/><circle cx="751.0" cy="758.3" r="8.2"/><circle cx="752.1" cy="757.5" r="8.2"/><circle cx="753.3" cy="756.0" r="8.2"/><circle cx="754.7" cy="753.4" r="8.2"/><circle cx="755.8" cy="751.4" r="8.2"/><circle cx="756.9" cy="750.7" r="8.2"/><circle cx="758.3" cy="750.3" r="8.2"/><circle cx="759.3" cy="750.5" r="8.2"/><circle cx="760.4" cy="750.0" r="8.2"/><circle cx="761.7" cy="747.6" r="8.2"/><circle cx="762.7" cy="745.0" r="8.2"/><circle cx="763.7" cy="743.3" r="8.2"/><circle cx="765.0" cy="742.3" r="8.2"/><circle cx="766.0" cy="741.7" r="8.2"/><circle cx="767.0" cy="739.3" r="8.2"/><circle cx="768.2" cy="735.6" r="8.2"/><circle cx="769.1" cy="734.3" r="8.2"/><circle cx="770.1" cy="735.0" r="8.2"/><circle cx="771.3" cy="735.4" r="8.2"/><circle cx="772.2" cy="735.4" r="8.2"/><circle cx="773.1" cy="734.9" r="8.2"/><circle cx="774.3" cy="732.7" r="8.2"/><circle cx="775.1" cy="730.0" r="8.2"/><circle cx="776.0" cy="728.1" r="8.2"/><circle cx="777.1" cy="726.2" r="8.2"/><circle cx="778.0" cy="724.4" r="8.2"/><circle cx="778.8" cy="722.9" r="8.2"/><circle cx="779.9" cy="722.1" r="8.2"/><circle cx="780.8" cy="722.3" r="8.2"/><circle cx="781.6" cy="722.8" r="8.2"/><circle cx="782.6" cy="723.0" r="8.2"/><circle cx="783.4" cy="722.9" r="8.2"/><circle cx="784.2" cy="722.0" r="8.2"/><circle cx="785.3" cy="720.6" r="8.2"/><circle cx="786.1" cy="720.1" r="8.2"/><circle cx="786.8" cy="720.0" r="8.2"/><circle cx="787.8" cy="718.5" r="8.2"/><circle cx="788.6" cy="716.0" r="8.2"/><circle cx="789.3" cy="713.8" r="8.2"/><circle cx="790.3" cy="712.6" r="8.2"/><circle cx="791.1" cy="712.6" r="8.2"/><circle cx="791.8" cy="712.3" r="8.2"/><circle cx="792.7" cy="710.1" r="8.2"/><circle cx="793.5" cy="707.5" r="8.2"/><circle cx="794.2" cy="705.7" r="8.2"/>
</g>
<g fill="#f00a8c">
<circle cx="382.7" cy="795.1" r="8.2"/><circle cx="465.4" cy="797.8" r="8.2"/><circle cx="517.6" cy="801.2" r="8.2"/><circle cx="543.9" cy="802.5" r="8.2"/><circle cx="564.2" cy="804.5" r="8.2"/><circle cx="585.3" cy="806.8" r="8.2"/><circle cx="598.6" cy="809.2" r="8.2"/><circle cx="610.3" cy="809.8" r="8.2"/><circle cx="623.5" cy="810.4" r="8.2"/><circle cx="632.5" cy="810.4" r="8.2"/><circle cx="640.7" cy="808.0" r="8.2"/><circle cx="650.3" cy="806.0" r="8.2"/><circle cx="657.1" cy="803.9" r="8.2"/><circle cx="663.4" cy="802.0" r="8.2"/><circle cx="671.0" cy="797.0" r="8.2"/><circle cx="676.4" cy="792.1" r="8.2"/><circle cx="681.5" cy="790.4" r="8.2"/><circle cx="687.8" cy="785.3" r="8.2"/><circle cx="692.3" cy="783.7" r="8.2"/><circle cx="696.7" cy="782.1" r="8.2"/><circle cx="702.0" cy="778.1" r="8.2"/><circle cx="705.9" cy="775.8" r="8.2"/><circle cx="709.6" cy="775.1" r="8.2"/><circle cx="714.2" cy="772.8" r="8.2"/><circle cx="717.6" cy="770.4" r="8.2"/><circle cx="720.9" cy="768.0" r="8.2"/><circle cx="725.0" cy="766.5" r="8.2"/><circle cx="728.0" cy="765.5" r="8.2"/><circle cx="731.0" cy="762.5" r="8.2"/><circle cx="734.7" cy="758.9" r="8.2"/><circle cx="737.4" cy="757.7" r="8.2"/><circle cx="740.0" cy="756.2" r="8.2"/><circle cx="743.4" cy="752.2" r="8.2"/><circle cx="745.8" cy="748.4" r="8.2"/><circle cx="748.3" cy="744.8" r="8.2"/><circle cx="751.3" cy="741.6" r="8.2"/><circle cx="753.6" cy="740.7" r="8.2"/><circle cx="755.8" cy="739.9" r="8.2"/><circle cx="758.6" cy="738.2" r="8.2"/><circle cx="760.7" cy="736.8" r="8.2"/><circle cx="762.8" cy="734.1" r="8.2"/><circle cx="765.4" cy="729.8" r="8.2"/><circle cx="767.3" cy="726.9" r="8.2"/><circle cx="769.2" cy="724.9" r="8.2"/><circle cx="771.7" cy="722.0" r="8.2"/><circle cx="773.5" cy="719.9" r="8.2"/><circle cx="775.3" cy="718.1" r="8.2"/><circle cx="777.5" cy="715.9" r="8.2"/><circle cx="779.2" cy="714.1" r="8.2"/><circle cx="780.9" cy="711.5" r="8.2"/><circle cx="783.1" cy="707.5" r="8.2"/><circle cx="784.7" cy="704.5" r="8.2"/><circle cx="786.2" cy="702.7" r="8.2"/><circle cx="788.3" cy="701.3" r="8.2"/><circle cx="789.8" cy="700.5" r="8.2"/><circle cx="791.3" cy="699.7" r="8.2"/><circle cx="793.2" cy="698.8" r="8.2"/><circle cx="794.6" cy="697.7" r="8.2"/><circle cx="796.0" cy="695.5" r="8.2"/><circle cx="797.8" cy="692.6" r="8.2"/><circle cx="799.2" cy="690.7" r="8.2"/><circle cx="800.6" cy="689.1" r="8.2"/><circle cx="802.3" cy="686.4" r="8.2"/><circle cx="803.6" cy="683.9" r="8.2"/><circle cx="804.9" cy="682.8" r="8.2"/><circle cx="806.5" cy="682.6" r="8.2"/><circle cx="807.8" cy="682.6" r="8.2"/><circle cx="809.0" cy="682.4" r="8.2"/><circle cx="810.6" cy="681.7" r="8.2"/><circle cx="811.7" cy="680.5" r="8.2"/><circle cx="812.9" cy="678.6" r="8.2"/><circle cx="814.4" cy="676.9" r="8.2"/><circle cx="815.6" cy="676.6" r="8.2"/><circle cx="816.7" cy="675.7" r="8.2"/><circle cx="818.1" cy="673.6" r="8.2"/><circle cx="819.2" cy="672.1" r="8.2"/><circle cx="820.3" cy="670.5" r="8.2"/><circle cx="821.7" cy="668.0" r="8.2"/><circle cx="822.8" cy="666.5" r="8.2"/><circle cx="823.8" cy="665.7" r="8.2"/><circle cx="825.1" cy="664.6" r="8.2"/><circle cx="826.1" cy="663.6" r="8.2"/><circle cx="827.1" cy="661.7" r="8.2"/><circle cx="828.4" cy="659.1" r="8.2"/><circle cx="829.4" cy="658.0" r="8.2"/><circle cx="830.4" cy="657.7" r="8.2"/><circle cx="831.6" cy="656.3" r="8.2"/><circle cx="832.6" cy="654.5" r="8.2"/><circle cx="833.5" cy="652.8" r="8.2"/><circle cx="834.7" cy="651.8" r="8.2"/><circle cx="835.6" cy="651.7" r="8.2"/><circle cx="836.5" cy="651.1" r="8.2"/><circle cx="837.7" cy="649.8" r="8.2"/><circle cx="838.6" cy="649.6" r="8.2"/><circle cx="839.4" cy="650.0" r="8.2"/><circle cx="840.6" cy="648.8" r="8.2"/><circle cx="841.4" cy="646.5" r="8.2"/><circle cx="842.3" cy="644.3" r="8.2"/><circle cx="843.4" cy="642.0" r="8.2"/><circle cx="844.2" cy="640.0" r="8.2"/><circle cx="845.0" cy="639.4" r="8.2"/><circle cx="846.1" cy="638.9" r="8.2"/><circle cx="846.9" cy="637.5" r="8.2"/><circle cx="847.7" cy="635.5" r="8.2"/><circle cx="848.7" cy="633.3" r="8.2"/><circle cx="849.5" cy="631.7" r="8.2"/><circle cx="850.2" cy="631.2" r="8.2"/><circle cx="851.2" cy="631.6" r="8.2"/><circle cx="852.0" cy="631.3" r="8.2"/><circle cx="852.8" cy="629.5" r="8.2"/><circle cx="853.7" cy="627.1" r="8.2"/><circle cx="854.5" cy="626.2" r="8.2"/><circle cx="855.2" cy="627.1" r="8.2"/><circle cx="856.2" cy="627.9" r="8.2"/><circle cx="856.9" cy="626.7" r="8.2"/><circle cx="857.6" cy="624.0" r="8.2"/><circle cx="858.5" cy="621.2" r="8.2"/><circle cx="859.2" cy="619.5" r="8.2"/><circle cx="859.9" cy="618.6" r="8.2"/>
</g>
<g fill="#c80000">
<circle cx="448.2" cy="808.7" r="8.2"/><circle cx="530.9" cy="810.4" r="8.2"/><circle cx="583.1" cy="806.4" r="8.2"/><circle cx="609.4" cy="804.7" r="8.2"/><circle cx="629.7" cy="802.4" r="8.2"/><circle cx="650.8" cy="798.8" r="8.2"/><circle cx="664.2" cy="796.5" r="8.2"/><circle cx="675.8" cy="791.6" r="8.2"/><circle cx="689.0" cy="785.1" r="8.2"/><circle cx="698.0" cy="781.2" r="8.2"/><circle cx="706.2" cy="777.5" r="8.2"/><circle cx="715.9" cy="769.0" r="8.2"/><circle cx="722.6" cy="761.8" r="8.2"/><circle cx="728.9" cy="754.9" r="8.2"/><circle cx="736.5" cy="746.4" r="8.2"/><circle cx="741.9" cy="740.4" r="8.2"/><circle cx="747.1" cy="734.1" r="8.2"/><circle cx="753.3" cy="726.5" r="8.2"/><circle cx="757.9" cy="720.4" r="8.2"/><circle cx="762.2" cy="715.8" r="8.2"/><circle cx="767.5" cy="709.8" r="8.2"/><circle cx="771.4" cy="704.4" r="8.2"/><circle cx="775.1" cy="699.5" r="8.2"/><circle cx="779.8" cy="694.3" r="8.2"/><circle cx="783.2" cy="690.1" r="8.2"/><circle cx="786.4" cy="684.8" r="8.2"/><circle cx="790.5" cy="678.1" r="8.2"/><circle cx="793.6" cy="673.1" r="8.2"/><circle cx="796.5" cy="669.5" r="8.2"/><circle cx="800.2" cy="667.2" r="8.2"/><circle cx="802.9" cy="666.6" r="8.2"/><circle cx="805.5" cy="665.0" r="8.2"/><circle cx="808.9" cy="662.2" r="8.2"/><circle cx="811.4" cy="660.4" r="8.2"/><circle cx="813.8" cy="658.9" r="8.2"/><circle cx="816.8" cy="656.3" r="8.2"/><circle cx="819.1" cy="654.1" r="8.2"/><circle cx="821.3" cy="651.7" r="8.2"/><circle cx="824.1" cy="648.1" r="8.2"/><circle cx="826.2" cy="644.8" r="8.2"/><circle cx="828.3" cy="642.2" r="8.2"/><circle cx="830.9" cy="639.4" r="8.2"/><circle cx="832.8" cy="637.9" r="8.2"/><circle cx="834.7" cy="636.1" r="8.2"/><circle cx="837.2" cy="632.4" r="8.2"/><circle cx="839.0" cy="628.7" r="8.2"/><circle cx="840.8" cy="626.0" r="8.2"/><circle cx="843.1" cy="624.4" r="8.2"/><circle cx="844.8" cy="624.4" r="8.2"/><circle cx="846.4" cy="624.3" r="8.2"/><circle cx="848.6" cy="623.4" r="8.2"/><circle cx="850.2" cy="622.3" r="8.2"/><circle cx="851.8" cy="619.7" r="8.2"/><circle cx="853.8" cy="616.5" r="8.2"/><circle cx="855.3" cy="614.4" r="8.2"/><circle cx="856.8" cy="612.2" r="8.2"/><circle cx="858.7" cy="609.5" r="8.2"/><circle cx="860.1" cy="608.6" r="8.2"/><circle cx="861.6" cy="608.4" r="8.2"/><circle cx="863.4" cy="606.9" r="8.2"/><circle cx="864.7" cy="605.1" r="8.2"/><circle cx="866.1" cy="603.7" r="8.2"/><circle cx="867.8" cy="601.6" r="8.2"/><circle cx="869.1" cy="599.1" r="8.2"/><circle cx="870.4" cy="596.2" r="8.2"/><circle cx="872.0" cy="593.4" r="8.2"/><circle cx="873.3" cy="592.3" r="8.2"/><circle cx="874.5" cy="591.9" r="8.2"/><circle cx="876.1" cy="591.2" r="8.2"/><circle cx="877.3" cy="590.6" r="8.2"/><circle cx="878.4" cy="589.2" r="8.2"/><circle cx="879.9" cy="586.8" r="8.2"/><circle cx="881.1" cy="585.3" r="8.2"/><circle cx="882.2" cy="585.1" r="8.2"/><circle cx="883.7" cy="584.8" r="8.2"/><circle cx="884.7" cy="584.0" r="8.2"/><circle cx="885.8" cy="582.3" r="8.2"/><circle cx="887.2" cy="580.7" r="8.2"/><circle cx="888.3" cy="580.4" r="8.2"/><circle cx="889.3" cy="579.6" r="8.2"/><circle cx="890.6" cy="577.1" r="8.2"/><circle cx="891.7" cy="575.7" r="8.2"/><circle cx="892.7" cy="575.8" r="8.2"/><circle cx="893.9" cy="575.3" r="8.2"/><circle cx="894.9" cy="573.6" r="8.2"/><circle cx="895.9" cy="571.5" r="8.2"/><circle cx="897.1" cy="569.8" r="8.2"/><circle cx="898.1" cy="568.7" r="8.2"/><circle cx="899.0" cy="567.9" r="8.2"/><circle cx="900.2" cy="567.6" r="8.2"/><circle cx="901.1" cy="568.2" r="8.2"/><circle cx="902.0" cy="568.4" r="8.2"/><circle cx="903.2" cy="567.2" r="8.2"/><circle cx="904.1" cy="566.0" r="8.2"/><circle cx="904.9" cy="565.3" r="8.2"/><circle cx="906.1" cy="564.1" r="8.2"/><circle cx="906.9" cy="561.7" r="8.2"/><circle cx="907.8" cy="559.2" r="8.2"/><circle cx="908.9" cy="558.5" r="8.2"/><circle cx="909.7" cy="559.0" r="8.2"/><circle cx="910.5" cy="559.2" r="8.2"/><circle cx="911.6" cy="558.6" r="8.2"/><circle cx="912.4" cy="558.0" r="8.2"/><circle cx="913.2" cy="557.6" r="8.2"/><circle cx="914.2" cy="556.4" r="8.2"/><circle cx="915.0" cy="554.9" r="8.2"/><circle cx="915.8" cy="553.6" r="8.2"/><circle cx="916.8" cy="551.9" r="8.2"/><circle cx="917.5" cy="549.9" r="8.2"/><circle cx="918.3" cy="548.0" r="8.2"/><circle cx="919.3" cy="546.1" r="8.2"/><circle cx="920.0" cy="545.2" r="8.2"/><circle cx="920.7" cy="545.5" r="8.2"/><circle cx="921.7" cy="546.0" r="8.2"/><circle cx="922.4" cy="546.4" r="8.2"/><circle cx="923.1" cy="545.3" r="8.2"/><circle cx="924.0" cy="542.6" r="8.2"/><circle cx="924.7" cy="539.8" r="8.2"/><circle cx="925.4" cy="538.0" r="8.2"/>
</g>
<g fill="#000000">
<circle cx="498.3" cy="810.4" r="8.2"/><circle cx="581.0" cy="810.3" r="8.2"/><circle cx="633.3" cy="801.9" r="8.2"/><circle cx="659.5" cy="794.0" r="8.2"/><circle cx="679.8" cy="785.7" r="8.2"/><circle cx="700.9" cy="777.1" r="8.2"/><circle cx="714.3" cy="769.9" r="8.2"/><circle cx="725.9" cy="760.8" r="8.2"/><circle cx="739.2" cy="746.1" r="8.2"/><circle cx="748.1" cy="734.6" r="8.2"/><circle cx="756.3" cy="725.8" r="8.2"/><circle cx="766.0" cy="717.2" r="8.2"/><circle cx="772.7" cy="709.7" r="8.2"/><circle cx="779.0" cy="701.8" r="8.2"/><circle cx="786.6" cy="694.7" r="8.2"/><circle cx="792.1" cy="688.8" r="8.2"/><circle cx="797.2" cy="681.8" r="8.2"/><circle cx="803.4" cy="676.0" r="8.2"/><circle cx="808.0" cy="671.0" r="8.2"/><circle cx="812.3" cy="666.1" r="8.2"/><circle cx="817.6" cy="660.2" r="8.2"/><circle cx="821.5" cy="656.0" r="8.2"/><circle cx="825.2" cy="652.2" r="8.2"/><circle cx="829.9" cy="646.9" r="8.2"/><circle cx="833.3" cy="643.5" r="8.2"/><circle cx="836.5" cy="640.7" r="8.2"/><circle cx="840.7" cy="637.0" r="8.2"/><circle cx="843.7" cy="634.4" r="8.2"/><circle cx="846.6" cy="631.7" r="8.2"/><circle cx="850.3" cy="627.6" r="8.2"/><circle cx="853.0" cy="623.7" r="8.2"/><circle cx="855.7" cy="619.7" r="8.2"/><circle cx="859.0" cy="615.6" r="8.2"/><circle cx="861.5" cy="613.3" r="8.2"/><circle cx="863.9" cy="611.2" r="8.2"/><circle cx="866.9" cy="608.4" r="8.2"/><circle cx="869.2" cy="606.9" r="8.2"/><circle cx="871.4" cy="605.9" r="8.2"/><circle cx="874.2" cy="604.0" r="8.2"/><circle cx="876.3" cy="601.9" r="8.2"/><circle cx="878.4" cy="598.9" r="8.2"/><circle cx="881.0" cy="594.9" r="8.2"/><circle cx="883.0" cy="592.3" r="8.2"/><circle cx="884.9" cy="591.2" r="8.2"/><circle cx="887.3" cy="590.5" r="8.2"/><circle cx="889.1" cy="590.3" r="8.2"/><circle cx="890.9" cy="589.4" r="8.2"/><circle cx="893.2" cy="587.2" r="8.2"/><circle cx="894.9" cy="584.6" r="8.2"/><circle cx="896.6" cy="580.9" r="8.2"/><circle cx="898.7" cy="577.1" r="8.2"/><circle cx="900.3" cy="575.6" r="8.2"/><circle cx="901.9" cy="575.0" r="8.2"/><circle cx="903.9" cy="573.2" r="8.2"/><circle cx="905.4" cy="571.0" r="8.2"/><circle cx="906.9" cy="569.1" r="8.2"/><circle cx="908.8" cy="567.4" r="8.2"/><circle cx="910.3" cy="566.7" r="8.2"/><circle cx="911.7" cy="566.0" r="8.2"/><circle cx="913.5" cy="565.2" r="8.2"/><circle cx="914.8" cy="564.6" r="8.2"/><circle cx="916.2" cy="563.6" r="8.2"/><circle cx="917.9" cy="562.0" r="8.2"/><circle cx="919.2" cy="561.0" r="8.2"/><circle cx="920.5" cy="560.0" r="8.2"/><circle cx="922.1" cy="557.9" r="8.2"/><circle cx="923.4" cy="555.7" r="8.2"/><circle cx="924.6" cy="554.0" r="8.2"/><circle cx="926.2" cy="552.6" r="8.2"/><circle cx="927.4" cy="552.2" r="8.2"/><circle cx="928.6" cy="552.0" r="8.2"/><circle cx="930.1" cy="550.7" r="8.2"/><circle cx="931.2" cy="548.9" r="8.2"/><circle cx="932.3" cy="547.6" r="8.2"/><circle cx="933.8" cy="546.4" r="8.2"/><circle cx="934.9" cy="544.8" r="8.2"/><circle cx="935.9" cy="543.2" r="8.2"/><circle cx="937.3" cy="541.4" r="8.2"/><circle cx="938.4" cy="540.0" r="8.2"/><circle cx="939.4" cy="539.8" r="8.2"/><circle cx="940.8" cy="540.1" r="8.2"/><circle cx="941.8" cy="540.1" r="8.2"/><circle cx="942.8" cy="539.1" r="8.2"/><circle cx="944.1" cy="536.9" r="8.2"/><circle cx="945.0" cy="534.7" r="8.2"/><circle cx="946.0" cy="533.4" r="8.2"/><circle cx="947.3" cy="533.1" r="8.2"/><circle cx="948.2" cy="532.6" r="8.2"/><circle cx="949.1" cy="530.9" r="8.2"/><circle cx="950.3" cy="528.4" r="8.2"/><circle cx="951.2" cy="526.7" r="8.2"/><circle cx="952.1" cy="525.6" r="8.2"/><circle cx="953.3" cy="523.9" r="8.2"/><circle cx="954.2" cy="522.1" r="8.2"/><circle cx="955.1" cy="520.2" r="8.2"/><circle cx="956.2" cy="518.8" r="8.2"/><circle cx="957.0" cy="519.0" r="8.2"/><circle cx="957.9" cy="519.0" r="8.2"/><circle cx="959.0" cy="517.9" r="8.2"/><circle cx="959.8" cy="517.7" r="8.2"/><circle cx="960.6" cy="518.0" r="8.2"/><circle cx="961.7" cy="516.8" r="8.2"/><circle cx="962.5" cy="515.5" r="8.2"/><circle cx="963.3" cy="514.6" r="8.2"/><circle cx="964.3" cy="513.4" r="8.2"/><circle cx="965.1" cy="512.3" r="8.2"/><circle cx="965.9" cy="511.8" r="8.2"/><circle cx="966.9" cy="510.6" r="8.2"/><circle cx="967.6" cy="508.7" r="8.2"/><circle cx="968.4" cy="506.9" r="8.2"/><circle cx="969.4" cy="505.7" r="8.2"/><circle cx="970.1" cy="505.0" r="8.2"/><circle cx="970.8" cy="503.7" r="8.2"/><circle cx="971.8" cy="501.8" r="8.2"/><circle cx="972.5" cy="500.1" r="8.2"/><circle cx="973.2" cy="497.9" r="8.2"/><circle cx="974.1" cy="495.0" r="8.2"/><circle cx="974.8" cy="493.0" r="8.2"/><circle cx="975.5" cy="491.7" r="8.2"/><circle cx="976.4" cy="491.2" r="8.2"/>
</g>
<text transform="translate(119.50,464.50) scale(0.81,1)" font-family="Liberation Sans" font-size="34.3" fill="#000" text-anchor="end" font-weight="normal" font-style="normal" >1.2</text>
<text transform="translate(119.50,583.40) scale(0.81,1)" font-family="Liberation Sans" font-size="34.3" fill="#000" text-anchor="end" font-weight="normal" font-style="normal" >0.8</text>
<text transform="translate(119.50,701.00) scale(0.81,1)" font-family="Liberation Sans" font-size="34.3" fill="#000" text-anchor="end" font-weight="normal" font-style="normal" >0.4</text>
<text transform="translate(119.50,818.30) scale(0.81,1)" font-family="Liberation Sans" font-size="34.3" fill="#000" text-anchor="end" font-weight="normal" font-style="normal" >0.0</text>
<text transform="translate(126.90,855.00) scale(0.81,1)" font-family="Liberation Sans" font-size="34.3" fill="#000" text-anchor="middle" font-weight="normal" font-style="normal" >0.01</text>
<text transform="translate(335.30,855.00) scale(0.81,1)" font-family="Liberation Sans" font-size="34.3" fill="#000" text-anchor="middle" font-weight="normal" font-style="normal" >0.1</text>
<text transform="translate(543.70,855.00) scale(0.81,1)" font-family="Liberation Sans" font-size="34.3" fill="#000" text-anchor="middle" font-weight="normal" font-style="normal" >1</text>
<text transform="translate(752.10,855.00) scale(0.81,1)" font-family="Liberation Sans" font-size="34.3" fill="#000" text-anchor="middle" font-weight="normal" font-style="normal" >10</text>
<text transform="translate(960.50,855.00) scale(0.81,1)" font-family="Liberation Sans" font-size="34.3" fill="#000" text-anchor="middle" font-weight="normal" font-style="normal" >100</text>
<text transform="translate(62.3,690.5) rotate(-90) scale(0.81,1)" font-family="Liberation Sans" font-size="34.3">&#916;<tspan font-style="italic">g</tspan> (e<tspan font-size="20" dy="-15.5">2</tspan><tspan dy="15.5">/</tspan><tspan font-style="italic">h</tspan>)</text>
<text transform="translate(184.10,533.00) scale(0.81,1)" font-family="Liberation Sans" font-size="29" fill="#000000" text-anchor="start" font-weight="normal" font-style="normal" >3 K</text>
<text transform="translate(184.10,564.80) scale(0.81,1)" font-family="Liberation Sans" font-size="29" fill="#c80000" text-anchor="start" font-weight="normal" font-style="normal" >5 K</text>
<text transform="translate(184.10,596.60) scale(0.81,1)" font-family="Liberation Sans" font-size="29" fill="#f00a8c" text-anchor="start" font-weight="normal" font-style="normal" >10 K</text>
<text transform="translate(184.10,628.40) scale(0.81,1)" font-family="Liberation Sans" font-size="29" fill="#9414d2" text-anchor="start" font-weight="normal" font-style="normal" >20 K</text>
<text transform="translate(184.10,660.20) scale(0.81,1)" font-family="Liberation Sans" font-size="29" fill="#0000d0" text-anchor="start" font-weight="normal" font-style="normal" >30 K</text>
<text transform="translate(184.10,692.00) scale(0.81,1)" font-family="Liberation Sans" font-size="29" fill="#00aee8" text-anchor="start" font-weight="normal" font-style="normal" >40 K</text>
<text transform="translate(184.10,723.80) scale(0.81,1)" font-family="Liberation Sans" font-size="29" fill="#8ee3ec" text-anchor="start" font-weight="normal" font-style="normal" >55 K</text>
<text transform="translate(799.00,786.50) scale(0.81,1)" font-family="Liberation Sans" font-size="50" fill="#000" text-anchor="start" font-weight="bold" font-style="normal" >(b)</text>
<text transform="translate(903,773.6) scale(0.81,1)" font-family="Liberation Sans" font-size="34.3" font-style="italic">eV/k<tspan font-size="20" dx="1" dy="15.8">B</tspan><tspan dx="-1" dy="-15.8">T</tspan></text>
<g fill="#50e4f4">
<circle cx="365.3" cy="643.4" r="6.0"/><circle cx="388.2" cy="643.4" r="6.0"/><circle cx="401.6" cy="643.4" r="6.0"/><circle cx="411.1" cy="643.4" r="6.0"/><circle cx="418.5" cy="643.4" r="6.0"/><circle cx="424.6" cy="643.4" r="6.0"/><circle cx="429.7" cy="643.4" r="6.0"/><circle cx="434.1" cy="643.4" r="6.0"/><circle cx="438.0" cy="643.4" r="6.0"/><circle cx="441.5" cy="643.4" r="6.0"/><circle cx="444.6" cy="643.4" r="6.0"/><circle cx="447.5" cy="643.4" r="6.0"/><circle cx="450.1" cy="643.4" r="6.0"/><circle cx="452.6" cy="643.4" r="6.0"/><circle cx="454.9" cy="643.4" r="6.0"/><circle cx="457.0" cy="643.4" r="6.0"/><circle cx="459.0" cy="643.4" r="6.0"/><circle cx="460.9" cy="643.4" r="6.0"/><circle cx="462.7" cy="643.4" r="6.0"/><circle cx="464.4" cy="643.4" r="6.0"/><circle cx="466.0" cy="643.4" r="6.0"/><circle cx="467.6" cy="643.4" r="6.0"/><circle cx="469.0" cy="643.4" r="6.0"/><circle cx="470.4" cy="643.4" r="6.0"/><circle cx="471.8" cy="643.4" r="6.0"/><circle cx="473.1" cy="643.4" r="6.0"/><circle cx="474.3" cy="643.4" r="6.0"/><circle cx="475.5" cy="643.4" r="6.0"/><circle cx="476.7" cy="643.4" r="6.0"/><circle cx="477.8" cy="643.4" r="6.0"/><circle cx="478.9" cy="643.4" r="6.0"/><circle cx="480.0" cy="643.4" r="6.0"/><circle cx="481.0" cy="643.4" r="6.0"/><circle cx="482.0" cy="643.4" r="6.0"/><circle cx="482.9" cy="643.4" r="6.0"/><circle cx="483.9" cy="643.4" r="6.0"/><circle cx="484.8" cy="643.4" r="6.0"/><circle cx="486.5" cy="643.4" r="6.0"/><circle cx="488.2" cy="643.4" r="6.0"/><circle cx="489.7" cy="643.4" r="6.0"/><circle cx="491.2" cy="643.4" r="6.0"/><circle cx="492.7" cy="643.4" r="6.0"/><circle cx="494.1" cy="643.4" r="6.0"/><circle cx="495.4" cy="643.4" r="6.0"/><circle cx="496.7" cy="643.4" r="6.0"/><circle cx="497.9" cy="643.4" r="6.0"/><circle cx="499.1" cy="643.3" r="6.0"/><circle cx="500.2" cy="643.2" r="6.0"/><circle cx="501.3" cy="643.1" r="6.0"/><circle cx="502.4" cy="643.1" r="6.0"/><circle cx="503.4" cy="643.0" r="6.0"/><circle cx="504.4" cy="642.9" r="6.0"/><circle cx="505.4" cy="642.9" r="6.0"/><circle cx="506.3" cy="642.8" r="6.0"/><circle cx="507.3" cy="642.7" r="6.0"/><circle cx="508.6" cy="642.6" r="6.0"/><circle cx="509.9" cy="642.4" r="6.0"/><circle cx="511.1" cy="642.3" r="6.0"/><circle cx="512.3" cy="642.2" r="6.0"/><circle cx="513.4" cy="642.1" r="6.0"/><circle cx="514.5" cy="642.0" r="6.0"/><circle cx="515.6" cy="641.8" r="6.0"/><circle cx="516.7" cy="641.7" r="6.0"/><circle cx="517.7" cy="641.6" r="6.0"/><circle cx="518.6" cy="641.5" r="6.0"/><circle cx="519.6" cy="641.4" r="6.0"/><circle cx="520.5" cy="641.3" r="6.0"/><circle cx="521.4" cy="641.2" r="6.0"/><circle cx="522.6" cy="641.0" r="6.0"/><circle cx="523.7" cy="640.9" r="6.0"/><circle cx="524.8" cy="640.7" r="6.0"/><circle cx="525.8" cy="640.5" r="6.0"/><circle cx="526.9" cy="640.4" r="6.0"/><circle cx="527.8" cy="640.2" r="6.0"/><circle cx="528.8" cy="640.0" r="6.0"/><circle cx="529.7" cy="639.8" r="6.0"/><circle cx="530.6" cy="639.6" r="6.0"/><circle cx="531.5" cy="639.4" r="6.0"/><circle cx="532.6" cy="639.2" r="6.0"/><circle cx="533.6" cy="638.9" r="6.0"/><circle cx="534.6" cy="638.7" r="6.0"/><circle cx="535.6" cy="638.4" r="6.0"/><circle cx="536.6" cy="638.1" r="6.0"/><circle cx="537.5" cy="637.8" r="6.0"/><circle cx="538.4" cy="637.4" r="6.0"/><circle cx="539.3" cy="637.0" r="6.0"/><circle cx="540.1" cy="636.6" r="6.0"/><circle cx="540.9" cy="636.2" r="6.0"/><circle cx="541.7" cy="635.8" r="6.0"/><circle cx="542.5" cy="635.3" r="6.0"/><circle cx="543.5" cy="634.8" r="6.0"/><circle cx="544.4" cy="634.2" r="6.0"/><circle cx="545.2" cy="633.6" r="6.0"/><circle cx="546.1" cy="633.0" r="6.0"/><circle cx="546.9" cy="632.3" r="6.0"/><circle cx="547.7" cy="631.6" r="6.0"/><circle cx="548.5" cy="631.0" r="6.0"/><circle cx="549.3" cy="630.3" r="6.0"/><circle cx="550.0" cy="629.6" r="6.0"/><circle cx="550.8" cy="628.9" r="6.0"/><circle cx="551.5" cy="628.2" r="6.0"/><circle cx="552.2" cy="627.5" r="6.0"/><circle cx="552.9" cy="626.8" r="6.0"/><circle cx="553.6" cy="626.1" r="6.0"/><circle cx="554.2" cy="625.4" r="6.0"/><circle cx="555.0" cy="624.7" r="6.0"/><circle cx="555.7" cy="624.0" r="6.0"/><circle cx="556.5" cy="623.3" r="6.0"/><circle cx="557.2" cy="622.7" r="6.0"/><circle cx="557.9" cy="622.0" r="6.0"/><circle cx="558.6" cy="621.4" r="6.0"/><circle cx="559.2" cy="620.7" r="6.0"/><circle cx="560.0" cy="620.0" r="6.0"/><circle cx="560.7" cy="619.4" r="6.0"/><circle cx="561.4" cy="618.7" r="6.0"/><circle cx="561.8" cy="612.3" r="6.0"/><circle cx="561.9" cy="612.1" r="6.0"/>
</g>
<g fill="#2a6ef0">
<circle cx="375.9" cy="641.9" r="6.0"/><circle cx="398.9" cy="641.9" r="6.0"/><circle cx="412.3" cy="641.9" r="6.0"/><circle cx="421.8" cy="641.9" r="6.0"/><circle cx="429.2" cy="641.9" r="6.0"/><circle cx="435.2" cy="641.9" r="6.0"/><circle cx="440.3" cy="641.9" r="6.0"/><circle cx="444.8" cy="641.9" r="6.0"/><circle cx="448.7" cy="641.9" r="6.0"/><circle cx="452.1" cy="641.9" r="6.0"/><circle cx="455.3" cy="641.9" r="6.0"/><circle cx="458.2" cy="641.9" r="6.0"/><circle cx="460.8" cy="641.9" r="6.0"/><circle cx="463.3" cy="641.9" r="6.0"/><circle cx="465.6" cy="641.9" r="6.0"/><circle cx="467.7" cy="641.9" r="6.0"/><circle cx="469.7" cy="641.9" r="6.0"/><circle cx="471.6" cy="641.9" r="6.0"/><circle cx="473.4" cy="641.9" r="6.0"/><circle cx="475.1" cy="641.9" r="6.0"/><circle cx="476.7" cy="641.9" r="6.0"/><circle cx="478.2" cy="641.9" r="6.0"/><circle cx="479.7" cy="641.9" r="6.0"/><circle cx="481.1" cy="641.9" r="6.0"/><circle cx="482.5" cy="641.9" r="6.0"/><circle cx="483.8" cy="641.9" r="6.0"/><circle cx="485.0" cy="641.9" r="6.0"/><circle cx="486.2" cy="641.9" r="6.0"/><circle cx="487.4" cy="641.9" r="6.0"/><circle cx="488.5" cy="641.9" r="6.0"/><circle cx="489.6" cy="641.9" r="6.0"/><circle cx="490.6" cy="641.9" r="6.0"/><circle cx="491.7" cy="641.9" r="6.0"/><circle cx="492.6" cy="641.9" r="6.0"/><circle cx="493.6" cy="641.9" r="6.0"/><circle cx="494.5" cy="641.9" r="6.0"/><circle cx="495.4" cy="641.9" r="6.0"/><circle cx="497.2" cy="641.9" r="6.0"/><circle cx="498.8" cy="641.8" r="6.0"/><circle cx="500.4" cy="641.7" r="6.0"/><circle cx="501.9" cy="641.7" r="6.0"/><circle cx="503.4" cy="641.6" r="6.0"/><circle cx="504.7" cy="641.5" r="6.0"/><circle cx="506.1" cy="641.4" r="6.0"/><circle cx="507.3" cy="641.3" r="6.0"/><circle cx="508.6" cy="641.2" r="6.0"/><circle cx="509.7" cy="641.1" r="6.0"/><circle cx="510.9" cy="641.0" r="6.0"/><circle cx="512.0" cy="640.9" r="6.0"/><circle cx="513.1" cy="640.8" r="6.0"/><circle cx="514.1" cy="640.7" r="6.0"/><circle cx="515.1" cy="640.6" r="6.0"/><circle cx="516.1" cy="640.5" r="6.0"/><circle cx="517.0" cy="640.4" r="6.0"/><circle cx="517.9" cy="640.3" r="6.0"/><circle cx="519.3" cy="640.2" r="6.0"/><circle cx="520.5" cy="640.0" r="6.0"/><circle cx="521.8" cy="639.9" r="6.0"/><circle cx="523.0" cy="639.8" r="6.0"/><circle cx="524.1" cy="639.6" r="6.0"/><circle cx="525.2" cy="639.5" r="6.0"/><circle cx="526.3" cy="639.4" r="6.0"/><circle cx="527.3" cy="639.2" r="6.0"/><circle cx="528.3" cy="639.0" r="6.0"/><circle cx="529.3" cy="638.9" r="6.0"/><circle cx="530.3" cy="638.7" r="6.0"/><circle cx="531.2" cy="638.5" r="6.0"/><circle cx="532.1" cy="638.4" r="6.0"/><circle cx="533.3" cy="638.1" r="6.0"/><circle cx="534.4" cy="637.9" r="6.0"/><circle cx="535.5" cy="637.6" r="6.0"/><circle cx="536.5" cy="637.4" r="6.0"/><circle cx="537.5" cy="637.1" r="6.0"/><circle cx="538.5" cy="636.7" r="6.0"/><circle cx="539.5" cy="636.4" r="6.0"/><circle cx="540.4" cy="636.0" r="6.0"/><circle cx="541.3" cy="635.6" r="6.0"/><circle cx="542.2" cy="635.1" r="6.0"/><circle cx="543.1" cy="634.7" r="6.0"/><circle cx="543.9" cy="634.3" r="6.0"/><circle cx="544.7" cy="633.8" r="6.0"/><circle cx="545.5" cy="633.3" r="6.0"/><circle cx="546.3" cy="632.8" r="6.0"/><circle cx="547.1" cy="632.3" r="6.0"/><circle cx="547.8" cy="631.8" r="6.0"/><circle cx="548.5" cy="631.2" r="6.0"/><circle cx="549.2" cy="630.7" r="6.0"/><circle cx="550.1" cy="630.0" r="6.0"/><circle cx="551.0" cy="629.3" r="6.0"/><circle cx="551.8" cy="628.6" r="6.0"/><circle cx="552.6" cy="627.9" r="6.0"/><circle cx="553.4" cy="627.2" r="6.0"/><circle cx="554.1" cy="626.4" r="6.0"/><circle cx="554.9" cy="625.8" r="6.0"/><circle cx="555.6" cy="625.1" r="6.0"/><circle cx="556.3" cy="624.4" r="6.0"/><circle cx="557.0" cy="623.7" r="6.0"/><circle cx="557.7" cy="623.1" r="6.0"/><circle cx="558.4" cy="622.4" r="6.0"/><circle cx="559.1" cy="621.8" r="6.0"/><circle cx="559.8" cy="621.1" r="6.0"/><circle cx="560.6" cy="620.4" r="6.0"/><circle cx="561.3" cy="619.7" r="6.0"/><circle cx="562.1" cy="619.0" r="6.0"/><circle cx="562.8" cy="618.3" r="6.0"/><circle cx="563.5" cy="617.7" r="6.0"/><circle cx="564.1" cy="617.0" r="6.0"/><circle cx="564.8" cy="616.4" r="6.0"/><circle cx="565.5" cy="615.7" r="6.0"/><circle cx="566.1" cy="615.1" r="6.0"/><circle cx="566.8" cy="614.3" r="6.0"/><circle cx="567.6" cy="613.6" r="6.0"/><circle cx="568.3" cy="612.8" r="6.0"/><circle cx="568.9" cy="612.1" r="6.0"/><circle cx="569.6" cy="611.4" r="6.0"/><circle cx="570.3" cy="610.7" r="6.0"/><circle cx="570.9" cy="610.0" r="6.0"/><circle cx="571.6" cy="609.2" r="6.0"/><circle cx="572.2" cy="608.5" r="6.0"/><circle cx="572.3" cy="600.9" r="6.0"/><circle cx="572.4" cy="600.7" r="6.0"/>
</g>
<g fill="#0000d0">
<circle cx="385.8" cy="636.9" r="6.0"/><circle cx="408.8" cy="636.9" r="6.0"/><circle cx="422.2" cy="636.9" r="6.0"/><circle cx="431.7" cy="636.9" r="6.0"/><circle cx="439.1" cy="636.9" r="6.0"/><circle cx="445.1" cy="636.9" r="6.0"/><circle cx="450.2" cy="636.9" r="6.0"/><circle cx="454.7" cy="636.9" r="6.0"/><circle cx="458.6" cy="636.9" r="6.0"/><circle cx="462.0" cy="636.9" r="6.0"/><circle cx="465.2" cy="636.9" r="6.0"/><circle cx="468.1" cy="636.9" r="6.0"/><circle cx="470.7" cy="636.9" r="6.0"/><circle cx="473.2" cy="636.9" r="6.0"/><circle cx="475.5" cy="636.9" r="6.0"/><circle cx="477.6" cy="636.9" r="6.0"/><circle cx="479.6" cy="636.9" r="6.0"/><circle cx="481.5" cy="636.9" r="6.0"/><circle cx="483.3" cy="636.9" r="6.0"/><circle cx="485.0" cy="636.9" r="6.0"/><circle cx="486.6" cy="636.9" r="6.0"/><circle cx="488.1" cy="636.9" r="6.0"/><circle cx="489.6" cy="636.9" r="6.0"/><circle cx="491.0" cy="636.9" r="6.0"/><circle cx="492.4" cy="636.9" r="6.0"/><circle cx="493.7" cy="636.9" r="6.0"/><circle cx="494.9" cy="636.9" r="6.0"/><circle cx="496.1" cy="636.9" r="6.0"/><circle cx="497.3" cy="636.9" r="6.0"/><circle cx="498.4" cy="636.8" r="6.0"/><circle cx="499.5" cy="636.8" r="6.0"/><circle cx="500.5" cy="636.8" r="6.0"/><circle cx="501.6" cy="636.7" r="6.0"/><circle cx="502.5" cy="636.7" r="6.0"/><circle cx="503.5" cy="636.6" r="6.0"/><circle cx="504.4" cy="636.6" r="6.0"/><circle cx="505.3" cy="636.5" r="6.0"/><circle cx="507.1" cy="636.5" r="6.0"/><circle cx="508.7" cy="636.4" r="6.0"/><circle cx="510.3" cy="636.3" r="6.0"/><circle cx="511.8" cy="636.2" r="6.0"/><circle cx="513.3" cy="636.1" r="6.0"/><circle cx="514.6" cy="636.0" r="6.0"/><circle cx="516.0" cy="635.9" r="6.0"/><circle cx="517.2" cy="635.9" r="6.0"/><circle cx="518.5" cy="635.8" r="6.0"/><circle cx="519.6" cy="635.7" r="6.0"/><circle cx="520.8" cy="635.6" r="6.0"/><circle cx="521.9" cy="635.6" r="6.0"/><circle cx="523.0" cy="635.5" r="6.0"/><circle cx="524.0" cy="635.4" r="6.0"/><circle cx="525.0" cy="635.3" r="6.0"/><circle cx="526.0" cy="635.2" r="6.0"/><circle cx="526.9" cy="635.1" r="6.0"/><circle cx="527.8" cy="635.1" r="6.0"/><circle cx="529.2" cy="634.9" r="6.0"/><circle cx="530.4" cy="634.8" r="6.0"/><circle cx="531.7" cy="634.6" r="6.0"/><circle cx="532.9" cy="634.4" r="6.0"/><circle cx="534.0" cy="634.3" r="6.0"/><circle cx="535.1" cy="634.1" r="6.0"/><circle cx="536.2" cy="633.9" r="6.0"/><circle cx="537.2" cy="633.7" r="6.0"/><circle cx="538.2" cy="633.5" r="6.0"/><circle cx="539.2" cy="633.2" r="6.0"/><circle cx="540.2" cy="632.9" r="6.0"/><circle cx="541.1" cy="632.6" r="6.0"/><circle cx="542.0" cy="632.3" r="6.0"/><circle cx="542.9" cy="632.0" r="6.0"/><circle cx="543.7" cy="631.7" r="6.0"/><circle cx="544.8" cy="631.3" r="6.0"/><circle cx="545.9" cy="630.9" r="6.0"/><circle cx="546.9" cy="630.4" r="6.0"/><circle cx="547.9" cy="629.9" r="6.0"/><circle cx="548.9" cy="629.4" r="6.0"/><circle cx="549.9" cy="628.8" r="6.0"/><circle cx="550.8" cy="628.3" r="6.0"/><circle cx="551.7" cy="627.8" r="6.0"/><circle cx="552.5" cy="627.3" r="6.0"/><circle cx="553.4" cy="626.9" r="6.0"/><circle cx="554.2" cy="626.4" r="6.0"/><circle cx="555.0" cy="625.6" r="6.0"/><circle cx="555.8" cy="624.9" r="6.0"/><circle cx="556.6" cy="624.2" r="6.0"/><circle cx="557.3" cy="623.5" r="6.0"/><circle cx="558.1" cy="622.8" r="6.0"/><circle cx="558.8" cy="622.1" r="6.0"/><circle cx="559.5" cy="621.4" r="6.0"/><circle cx="560.2" cy="620.8" r="6.0"/><circle cx="560.9" cy="620.1" r="6.0"/><circle cx="561.5" cy="619.5" r="6.0"/><circle cx="562.3" cy="618.8" r="6.0"/><circle cx="563.1" cy="618.0" r="6.0"/><circle cx="563.9" cy="617.3" r="6.0"/><circle cx="564.6" cy="616.5" r="6.0"/><circle cx="565.4" cy="615.8" r="6.0"/><circle cx="566.1" cy="615.1" r="6.0"/><circle cx="566.8" cy="614.4" r="6.0"/><circle cx="567.5" cy="613.6" r="6.0"/><circle cx="568.2" cy="612.9" r="6.0"/><circle cx="568.8" cy="612.2" r="6.0"/><circle cx="569.5" cy="611.5" r="6.0"/><circle cx="570.1" cy="610.8" r="6.0"/><circle cx="570.7" cy="610.1" r="6.0"/><circle cx="571.4" cy="609.5" r="6.0"/><circle cx="572.0" cy="608.8" r="6.0"/><circle cx="572.6" cy="608.1" r="6.0"/><circle cx="573.3" cy="607.3" r="6.0"/><circle cx="573.9" cy="606.5" r="6.0"/><circle cx="574.6" cy="605.7" r="6.0"/><circle cx="575.3" cy="604.9" r="6.0"/><circle cx="575.9" cy="604.0" r="6.0"/><circle cx="576.5" cy="603.2" r="6.0"/><circle cx="577.2" cy="602.4" r="6.0"/><circle cx="577.8" cy="601.6" r="6.0"/><circle cx="578.4" cy="600.8" r="6.0"/><circle cx="578.9" cy="600.0" r="6.0"/><circle cx="579.5" cy="599.2" r="6.0"/><circle cx="580.1" cy="598.4" r="6.0"/><circle cx="580.6" cy="597.6" r="6.0"/><circle cx="581.2" cy="596.8" r="6.0"/><circle cx="581.7" cy="596.1" r="6.0"/><circle cx="582.3" cy="595.3" r="6.0"/><circle cx="582.3" cy="586.7" r="6.0"/><circle cx="582.5" cy="586.5" r="6.0"/>
</g>
<g fill="#9414d2">
<circle cx="399.4" cy="636.4" r="6.0"/><circle cx="422.3" cy="636.4" r="6.0"/><circle cx="435.7" cy="636.4" r="6.0"/><circle cx="445.3" cy="636.4" r="6.0"/><circle cx="452.7" cy="636.4" r="6.0"/><circle cx="458.7" cy="636.4" r="6.0"/><circle cx="463.8" cy="636.4" r="6.0"/><circle cx="468.2" cy="636.4" r="6.0"/><circle cx="472.1" cy="636.4" r="6.0"/><circle cx="475.6" cy="636.4" r="6.0"/><circle cx="478.7" cy="636.4" r="6.0"/><circle cx="481.6" cy="636.6" r="6.0"/><circle cx="484.3" cy="637.0" r="6.0"/><circle cx="486.7" cy="637.3" r="6.0"/><circle cx="489.0" cy="637.6" r="6.0"/><circle cx="491.1" cy="637.9" r="6.0"/><circle cx="493.2" cy="638.2" r="6.0"/><circle cx="495.0" cy="638.5" r="6.0"/><circle cx="496.8" cy="638.7" r="6.0"/><circle cx="498.5" cy="638.9" r="6.0"/><circle cx="500.1" cy="639.1" r="6.0"/><circle cx="501.7" cy="639.2" r="6.0"/><circle cx="503.2" cy="639.4" r="6.0"/><circle cx="504.6" cy="639.5" r="6.0"/><circle cx="505.9" cy="639.6" r="6.0"/><circle cx="507.2" cy="639.7" r="6.0"/><circle cx="508.5" cy="639.8" r="6.0"/><circle cx="509.7" cy="639.8" r="6.0"/><circle cx="510.8" cy="639.9" r="6.0"/><circle cx="511.9" cy="640.0" r="6.0"/><circle cx="513.0" cy="640.0" r="6.0"/><circle cx="514.1" cy="640.0" r="6.0"/><circle cx="515.1" cy="640.1" r="6.0"/><circle cx="516.1" cy="640.1" r="6.0"/><circle cx="517.0" cy="640.1" r="6.0"/><circle cx="518.0" cy="640.2" r="6.0"/><circle cx="518.9" cy="640.2" r="6.0"/><circle cx="520.6" cy="640.1" r="6.0"/><circle cx="522.3" cy="640.0" r="6.0"/><circle cx="523.9" cy="639.8" r="6.0"/><circle cx="525.4" cy="639.6" r="6.0"/><circle cx="526.8" cy="639.4" r="6.0"/><circle cx="528.2" cy="639.2" r="6.0"/><circle cx="529.5" cy="639.0" r="6.0"/><circle cx="530.8" cy="638.8" r="6.0"/><circle cx="532.0" cy="638.6" r="6.0"/><circle cx="533.2" cy="638.4" r="6.0"/><circle cx="534.3" cy="638.1" r="6.0"/><circle cx="535.4" cy="637.9" r="6.0"/><circle cx="536.5" cy="637.6" r="6.0"/><circle cx="537.5" cy="637.4" r="6.0"/><circle cx="538.5" cy="637.1" r="6.0"/><circle cx="539.5" cy="636.7" r="6.0"/><circle cx="540.5" cy="636.4" r="6.0"/><circle cx="541.4" cy="636.0" r="6.0"/><circle cx="542.3" cy="635.6" r="6.0"/><circle cx="543.1" cy="635.2" r="6.0"/><circle cx="544.0" cy="634.8" r="6.0"/><circle cx="544.8" cy="634.3" r="6.0"/><circle cx="545.6" cy="633.9" r="6.0"/><circle cx="546.4" cy="633.4" r="6.0"/><circle cx="547.2" cy="632.9" r="6.0"/><circle cx="547.9" cy="632.4" r="6.0"/><circle cx="548.7" cy="631.9" r="6.0"/><circle cx="549.7" cy="631.1" r="6.0"/><circle cx="550.8" cy="630.2" r="6.0"/><circle cx="551.8" cy="629.4" r="6.0"/><circle cx="552.8" cy="628.6" r="6.0"/><circle cx="553.7" cy="627.7" r="6.0"/><circle cx="554.6" cy="626.9" r="6.0"/><circle cx="555.5" cy="626.1" r="6.0"/><circle cx="556.4" cy="625.3" r="6.0"/><circle cx="557.3" cy="624.5" r="6.0"/><circle cx="558.1" cy="623.7" r="6.0"/><circle cx="558.9" cy="622.9" r="6.0"/><circle cx="559.7" cy="622.2" r="6.0"/><circle cx="560.5" cy="621.4" r="6.0"/><circle cx="561.2" cy="620.7" r="6.0"/><circle cx="562.0" cy="620.0" r="6.0"/><circle cx="562.7" cy="619.4" r="6.0"/><circle cx="563.4" cy="618.7" r="6.0"/><circle cx="564.1" cy="618.0" r="6.0"/><circle cx="564.8" cy="617.4" r="6.0"/><circle cx="565.4" cy="616.7" r="6.0"/><circle cx="566.1" cy="616.1" r="6.0"/><circle cx="566.7" cy="615.5" r="6.0"/><circle cx="567.5" cy="614.6" r="6.0"/><circle cx="568.4" cy="613.8" r="6.0"/><circle cx="569.2" cy="612.9" r="6.0"/><circle cx="569.9" cy="612.1" r="6.0"/><circle cx="570.7" cy="611.3" r="6.0"/><circle cx="571.4" cy="610.5" r="6.0"/><circle cx="572.1" cy="609.7" r="6.0"/><circle cx="572.9" cy="608.9" r="6.0"/><circle cx="573.5" cy="608.1" r="6.0"/><circle cx="574.2" cy="607.3" r="6.0"/><circle cx="574.9" cy="606.5" r="6.0"/><circle cx="575.5" cy="605.7" r="6.0"/><circle cx="576.2" cy="604.9" r="6.0"/><circle cx="576.8" cy="604.1" r="6.0"/><circle cx="577.4" cy="603.3" r="6.0"/><circle cx="578.0" cy="602.6" r="6.0"/><circle cx="578.6" cy="601.8" r="6.0"/><circle cx="579.2" cy="601.0" r="6.0"/><circle cx="579.8" cy="600.2" r="6.0"/><circle cx="580.3" cy="599.4" r="6.0"/><circle cx="580.9" cy="598.6" r="6.0"/><circle cx="581.4" cy="597.9" r="6.0"/><circle cx="582.0" cy="597.1" r="6.0"/><circle cx="582.5" cy="596.4" r="6.0"/><circle cx="583.0" cy="595.6" r="6.0"/><circle cx="583.7" cy="594.7" r="6.0"/><circle cx="584.3" cy="593.8" r="6.0"/><circle cx="584.9" cy="593.0" r="6.0"/><circle cx="585.5" cy="592.1" r="6.0"/><circle cx="586.1" cy="591.3" r="6.0"/><circle cx="586.7" cy="590.4" r="6.0"/><circle cx="587.3" cy="589.6" r="6.0"/><circle cx="587.8" cy="588.9" r="6.0"/><circle cx="588.4" cy="588.1" r="6.0"/><circle cx="588.9" cy="587.3" r="6.0"/><circle cx="589.4" cy="586.6" r="6.0"/><circle cx="590.0" cy="585.8" r="6.0"/><circle cx="590.6" cy="584.9" r="6.0"/><circle cx="591.2" cy="584.1" r="6.0"/><circle cx="591.8" cy="583.2" r="6.0"/><circle cx="592.4" cy="582.4" r="6.0"/><circle cx="593.0" cy="581.5" r="6.0"/><circle cx="593.5" cy="580.7" r="6.0"/><circle cx="594.1" cy="579.9" r="6.0"/><circle cx="594.6" cy="579.1" r="6.0"/><circle cx="595.2" cy="578.3" r="6.0"/><circle cx="595.7" cy="568.7" r="6.0"/><circle cx="595.9" cy="568.4" r="6.0"/>
</g>
<g fill="#f00a8c">
<circle cx="423.7" cy="645.7" r="6.0"/><circle cx="446.6" cy="645.7" r="6.0"/><circle cx="460.1" cy="645.7" r="6.0"/><circle cx="469.6" cy="645.7" r="6.0"/><circle cx="477.0" cy="645.7" r="6.0"/><circle cx="483.0" cy="645.7" r="6.0"/><circle cx="488.1" cy="645.7" r="6.0"/><circle cx="492.5" cy="645.7" r="6.0"/><circle cx="496.4" cy="645.7" r="6.0"/><circle cx="499.9" cy="645.6" r="6.0"/><circle cx="503.1" cy="645.4" r="6.0"/><circle cx="505.9" cy="645.2" r="6.0"/><circle cx="508.6" cy="645.0" r="6.0"/><circle cx="511.0" cy="644.7" r="6.0"/><circle cx="513.3" cy="644.4" r="6.0"/><circle cx="515.5" cy="644.2" r="6.0"/><circle cx="517.5" cy="643.9" r="6.0"/><circle cx="519.4" cy="643.7" r="6.0"/><circle cx="521.1" cy="643.4" r="6.0"/><circle cx="522.8" cy="643.2" r="6.0"/><circle cx="524.5" cy="642.9" r="6.0"/><circle cx="526.0" cy="642.7" r="6.0"/><circle cx="527.5" cy="642.4" r="6.0"/><circle cx="528.9" cy="642.2" r="6.0"/><circle cx="530.2" cy="641.9" r="6.0"/><circle cx="531.5" cy="641.6" r="6.0"/><circle cx="532.8" cy="641.3" r="6.0"/><circle cx="534.0" cy="641.0" r="6.0"/><circle cx="535.1" cy="640.7" r="6.0"/><circle cx="536.3" cy="640.4" r="6.0"/><circle cx="537.3" cy="640.0" r="6.0"/><circle cx="538.4" cy="639.6" r="6.0"/><circle cx="539.4" cy="639.2" r="6.0"/><circle cx="540.4" cy="638.8" r="6.0"/><circle cx="541.4" cy="638.3" r="6.0"/><circle cx="542.3" cy="637.8" r="6.0"/><circle cx="543.2" cy="637.2" r="6.0"/><circle cx="544.1" cy="636.7" r="6.0"/><circle cx="544.9" cy="636.1" r="6.0"/><circle cx="545.8" cy="635.5" r="6.0"/><circle cx="546.6" cy="634.9" r="6.0"/><circle cx="547.4" cy="634.2" r="6.0"/><circle cx="548.2" cy="633.6" r="6.0"/><circle cx="548.9" cy="632.9" r="6.0"/><circle cx="549.7" cy="632.2" r="6.0"/><circle cx="550.4" cy="631.5" r="6.0"/><circle cx="551.1" cy="630.7" r="6.0"/><circle cx="551.8" cy="630.0" r="6.0"/><circle cx="552.5" cy="629.2" r="6.0"/><circle cx="553.2" cy="628.5" r="6.0"/><circle cx="553.8" cy="627.7" r="6.0"/><circle cx="554.5" cy="627.1" r="6.0"/><circle cx="555.7" cy="625.9" r="6.0"/><circle cx="556.9" cy="624.8" r="6.0"/><circle cx="558.1" cy="623.7" r="6.0"/><circle cx="559.2" cy="622.6" r="6.0"/><circle cx="560.3" cy="621.6" r="6.0"/><circle cx="561.3" cy="620.6" r="6.0"/><circle cx="562.4" cy="619.7" r="6.0"/><circle cx="563.3" cy="618.7" r="6.0"/><circle cx="564.3" cy="617.8" r="6.0"/><circle cx="565.2" cy="616.9" r="6.0"/><circle cx="566.1" cy="616.0" r="6.0"/><circle cx="567.0" cy="615.1" r="6.0"/><circle cx="567.9" cy="614.3" r="6.0"/><circle cx="568.7" cy="613.4" r="6.0"/><circle cx="569.5" cy="612.5" r="6.0"/><circle cx="570.3" cy="611.7" r="6.0"/><circle cx="571.1" cy="610.8" r="6.0"/><circle cx="571.9" cy="610.0" r="6.0"/><circle cx="572.6" cy="609.2" r="6.0"/><circle cx="573.3" cy="608.3" r="6.0"/><circle cx="574.1" cy="607.5" r="6.0"/><circle cx="574.8" cy="606.7" r="6.0"/><circle cx="575.4" cy="605.9" r="6.0"/><circle cx="576.1" cy="605.0" r="6.0"/><circle cx="576.8" cy="604.2" r="6.0"/><circle cx="577.4" cy="603.4" r="6.0"/><circle cx="578.0" cy="602.6" r="6.0"/><circle cx="578.7" cy="601.7" r="6.0"/><circle cx="579.3" cy="600.9" r="6.0"/><circle cx="579.9" cy="600.1" r="6.0"/><circle cx="580.4" cy="599.3" r="6.0"/><circle cx="581.0" cy="598.5" r="6.0"/><circle cx="581.6" cy="597.7" r="6.0"/><circle cx="582.1" cy="596.9" r="6.0"/><circle cx="582.7" cy="596.1" r="6.0"/><circle cx="583.2" cy="595.4" r="6.0"/><circle cx="583.8" cy="594.6" r="6.0"/><circle cx="584.3" cy="593.9" r="6.0"/><circle cx="585.0" cy="592.8" r="6.0"/><circle cx="585.8" cy="591.7" r="6.0"/><circle cx="586.5" cy="590.7" r="6.0"/><circle cx="587.2" cy="589.7" r="6.0"/><circle cx="587.9" cy="588.7" r="6.0"/><circle cx="588.6" cy="587.7" r="6.0"/><circle cx="589.3" cy="586.8" r="6.0"/><circle cx="590.0" cy="585.8" r="6.0"/><circle cx="590.6" cy="584.9" r="6.0"/><circle cx="591.2" cy="584.0" r="6.0"/><circle cx="591.9" cy="583.1" r="6.0"/><circle cx="592.5" cy="582.2" r="6.0"/><circle cx="593.1" cy="581.4" r="6.0"/><circle cx="593.7" cy="580.5" r="6.0"/><circle cx="594.2" cy="579.7" r="6.0"/><circle cx="594.8" cy="578.9" r="6.0"/><circle cx="595.4" cy="578.1" r="6.0"/><circle cx="595.9" cy="577.3" r="6.0"/><circle cx="596.5" cy="576.5" r="6.0"/><circle cx="597.0" cy="575.7" r="6.0"/><circle cx="597.5" cy="574.9" r="6.0"/><circle cx="598.0" cy="574.2" r="6.0"/><circle cx="598.5" cy="573.4" r="6.0"/><circle cx="599.2" cy="572.4" r="6.0"/><circle cx="599.9" cy="571.5" r="6.0"/><circle cx="600.5" cy="570.5" r="6.0"/><circle cx="601.1" cy="569.5" r="6.0"/><circle cx="601.7" cy="568.6" r="6.0"/><circle cx="602.3" cy="567.7" r="6.0"/><circle cx="602.9" cy="566.7" r="6.0"/><circle cx="603.5" cy="565.8" r="6.0"/><circle cx="604.1" cy="564.9" r="6.0"/><circle cx="604.7" cy="564.0" r="6.0"/><circle cx="605.2" cy="563.1" r="6.0"/><circle cx="605.8" cy="562.3" r="6.0"/><circle cx="606.3" cy="561.4" r="6.0"/><circle cx="606.8" cy="560.6" r="6.0"/><circle cx="607.3" cy="559.8" r="6.0"/><circle cx="607.9" cy="559.0" r="6.0"/><circle cx="608.4" cy="558.3" r="6.0"/><circle cx="609.0" cy="557.3" r="6.0"/><circle cx="609.6" cy="556.4" r="6.0"/><circle cx="610.2" cy="555.5" r="6.0"/><circle cx="610.8" cy="554.7" r="6.0"/><circle cx="611.3" cy="553.9" r="6.0"/><circle cx="611.9" cy="553.1" r="6.0"/><circle cx="612.5" cy="552.4" r="6.0"/><circle cx="613.0" cy="551.7" r="6.0"/><circle cx="613.7" cy="550.8" r="6.0"/><circle cx="614.3" cy="550.0" r="6.0"/><circle cx="614.9" cy="549.2" r="6.0"/><circle cx="615.5" cy="548.5" r="6.0"/><circle cx="616.1" cy="547.7" r="6.0"/><circle cx="616.7" cy="547.0" r="6.0"/><circle cx="617.3" cy="546.3" r="6.0"/><circle cx="617.9" cy="545.5" r="6.0"/><circle cx="618.6" cy="544.8" r="6.0"/><circle cx="619.2" cy="544.0" r="6.0"/><circle cx="619.8" cy="543.3" r="6.0"/><circle cx="620.1" cy="536.0" r="6.0"/><circle cx="620.3" cy="535.8" r="6.0"/>
</g>
<g fill="#ff0000">
<circle cx="447.5" cy="642.4" r="6.0"/><circle cx="470.4" cy="642.5" r="6.0"/><circle cx="483.8" cy="644.7" r="6.0"/><circle cx="493.3" cy="646.0" r="6.0"/><circle cx="500.7" cy="646.6" r="6.0"/><circle cx="506.8" cy="646.5" r="6.0"/><circle cx="511.9" cy="646.1" r="6.0"/><circle cx="516.3" cy="645.5" r="6.0"/><circle cx="520.2" cy="644.8" r="6.0"/><circle cx="523.7" cy="644.1" r="6.0"/><circle cx="526.8" cy="643.4" r="6.0"/><circle cx="529.7" cy="642.6" r="6.0"/><circle cx="532.4" cy="641.7" r="6.0"/><circle cx="534.8" cy="640.8" r="6.0"/><circle cx="537.1" cy="639.9" r="6.0"/><circle cx="539.2" cy="638.7" r="6.0"/><circle cx="541.2" cy="637.5" r="6.0"/><circle cx="543.1" cy="636.2" r="6.0"/><circle cx="544.9" cy="634.9" r="6.0"/><circle cx="546.6" cy="633.4" r="6.0"/><circle cx="548.2" cy="632.0" r="6.0"/><circle cx="549.8" cy="630.5" r="6.0"/><circle cx="551.2" cy="629.0" r="6.0"/><circle cx="552.6" cy="627.5" r="6.0"/><circle cx="554.0" cy="626.1" r="6.0"/><circle cx="555.3" cy="624.9" r="6.0"/><circle cx="556.5" cy="623.7" r="6.0"/><circle cx="557.7" cy="622.6" r="6.0"/><circle cx="558.9" cy="621.5" r="6.0"/><circle cx="560.0" cy="620.4" r="6.0"/><circle cx="561.1" cy="619.4" r="6.0"/><circle cx="562.2" cy="618.4" r="6.0"/><circle cx="563.2" cy="617.5" r="6.0"/><circle cx="564.2" cy="616.5" r="6.0"/><circle cx="565.1" cy="615.5" r="6.0"/><circle cx="566.1" cy="614.6" r="6.0"/><circle cx="567.0" cy="613.7" r="6.0"/><circle cx="567.9" cy="612.7" r="6.0"/><circle cx="568.7" cy="611.8" r="6.0"/><circle cx="569.5" cy="610.9" r="6.0"/><circle cx="570.4" cy="610.0" r="6.0"/><circle cx="571.2" cy="609.1" r="6.0"/><circle cx="571.9" cy="608.2" r="6.0"/><circle cx="572.7" cy="607.4" r="6.0"/><circle cx="573.4" cy="606.5" r="6.0"/><circle cx="574.2" cy="605.6" r="6.0"/><circle cx="574.9" cy="604.7" r="6.0"/><circle cx="575.6" cy="603.8" r="6.0"/><circle cx="576.3" cy="602.9" r="6.0"/><circle cx="576.9" cy="602.0" r="6.0"/><circle cx="577.6" cy="601.1" r="6.0"/><circle cx="578.2" cy="600.3" r="6.0"/><circle cx="578.9" cy="599.4" r="6.0"/><circle cx="579.5" cy="598.5" r="6.0"/><circle cx="580.1" cy="597.7" r="6.0"/><circle cx="580.7" cy="596.8" r="6.0"/><circle cx="581.3" cy="596.0" r="6.0"/><circle cx="581.8" cy="595.2" r="6.0"/><circle cx="582.4" cy="594.4" r="6.0"/><circle cx="583.0" cy="593.6" r="6.0"/><circle cx="583.5" cy="592.8" r="6.0"/><circle cx="584.1" cy="592.0" r="6.0"/><circle cx="584.6" cy="591.3" r="6.0"/><circle cx="585.1" cy="590.6" r="6.0"/><circle cx="586.1" cy="589.1" r="6.0"/><circle cx="587.1" cy="587.7" r="6.0"/><circle cx="588.1" cy="586.4" r="6.0"/><circle cx="589.0" cy="585.1" r="6.0"/><circle cx="589.9" cy="583.8" r="6.0"/><circle cx="590.8" cy="582.5" r="6.0"/><circle cx="591.6" cy="581.3" r="6.0"/><circle cx="592.5" cy="580.1" r="6.0"/><circle cx="593.3" cy="578.9" r="6.0"/><circle cx="594.1" cy="577.7" r="6.0"/><circle cx="594.9" cy="576.6" r="6.0"/><circle cx="595.6" cy="575.5" r="6.0"/><circle cx="596.4" cy="574.4" r="6.0"/><circle cx="597.1" cy="573.3" r="6.0"/><circle cx="597.8" cy="572.3" r="6.0"/><circle cx="598.5" cy="571.2" r="6.0"/><circle cx="599.2" cy="570.2" r="6.0"/><circle cx="599.9" cy="569.2" r="6.0"/><circle cx="600.5" cy="568.2" r="6.0"/><circle cx="601.2" cy="567.2" r="6.0"/><circle cx="601.8" cy="566.2" r="6.0"/><circle cx="602.4" cy="565.2" r="6.0"/><circle cx="603.0" cy="564.2" r="6.0"/><circle cx="603.6" cy="563.3" r="6.0"/><circle cx="604.2" cy="562.4" r="6.0"/><circle cx="604.8" cy="561.5" r="6.0"/><circle cx="605.3" cy="560.6" r="6.0"/><circle cx="605.9" cy="559.7" r="6.0"/><circle cx="606.5" cy="558.9" r="6.0"/><circle cx="607.0" cy="558.0" r="6.0"/><circle cx="607.5" cy="557.3" r="6.0"/><circle cx="608.0" cy="556.5" r="6.0"/><circle cx="608.6" cy="555.7" r="6.0"/><circle cx="609.3" cy="554.6" r="6.0"/><circle cx="610.0" cy="553.6" r="6.0"/><circle cx="610.8" cy="552.6" r="6.0"/><circle cx="611.5" cy="551.7" r="6.0"/><circle cx="612.2" cy="550.8" r="6.0"/><circle cx="612.8" cy="549.9" r="6.0"/><circle cx="613.5" cy="549.1" r="6.0"/><circle cx="614.2" cy="548.3" r="6.0"/><circle cx="614.8" cy="547.5" r="6.0"/><circle cx="615.4" cy="546.7" r="6.0"/><circle cx="616.0" cy="546.0" r="6.0"/><circle cx="616.6" cy="545.3" r="6.0"/><circle cx="617.2" cy="544.6" r="6.0"/><circle cx="618.0" cy="543.7" r="6.0"/><circle cx="618.8" cy="542.8" r="6.0"/><circle cx="619.5" cy="541.9" r="6.0"/><circle cx="620.2" cy="541.1" r="6.0"/><circle cx="620.9" cy="540.3" r="6.0"/><circle cx="621.6" cy="539.5" r="6.0"/><circle cx="622.3" cy="538.7" r="6.0"/><circle cx="623.0" cy="537.9" r="6.0"/><circle cx="623.6" cy="537.2" r="6.0"/><circle cx="624.3" cy="536.4" r="6.0"/><circle cx="624.9" cy="535.7" r="6.0"/><circle cx="625.5" cy="535.0" r="6.0"/><circle cx="626.1" cy="534.3" r="6.0"/><circle cx="626.7" cy="533.6" r="6.0"/><circle cx="627.4" cy="532.8" r="6.0"/><circle cx="628.1" cy="532.0" r="6.0"/><circle cx="628.8" cy="531.2" r="6.0"/><circle cx="629.5" cy="530.4" r="6.0"/><circle cx="630.2" cy="529.7" r="6.0"/><circle cx="630.8" cy="528.9" r="6.0"/><circle cx="631.5" cy="528.2" r="6.0"/><circle cx="632.1" cy="527.5" r="6.0"/><circle cx="632.7" cy="526.8" r="6.0"/><circle cx="633.3" cy="526.2" r="6.0"/><circle cx="634.1" cy="525.4" r="6.0"/><circle cx="634.8" cy="524.6" r="6.0"/><circle cx="635.4" cy="523.8" r="6.0"/><circle cx="636.1" cy="523.0" r="6.0"/><circle cx="636.8" cy="522.2" r="6.0"/><circle cx="637.4" cy="521.4" r="6.0"/><circle cx="638.1" cy="520.7" r="6.0"/><circle cx="638.7" cy="519.9" r="6.0"/><circle cx="639.3" cy="519.1" r="6.0"/><circle cx="639.9" cy="518.3" r="6.0"/><circle cx="640.5" cy="517.5" r="6.0"/><circle cx="641.0" cy="516.8" r="6.0"/><circle cx="641.6" cy="516.0" r="6.0"/><circle cx="642.2" cy="515.2" r="6.0"/><circle cx="642.7" cy="514.5" r="6.0"/><circle cx="643.3" cy="513.7" r="6.0"/><circle cx="643.8" cy="513.0" r="6.0"/><circle cx="643.9" cy="502.2" r="6.0"/><circle cx="644.1" cy="501.8" r="6.0"/>
</g>
<g fill="#000000">
<circle cx="461.7" cy="641.9" r="6.4"/><circle cx="484.6" cy="641.9" r="6.4"/><circle cx="498.0" cy="641.9" r="6.4"/><circle cx="507.5" cy="641.6" r="6.4"/><circle cx="514.9" cy="641.0" r="6.4"/><circle cx="521.0" cy="640.4" r="6.4"/><circle cx="526.1" cy="639.9" r="6.4"/><circle cx="530.5" cy="639.3" r="6.4"/><circle cx="534.4" cy="638.7" r="6.4"/><circle cx="537.9" cy="638.0" r="6.4"/><circle cx="541.0" cy="637.2" r="6.4"/><circle cx="543.9" cy="636.2" r="6.4"/>
</g>
<g fill="#000000">
<circle cx="546.6" cy="635.0" r="7.4"/><circle cx="549.0" cy="633.7" r="7.4"/><circle cx="551.3" cy="632.2" r="7.4"/><circle cx="553.4" cy="630.5" r="7.4"/><circle cx="555.4" cy="628.9" r="7.4"/><circle cx="557.3" cy="627.2" r="7.4"/><circle cx="559.1" cy="625.6" r="7.4"/><circle cx="560.8" cy="624.0" r="7.4"/><circle cx="562.4" cy="622.4" r="7.4"/><circle cx="564.0" cy="621.0" r="7.4"/><circle cx="565.4" cy="619.6" r="7.4"/><circle cx="566.8" cy="618.3" r="7.4"/><circle cx="568.2" cy="617.0" r="7.4"/><circle cx="569.5" cy="615.7" r="7.4"/><circle cx="570.7" cy="614.4" r="7.4"/><circle cx="571.9" cy="613.2" r="7.4"/><circle cx="573.1" cy="611.9" r="7.4"/><circle cx="574.2" cy="610.7" r="7.4"/><circle cx="575.3" cy="609.5" r="7.4"/><circle cx="576.4" cy="608.3" r="7.4"/><circle cx="577.4" cy="607.1" r="7.4"/><circle cx="578.4" cy="606.0" r="7.4"/><circle cx="579.3" cy="604.8" r="7.4"/><circle cx="580.3" cy="603.6" r="7.4"/><circle cx="581.2" cy="602.4" r="7.4"/><circle cx="582.0" cy="601.2" r="7.4"/><circle cx="582.9" cy="600.0" r="7.4"/><circle cx="583.7" cy="598.9" r="7.4"/><circle cx="584.6" cy="597.7" r="7.4"/><circle cx="585.4" cy="596.6" r="7.4"/><circle cx="586.1" cy="595.5" r="7.4"/><circle cx="586.9" cy="594.4" r="7.4"/><circle cx="587.6" cy="593.3" r="7.4"/><circle cx="588.4" cy="592.3" r="7.4"/><circle cx="589.1" cy="591.3" r="7.4"/><circle cx="589.8" cy="590.3" r="7.4"/><circle cx="590.5" cy="589.4" r="7.4"/><circle cx="591.1" cy="588.4" r="7.4"/><circle cx="591.8" cy="587.5" r="7.4"/><circle cx="592.4" cy="586.6" r="7.4"/><circle cx="593.1" cy="585.7" r="7.4"/><circle cx="593.7" cy="584.8" r="7.4"/><circle cx="594.3" cy="583.9" r="7.4"/><circle cx="594.9" cy="583.1" r="7.4"/><circle cx="595.5" cy="582.3" r="7.4"/><circle cx="596.0" cy="581.4" r="7.4"/><circle cx="596.6" cy="580.6" r="7.4"/><circle cx="597.2" cy="579.8" r="7.4"/><circle cx="597.7" cy="579.0" r="7.4"/><circle cx="598.2" cy="578.2" r="7.4"/><circle cx="598.8" cy="577.5" r="7.4"/><circle cx="599.3" cy="576.7" r="7.4"/><circle cx="599.8" cy="576.0" r="7.4"/><circle cx="600.8" cy="574.5" r="7.4"/><circle cx="601.8" cy="573.1" r="7.4"/><circle cx="602.7" cy="571.7" r="7.4"/><circle cx="603.7" cy="570.3" r="7.4"/><circle cx="604.5" cy="568.9" r="7.4"/><circle cx="605.4" cy="567.5" r="7.4"/><circle cx="606.3" cy="566.2" r="7.4"/><circle cx="607.1" cy="564.9" r="7.4"/><circle cx="607.9" cy="563.6" r="7.4"/><circle cx="608.7" cy="562.4" r="7.4"/><circle cx="609.5" cy="561.2" r="7.4"/><circle cx="610.2" cy="560.0" r="7.4"/><circle cx="610.9" cy="558.9" r="7.4"/><circle cx="611.7" cy="557.8" r="7.4"/><circle cx="612.4" cy="556.7" r="7.4"/><circle cx="613.1" cy="555.7" r="7.4"/><circle cx="613.7" cy="554.7" r="7.4"/><circle cx="614.4" cy="553.8" r="7.4"/><circle cx="615.0" cy="552.9" r="7.4"/><circle cx="615.7" cy="552.1" r="7.4"/><circle cx="616.3" cy="551.3" r="7.4"/><circle cx="616.9" cy="550.5" r="7.4"/><circle cx="617.5" cy="549.7" r="7.4"/><circle cx="618.1" cy="549.0" r="7.4"/><circle cx="618.7" cy="548.2" r="7.4"/><circle cx="619.3" cy="547.5" r="7.4"/><circle cx="620.1" cy="546.5" r="7.4"/><circle cx="620.9" cy="545.6" r="7.4"/><circle cx="621.7" cy="544.6" r="7.4"/><circle cx="622.5" cy="543.7" r="7.4"/><circle cx="623.3" cy="542.8" r="7.4"/><circle cx="624.0" cy="542.0" r="7.4"/><circle cx="624.7" cy="541.1" r="7.4"/><circle cx="625.4" cy="540.3" r="7.4"/><circle cx="626.1" cy="539.5" r="7.4"/><circle cx="626.8" cy="538.7" r="7.4"/><circle cx="627.5" cy="537.9" r="7.4"/><circle cx="628.1" cy="537.2" r="7.4"/><circle cx="628.8" cy="536.4" r="7.4"/><circle cx="629.4" cy="535.7" r="7.4"/><circle cx="630.0" cy="535.0" r="7.4"/><circle cx="630.6" cy="534.2" r="7.4"/><circle cx="631.2" cy="533.6" r="7.4"/><circle cx="632.0" cy="532.7" r="7.4"/><circle cx="632.8" cy="531.8" r="7.4"/><circle cx="633.5" cy="531.0" r="7.4"/><circle cx="634.2" cy="530.2" r="7.4"/><circle cx="635.0" cy="529.4" r="7.4"/><circle cx="635.7" cy="528.6" r="7.4"/><circle cx="636.3" cy="527.8" r="7.4"/><circle cx="637.0" cy="527.1" r="7.4"/><circle cx="637.7" cy="526.4" r="7.4"/><circle cx="638.3" cy="525.7" r="7.4"/><circle cx="638.9" cy="524.9" r="7.4"/><circle cx="639.6" cy="524.2" r="7.4"/><circle cx="640.2" cy="523.5" r="7.4"/><circle cx="640.8" cy="522.8" r="7.4"/><circle cx="641.3" cy="522.1" r="7.4"/><circle cx="641.9" cy="521.4" r="7.4"/><circle cx="642.6" cy="520.6" r="7.4"/><circle cx="643.3" cy="519.7" r="7.4"/><circle cx="644.0" cy="518.8" r="7.4"/><circle cx="644.7" cy="518.0" r="7.4"/><circle cx="645.3" cy="517.1" r="7.4"/><circle cx="645.9" cy="516.2" r="7.4"/><circle cx="646.6" cy="515.4" r="7.4"/><circle cx="647.2" cy="514.5" r="7.4"/><circle cx="647.8" cy="513.7" r="7.4"/><circle cx="648.4" cy="512.8" r="7.4"/><circle cx="649.0" cy="512.0" r="7.4"/><circle cx="649.5" cy="511.1" r="7.4"/><circle cx="650.1" cy="510.2" r="7.4"/><circle cx="650.6" cy="509.3" r="7.4"/><circle cx="651.2" cy="508.4" r="7.4"/><circle cx="651.7" cy="507.4" r="7.4"/><circle cx="652.2" cy="506.5" r="7.4"/><circle cx="652.8" cy="505.5" r="7.4"/><circle cx="653.3" cy="504.5" r="7.4"/><circle cx="653.7" cy="503.7" r="7.4"/><circle cx="654.1" cy="502.8" r="7.4"/><circle cx="654.5" cy="502.0" r="7.4"/><circle cx="654.9" cy="501.1" r="7.4"/><circle cx="655.2" cy="500.2" r="7.4"/><circle cx="655.6" cy="499.2" r="7.4"/><circle cx="656.0" cy="498.1" r="7.4"/><circle cx="656.4" cy="497.0" r="7.4"/><circle cx="656.6" cy="496.2" r="7.4"/><circle cx="656.9" cy="495.3" r="7.4"/><circle cx="657.2" cy="494.3" r="7.4"/><circle cx="657.5" cy="493.2" r="7.4"/><circle cx="657.7" cy="492.0" r="7.4"/><circle cx="658.0" cy="490.8" r="7.4"/><circle cx="658.2" cy="489.8" r="7.4"/><circle cx="658.3" cy="488.9" r="7.4"/><circle cx="658.5" cy="488.0" r="7.4"/><circle cx="658.7" cy="487.0" r="7.4"/><circle cx="658.9" cy="486.0" r="7.4"/><circle cx="659.0" cy="485.0" r="7.4"/><circle cx="659.2" cy="484.0" r="7.4"/><circle cx="659.9" cy="484.0" r="7.4"/>
</g>
<line x1="344.20" y1="467.60" x2="344.20" y2="663.50" stroke="#000" stroke-width="2.5" stroke-linecap="butt"/>
<line x1="343.00" y1="662.10" x2="672.40" y2="662.10" stroke="#000" stroke-width="2.5" stroke-linecap="butt"/>
<line x1="344.20" y1="647.40" x2="337.50" y2="647.40" stroke="#000" stroke-width="1.2" stroke-linecap="butt"/>
<line x1="344.20" y1="640.00" x2="340.50" y2="640.00" stroke="#000" stroke-width="1.2" stroke-linecap="butt"/>
<line x1="344.20" y1="632.59" x2="340.50" y2="632.59" stroke="#000" stroke-width="1.2" stroke-linecap="butt"/>
<line x1="344.20" y1="625.18" x2="340.50" y2="625.18" stroke="#000" stroke-width="1.2" stroke-linecap="butt"/>
<line x1="344.20" y1="617.78" x2="337.50" y2="617.78" stroke="#000" stroke-width="1.2" stroke-linecap="butt"/>
<line x1="344.20" y1="610.38" x2="340.50" y2="610.38" stroke="#000" stroke-width="1.2" stroke-linecap="butt"/>
<line x1="344.20" y1="602.97" x2="340.50" y2="602.97" stroke="#000" stroke-width="1.2" stroke-linecap="butt"/>
<line x1="344.20" y1="595.56" x2="340.50" y2="595.56" stroke="#000" stroke-width="1.2" stroke-linecap="butt"/>
<line x1="344.20" y1="588.16" x2="337.50" y2="588.16" stroke="#000" stroke-width="1.2" stroke-linecap="butt"/>
<line x1="344.20" y1="580.75" x2="340.50" y2="580.75" stroke="#000" stroke-width="1.2" stroke-linecap="butt"/>
<line x1="344.20" y1="573.35" x2="340.50" y2="573.35" stroke="#000" stroke-width="1.2" stroke-linecap="butt"/>
<line x1="344.20" y1="565.94" x2="340.50" y2="565.94" stroke="#000" stroke-width="1.2" stroke-linecap="butt"/>
<line x1="344.20" y1="558.54" x2="337.50" y2="558.54" stroke="#000" stroke-width="1.2" stroke-linecap="butt"/>
<line x1="344.20" y1="551.13" x2="340.50" y2="551.13" stroke="#000" stroke-width="1.2" stroke-linecap="butt"/>
<line x1="344.20" y1="543.73" x2="340.50" y2="543.73" stroke="#000" stroke-width="1.2" stroke-linecap="butt"/>
<line x1="344.20" y1="536.33" x2="340.50" y2="536.33" stroke="#000" stroke-width="1.2" stroke-linecap="butt"/>
<line x1="344.20" y1="528.92" x2="337.50" y2="528.92" stroke="#000" stroke-width="1.2" stroke-linecap="butt"/>
<line x1="344.20" y1="521.51" x2="340.50" y2="521.51" stroke="#000" stroke-width="1.2" stroke-linecap="butt"/>
<line x1="344.20" y1="514.11" x2="340.50" y2="514.11" stroke="#000" stroke-width="1.2" stroke-linecap="butt"/>
<line x1="344.20" y1="506.70" x2="340.50" y2="506.70" stroke="#000" stroke-width="1.2" stroke-linecap="butt"/>
<line x1="344.20" y1="499.30" x2="337.50" y2="499.30" stroke="#000" stroke-width="1.2" stroke-linecap="butt"/>
<line x1="344.20" y1="491.89" x2="340.50" y2="491.89" stroke="#000" stroke-width="1.2" stroke-linecap="butt"/>
<line x1="344.20" y1="484.49" x2="340.50" y2="484.49" stroke="#000" stroke-width="1.2" stroke-linecap="butt"/>
<line x1="344.20" y1="477.08" x2="340.50" y2="477.08" stroke="#000" stroke-width="1.2" stroke-linecap="butt"/>
<line x1="344.20" y1="469.68" x2="337.50" y2="469.68" stroke="#000" stroke-width="1.2" stroke-linecap="butt"/>
<line x1="344.20" y1="662.10" x2="344.20" y2="668.00" stroke="#000" stroke-width="1.2" stroke-linecap="butt"/>
<line x1="367.14" y1="662.10" x2="367.14" y2="665.50" stroke="#000" stroke-width="1.2" stroke-linecap="butt"/>
<line x1="380.56" y1="662.10" x2="380.56" y2="665.50" stroke="#000" stroke-width="1.2" stroke-linecap="butt"/>
<line x1="390.08" y1="662.10" x2="390.08" y2="665.50" stroke="#000" stroke-width="1.2" stroke-linecap="butt"/>
<line x1="397.46" y1="662.10" x2="397.46" y2="665.50" stroke="#000" stroke-width="1.2" stroke-linecap="butt"/>
<line x1="403.50" y1="662.10" x2="403.50" y2="665.50" stroke="#000" stroke-width="1.2" stroke-linecap="butt"/>
<line x1="408.60" y1="662.10" x2="408.60" y2="665.50" stroke="#000" stroke-width="1.2" stroke-linecap="butt"/>
<line x1="413.02" y1="662.10" x2="413.02" y2="665.50" stroke="#000" stroke-width="1.2" stroke-linecap="butt"/>
<line x1="416.91" y1="662.10" x2="416.91" y2="665.50" stroke="#000" stroke-width="1.2" stroke-linecap="butt"/>
<line x1="420.40" y1="662.10" x2="420.40" y2="668.00" stroke="#000" stroke-width="1.2" stroke-linecap="butt"/>
<line x1="443.34" y1="662.10" x2="443.34" y2="665.50" stroke="#000" stroke-width="1.2" stroke-linecap="butt"/>
<line x1="456.76" y1="662.10" x2="456.76" y2="665.50" stroke="#000" stroke-width="1.2" stroke-linecap="butt"/>
<line x1="466.28" y1="662.10" x2="466.28" y2="665.50" stroke="#000" stroke-width="1.2" stroke-linecap="butt"/>
<line x1="473.66" y1="662.10" x2="473.66" y2="665.50" stroke="#000" stroke-width="1.2" stroke-linecap="butt"/>
<line x1="479.70" y1="662.10" x2="479.70" y2="665.50" stroke="#000" stroke-width="1.2" stroke-linecap="butt"/>
<line x1="484.80" y1="662.10" x2="484.80" y2="665.50" stroke="#000" stroke-width="1.2" stroke-linecap="butt"/>
<line x1="489.22" y1="662.10" x2="489.22" y2="665.50" stroke="#000" stroke-width="1.2" stroke-linecap="butt"/>
<line x1="493.11" y1="662.10" x2="493.11" y2="665.50" stroke="#000" stroke-width="1.2" stroke-linecap="butt"/>
<line x1="496.60" y1="662.10" x2="496.60" y2="668.00" stroke="#000" stroke-width="1.2" stroke-linecap="butt"/>
<line x1="519.54" y1="662.10" x2="519.54" y2="665.50" stroke="#000" stroke-width="1.2" stroke-linecap="butt"/>
<line x1="532.96" y1="662.10" x2="532.96" y2="665.50" stroke="#000" stroke-width="1.2" stroke-linecap="butt"/>
<line x1="542.48" y1="662.10" x2="542.48" y2="665.50" stroke="#000" stroke-width="1.2" stroke-linecap="butt"/>
<line x1="549.86" y1="662.10" x2="549.86" y2="665.50" stroke="#000" stroke-width="1.2" stroke-linecap="butt"/>
<line x1="555.90" y1="662.10" x2="555.90" y2="665.50" stroke="#000" stroke-width="1.2" stroke-linecap="butt"/>
<line x1="561.00" y1="662.10" x2="561.00" y2="665.50" stroke="#000" stroke-width="1.2" stroke-linecap="butt"/>
<line x1="565.42" y1="662.10" x2="565.42" y2="665.50" stroke="#000" stroke-width="1.2" stroke-linecap="butt"/>
<line x1="569.31" y1="662.10" x2="569.31" y2="665.50" stroke="#000" stroke-width="1.2" stroke-linecap="butt"/>
<line x1="572.80" y1="662.10" x2="572.80" y2="668.00" stroke="#000" stroke-width="1.2" stroke-linecap="butt"/>
<line x1="595.74" y1="662.10" x2="595.74" y2="665.50" stroke="#000" stroke-width="1.2" stroke-linecap="butt"/>
<line x1="609.16" y1="662.10" x2="609.16" y2="665.50" stroke="#000" stroke-width="1.2" stroke-linecap="butt"/>
<line x1="618.68" y1="662.10" x2="618.68" y2="665.50" stroke="#000" stroke-width="1.2" stroke-linecap="butt"/>
<line x1="626.06" y1="662.10" x2="626.06" y2="665.50" stroke="#000" stroke-width="1.2" stroke-linecap="butt"/>
<line x1="632.10" y1="662.10" x2="632.10" y2="665.50" stroke="#000" stroke-width="1.2" stroke-linecap="butt"/>
<line x1="637.20" y1="662.10" x2="637.20" y2="665.50" stroke="#000" stroke-width="1.2" stroke-linecap="butt"/>
<line x1="641.62" y1="662.10" x2="641.62" y2="665.50" stroke="#000" stroke-width="1.2" stroke-linecap="butt"/>
<line x1="645.51" y1="662.10" x2="645.51" y2="665.50" stroke="#000" stroke-width="1.2" stroke-linecap="butt"/>
<line x1="649.00" y1="662.10" x2="649.00" y2="668.00" stroke="#000" stroke-width="1.2" stroke-linecap="butt"/>
<line x1="671.94" y1="662.10" x2="671.94" y2="665.50" stroke="#000" stroke-width="1.2" stroke-linecap="butt"/>
<text transform="translate(328.30,476.28) scale(0.81,1)" font-family="Liberation Sans" font-size="18.5" fill="#000" text-anchor="end" font-weight="normal" font-style="normal" >1.2</text>
<text transform="translate(328.30,505.90) scale(0.81,1)" font-family="Liberation Sans" font-size="18.5" fill="#000" text-anchor="end" font-weight="normal" font-style="normal" >1</text>
<text transform="translate(328.30,535.52) scale(0.81,1)" font-family="Liberation Sans" font-size="18.5" fill="#000" text-anchor="end" font-weight="normal" font-style="normal" >0.8</text>
<text transform="translate(328.30,565.14) scale(0.81,1)" font-family="Liberation Sans" font-size="18.5" fill="#000" text-anchor="end" font-weight="normal" font-style="normal" >0.6</text>
<text transform="translate(328.30,594.76) scale(0.81,1)" font-family="Liberation Sans" font-size="18.5" fill="#000" text-anchor="end" font-weight="normal" font-style="normal" >0.4</text>
<text transform="translate(328.30,624.38) scale(0.81,1)" font-family="Liberation Sans" font-size="18.5" fill="#000" text-anchor="end" font-weight="normal" font-style="normal" >0.2</text>
<text transform="translate(328.30,654.00) scale(0.81,1)" font-family="Liberation Sans" font-size="18.5" fill="#000" text-anchor="end" font-weight="normal" font-style="normal" >0</text>
<text transform="translate(345.70,695.00) scale(0.81,1)" font-family="Liberation Sans" font-size="18.5" fill="#000" text-anchor="middle" font-weight="normal" font-style="normal" >0.01</text>
<text transform="translate(421.90,695.00) scale(0.81,1)" font-family="Liberation Sans" font-size="18.5" fill="#000" text-anchor="middle" font-weight="normal" font-style="normal" >0.1</text>
<text transform="translate(498.10,695.00) scale(0.81,1)" font-family="Liberation Sans" font-size="18.5" fill="#000" text-anchor="middle" font-weight="normal" font-style="normal" >1</text>
<text transform="translate(574.30,695.00) scale(0.81,1)" font-family="Liberation Sans" font-size="18.5" fill="#000" text-anchor="middle" font-weight="normal" font-style="normal" >10</text>
<text transform="translate(650.50,695.00) scale(0.81,1)" font-family="Liberation Sans" font-size="18.5" fill="#000" text-anchor="middle" font-weight="normal" font-style="normal" >100</text>
<text transform="translate(289.8,600.5) rotate(-90) scale(0.81,1)" font-family="Liberation Sans" font-size="18.5">&#916;<tspan font-style="italic">g<tspan font-size="12" dy="7">d</tspan></tspan><tspan dy="-7"> (e</tspan><tspan font-size="12" dy="-7">2</tspan><tspan dy="7">/</tspan><tspan font-style="italic">h</tspan>)</text>
<text transform="translate(624.8,638.6) scale(0.81,1)" font-family="Liberation Sans" font-size="18.5" font-style="italic">eV<tspan font-size="12" dy="10">d</tspan><tspan dy="-10">/k</tspan><tspan font-size="12" dy="10">B</tspan><tspan dy="-10">T</tspan></text>
<polyline points="178.4,1264.4 181.1,1264.4 183.8,1264.4 186.5,1264.4 189.2,1264.4 191.9,1264.4 194.6,1264.4 197.4,1264.4 200.1,1264.4 202.8,1264.4 205.5,1264.4 208.2,1264.4 210.9,1264.4 213.7,1264.4 216.4,1264.4 219.1,1264.4 221.8,1264.4 224.5,1264.4 227.2,1264.4 230.0,1264.4 232.7,1264.4 235.4,1264.4 238.1,1264.4 240.8,1264.4 243.5,1264.4 246.3,1264.4 249.0,1264.4 251.7,1264.4 254.4,1264.4 257.1,1264.4 259.8,1264.4 262.5,1264.4 265.3,1264.3 268.0,1264.3 270.7,1264.3 273.4,1264.3 276.1,1264.3 278.8,1264.3 281.6,1264.3 284.3,1264.3 287.0,1264.3 289.7,1264.3 292.4,1264.3 295.1,1264.3 297.9,1264.3 300.6,1264.3 303.3,1264.3 306.0,1264.3 308.7,1264.3 311.4,1264.3 314.2,1264.3 316.9,1264.3 319.6,1264.3 322.3,1264.3 325.0,1264.3 327.7,1264.3 330.4,1264.3 333.2,1264.3 335.9,1264.3 338.6,1264.3 341.3,1264.3 344.0,1264.3 346.7,1264.3 349.5,1264.3 352.2,1264.3 354.9,1264.3 357.6,1264.2 360.3,1264.2 363.0,1264.2 365.8,1264.2 368.5,1264.2 371.2,1264.2 373.9,1264.2 376.6,1264.2 379.3,1264.2 382.0,1264.2 384.8,1264.2 387.5,1264.2 390.2,1264.2 392.9,1264.2 395.6,1264.2 398.3,1264.2 401.1,1264.2 403.8,1264.2 406.5,1264.2 409.2,1264.2 411.9,1264.2 414.6,1264.2 417.4,1264.1 420.1,1264.1 422.8,1264.1 425.5,1264.1 428.2,1264.1 430.9,1264.1 433.7,1264.1 436.4,1264.1 439.1,1264.1 441.8,1264.1 444.5,1264.1 447.2,1264.1 449.9,1264.1 452.7,1264.1 455.4,1264.1 458.1,1264.1 460.8,1264.0 463.5,1264.0 466.2,1264.0 469.0,1264.0 471.7,1264.0 474.4,1264.0 477.1,1264.0 479.8,1264.0 482.5,1264.0 485.3,1264.0 488.0,1263.9 490.7,1263.9 493.4,1263.8 496.1,1263.7 498.8,1263.6 501.5,1263.5 504.3,1263.4 507.0,1263.3 509.7,1263.2 512.4,1263.1 515.1,1263.0 517.8,1262.9 520.6,1262.8 523.3,1262.6 526.0,1262.5 528.7,1262.4 531.4,1262.3 534.1,1262.2 536.9,1262.1 539.6,1261.9 542.3,1261.8 545.0,1261.7 547.7,1261.6 550.4,1261.4 553.2,1261.3 555.9,1261.1 558.6,1261.0 561.3,1260.8 564.0,1260.6 566.7,1260.4 569.4,1260.3 572.2,1260.1 574.9,1259.8 577.6,1259.6 580.3,1259.4 583.0,1259.1 585.7,1258.8 588.5,1258.4 591.2,1258.0 593.9,1257.5 596.6,1257.1 599.3,1256.6 602.0,1256.2 604.8,1255.7 607.5,1255.3 610.2,1254.8 612.9,1254.4 615.6,1253.9 618.3,1253.4 621.0,1252.9 623.8,1252.4 626.5,1251.8 629.2,1251.1 631.9,1250.4 634.6,1249.6 637.3,1248.7 640.1,1247.9 642.8,1247.1 645.5,1246.3 648.2,1245.5 650.9,1244.9 653.6,1244.2 656.4,1243.5 659.1,1242.7 661.8,1241.7 664.5,1240.5 667.2,1239.2 669.9,1237.7 672.7,1236.4 675.4,1235.0 678.1,1233.6 680.8,1232.2 683.5,1230.6 686.2,1229.1 688.9,1227.4 691.7,1225.7 694.4,1223.9 697.1,1222.1 699.8,1220.1 702.5,1218.1 705.2,1215.9 708.0,1213.6 710.7,1211.2 713.4,1208.8 716.1,1206.3 718.8,1203.6" fill="none" stroke="#8ee3ec" stroke-width="2.4" stroke-linejoin="round"/>
<polyline points="204.3,1264.4 207.0,1264.4 209.7,1264.4 212.4,1264.4 215.1,1264.4 217.9,1264.4 220.6,1264.4 223.3,1264.4 226.0,1264.4 228.7,1264.4 231.4,1264.4 234.2,1264.4 236.9,1264.4 239.6,1264.4 242.3,1264.4 245.0,1264.4 247.7,1264.4 250.4,1264.4 253.2,1264.4 255.9,1264.4 258.6,1264.4 261.3,1264.4 264.0,1264.3 266.7,1264.3 269.5,1264.3 272.2,1264.3 274.9,1264.3 277.6,1264.3 280.3,1264.3 283.0,1264.3 285.8,1264.3 288.5,1264.3 291.2,1264.3 293.9,1264.3 296.6,1264.3 299.3,1264.3 302.1,1264.3 304.8,1264.3 307.5,1264.3 310.2,1264.3 312.9,1264.3 315.6,1264.3 318.3,1264.3 321.1,1264.3 323.8,1264.3 326.5,1264.3 329.2,1264.3 331.9,1264.3 334.6,1264.3 337.4,1264.3 340.1,1264.3 342.8,1264.3 345.5,1264.3 348.2,1264.3 350.9,1264.3 353.7,1264.3 356.4,1264.3 359.1,1264.2 361.8,1264.2 364.5,1264.2 367.2,1264.2 370.0,1264.2 372.7,1264.2 375.4,1264.2 378.1,1264.2 380.8,1264.2 383.5,1264.2 386.2,1264.2 389.0,1264.2 391.7,1264.2 394.4,1264.2 397.1,1264.2 399.8,1264.2 402.5,1264.2 405.3,1264.2 408.0,1264.2 410.7,1264.2 413.4,1264.2 416.1,1264.1 418.8,1264.1 421.6,1264.1 424.3,1264.1 427.0,1264.1 429.7,1264.1 432.4,1264.1 435.1,1264.1 437.8,1264.1 440.6,1264.1 443.3,1264.1 446.0,1264.1 448.7,1264.1 451.4,1264.1 454.1,1264.1 456.9,1264.1 459.6,1264.1 462.3,1264.0 465.0,1264.0 467.7,1264.0 470.4,1264.0 473.2,1264.0 475.9,1264.0 478.6,1264.0 481.3,1264.0 484.0,1264.0 486.7,1263.9 489.5,1263.9 492.2,1263.8 494.9,1263.8 497.6,1263.7 500.3,1263.6 503.0,1263.5 505.7,1263.4 508.5,1263.3 511.2,1263.2 513.9,1263.0 516.6,1262.9 519.3,1262.8 522.0,1262.7 524.8,1262.6 527.5,1262.5 530.2,1262.3 532.9,1262.2 535.6,1262.1 538.3,1262.0 541.1,1261.9 543.8,1261.8 546.5,1261.6 549.2,1261.5 551.9,1261.3 554.6,1261.2 557.3,1261.0 560.1,1260.9 562.8,1260.7 565.5,1260.5 568.2,1260.3 570.9,1260.1 573.6,1259.9 576.4,1259.7 579.1,1259.5 581.8,1259.2 584.5,1258.9 587.2,1258.5 589.9,1258.2 592.7,1257.7 595.4,1257.3 598.1,1256.8 600.8,1256.4 603.5,1255.9 606.2,1255.5 609.0,1255.0 611.7,1254.6 614.4,1254.1 617.1,1253.7 619.8,1253.2 622.5,1252.6 625.2,1252.1 628.0,1251.4 630.7,1250.7 633.4,1249.9 636.1,1249.1 638.8,1248.3 641.5,1247.4 644.3,1246.6 647.0,1245.9 649.7,1245.2 652.4,1244.5 655.1,1243.8 657.8,1243.1 660.6,1242.2 663.3,1241.1 666.0,1239.8 668.7,1238.4 671.4,1237.0 674.1,1235.6 676.8,1234.2 679.6,1232.8 682.3,1231.3 685.0,1229.8 687.7,1228.2 690.4,1226.5 693.1,1224.8 695.9,1222.9 698.6,1221.0 701.3,1219.0 704.0,1216.9 706.7,1214.7 709.4,1212.3 712.2,1209.9 714.9,1207.4 717.6,1204.8 720.3,1202.2 723.0,1199.5 725.7,1196.6 728.5,1193.6 731.2,1190.5 733.9,1187.4 736.6,1184.2 739.3,1180.9 742.0,1177.7 744.7,1174.5" fill="none" stroke="#00aee8" stroke-width="2.4" stroke-linejoin="round"/>
<polyline points="228.2,1264.4 230.9,1264.4 233.7,1264.4 236.4,1264.4 239.1,1264.4 241.8,1264.4 244.5,1264.4 247.2,1264.4 250.0,1264.4 252.7,1264.4 255.4,1264.4 258.1,1264.4 260.8,1264.4 263.5,1264.3 266.2,1264.3 269.0,1264.3 271.7,1264.3 274.4,1264.3 277.1,1264.3 279.8,1264.3 282.5,1264.3 285.3,1264.3 288.0,1264.3 290.7,1264.3 293.4,1264.3 296.1,1264.3 298.8,1264.3 301.6,1264.3 304.3,1264.3 307.0,1264.3 309.7,1264.3 312.4,1264.3 315.1,1264.3 317.8,1264.3 320.6,1264.3 323.3,1264.3 326.0,1264.3 328.7,1264.3 331.4,1264.3 334.1,1264.3 336.9,1264.3 339.6,1264.3 342.3,1264.3 345.0,1264.3 347.7,1264.3 350.4,1264.3 353.2,1264.3 355.9,1264.3 358.6,1264.2 361.3,1264.2 364.0,1264.2 366.7,1264.2 369.5,1264.2 372.2,1264.2 374.9,1264.2 377.6,1264.2 380.3,1264.2 383.0,1264.2 385.7,1264.2 388.5,1264.2 391.2,1264.2 393.9,1264.2 396.6,1264.2 399.3,1264.2 402.0,1264.2 404.8,1264.2 407.5,1264.2 410.2,1264.2 412.9,1264.2 415.6,1264.2 418.3,1264.1 421.1,1264.1 423.8,1264.1 426.5,1264.1 429.2,1264.1 431.9,1264.1 434.6,1264.1 437.3,1264.1 440.1,1264.1 442.8,1264.1 445.5,1264.1 448.2,1264.1 450.9,1264.1 453.6,1264.1 456.4,1264.1 459.1,1264.1 461.8,1264.0 464.5,1264.0 467.2,1264.0 469.9,1264.0 472.7,1264.0 475.4,1264.0 478.1,1264.0 480.8,1264.0 483.5,1264.0 486.2,1263.9 489.0,1263.9 491.7,1263.8 494.4,1263.8 497.1,1263.7 499.8,1263.6 502.5,1263.5 505.2,1263.4 508.0,1263.3 510.7,1263.2 513.4,1263.1 516.1,1262.9 518.8,1262.8 521.5,1262.7 524.3,1262.6 527.0,1262.5 529.7,1262.4 532.4,1262.3 535.1,1262.1 537.8,1262.0 540.6,1261.9 543.3,1261.8 546.0,1261.6 548.7,1261.5 551.4,1261.4 554.1,1261.2 556.8,1261.1 559.6,1260.9 562.3,1260.7 565.0,1260.6 567.7,1260.4 570.4,1260.2 573.1,1260.0 575.9,1259.8 578.6,1259.5 581.3,1259.3 584.0,1259.0 586.7,1258.6 589.4,1258.2 592.2,1257.8 594.9,1257.4 597.6,1256.9 600.3,1256.5 603.0,1256.0 605.7,1255.5 608.5,1255.1 611.2,1254.7 613.9,1254.2 616.6,1253.7 619.3,1253.3 622.0,1252.7 624.7,1252.2 627.5,1251.5 630.2,1250.8 632.9,1250.1 635.6,1249.3 638.3,1248.4 641.0,1247.6 643.8,1246.8 646.5,1246.0 649.2,1245.3 651.9,1244.6 654.6,1244.0 657.3,1243.2 660.1,1242.4 662.8,1241.3 665.5,1240.0 668.2,1238.6 670.9,1237.2 673.6,1235.9 676.3,1234.5 679.1,1233.1 681.8,1231.6 684.5,1230.1 687.2,1228.5 689.9,1226.8 692.6,1225.1 695.4,1223.3 698.1,1221.4 700.8,1219.4 703.5,1217.3 706.2,1215.1 708.9,1212.8 711.7,1210.4 714.4,1207.9 717.1,1205.3 719.8,1202.7 722.5,1200.0 725.2,1197.1 728.0,1194.1 730.7,1191.1 733.4,1188.0 736.1,1184.8 738.8,1181.5 741.5,1178.3 744.2,1175.1 747.0,1171.8 749.7,1168.7 752.4,1165.6 755.1,1162.5 757.8,1159.5 760.5,1156.6 763.3,1153.6 766.0,1150.7 768.7,1147.6" fill="none" stroke="#0000d0" stroke-width="2.4" stroke-linejoin="round"/>
<polyline points="250.3,1264.4 253.0,1264.4 255.7,1264.4 258.5,1264.4 261.2,1264.4 263.9,1264.3 266.6,1264.3 269.3,1264.3 272.0,1264.3 274.8,1264.3 277.5,1264.3 280.2,1264.3 282.9,1264.3 285.6,1264.3 288.3,1264.3 291.1,1264.3 293.8,1264.3 296.5,1264.3 299.2,1264.3 301.9,1264.3 304.6,1264.3 307.3,1264.3 310.1,1264.3 312.8,1264.3 315.5,1264.3 318.2,1264.3 320.9,1264.3 323.6,1264.3 326.4,1264.3 329.1,1264.3 331.8,1264.3 334.5,1264.3 337.2,1264.3 339.9,1264.3 342.7,1264.3 345.4,1264.3 348.1,1264.3 350.8,1264.3 353.5,1264.3 356.2,1264.3 358.9,1264.2 361.7,1264.2 364.4,1264.2 367.1,1264.2 369.8,1264.2 372.5,1264.2 375.2,1264.2 378.0,1264.2 380.7,1264.2 383.4,1264.2 386.1,1264.2 388.8,1264.2 391.5,1264.2 394.3,1264.2 397.0,1264.2 399.7,1264.2 402.4,1264.2 405.1,1264.2 407.8,1264.2 410.6,1264.2 413.3,1264.2 416.0,1264.1 418.7,1264.1 421.4,1264.1 424.1,1264.1 426.8,1264.1 429.6,1264.1 432.3,1264.1 435.0,1264.1 437.7,1264.1 440.4,1264.1 443.1,1264.1 445.9,1264.1 448.6,1264.1 451.3,1264.1 454.0,1264.1 456.7,1264.1 459.4,1264.1 462.2,1264.0 464.9,1264.0 467.6,1264.0 470.3,1264.0 473.0,1264.0 475.7,1264.0 478.4,1264.0 481.2,1264.0 483.9,1264.0 486.6,1263.9 489.3,1263.9 492.0,1263.8 494.7,1263.8 497.5,1263.7 500.2,1263.6 502.9,1263.5 505.6,1263.4 508.3,1263.3 511.0,1263.2 513.8,1263.0 516.5,1262.9 519.2,1262.8 521.9,1262.7 524.6,1262.6 527.3,1262.5 530.1,1262.4 532.8,1262.2 535.5,1262.1 538.2,1262.0 540.9,1261.9 543.6,1261.8 546.3,1261.6 549.1,1261.5 551.8,1261.4 554.5,1261.2 557.2,1261.1 559.9,1260.9 562.6,1260.7 565.4,1260.5 568.1,1260.4 570.8,1260.2 573.5,1260.0 576.2,1259.7 578.9,1259.5 581.7,1259.2 584.4,1258.9 587.1,1258.6 589.8,1258.2 592.5,1257.7 595.2,1257.3 598.0,1256.8 600.7,1256.4 603.4,1255.9 606.1,1255.5 608.8,1255.0 611.5,1254.6 614.2,1254.2 617.0,1253.7 619.7,1253.2 622.4,1252.7 625.1,1252.1 627.8,1251.5 630.5,1250.7 633.3,1250.0 636.0,1249.2 638.7,1248.3 641.4,1247.5 644.1,1246.7 646.8,1245.9 649.6,1245.2 652.3,1244.6 655.0,1243.9 657.7,1243.1 660.4,1242.3 663.1,1241.1 665.8,1239.8 668.6,1238.5 671.3,1237.1 674.0,1235.7 676.7,1234.3 679.4,1232.9 682.1,1231.4 684.9,1229.9 687.6,1228.3 690.3,1226.6 693.0,1224.8 695.7,1223.0 698.4,1221.1 701.2,1219.1 703.9,1217.0 706.6,1214.8 709.3,1212.4 712.0,1210.0 714.7,1207.5 717.5,1205.0 720.2,1202.3 722.9,1199.6 725.6,1196.7 728.3,1193.7 731.0,1190.7 733.7,1187.5 736.5,1184.3 739.2,1181.1 741.9,1177.9 744.6,1174.6 747.3,1171.4 750.0,1168.2 752.8,1165.1 755.5,1162.1 758.2,1159.1 760.9,1156.2 763.6,1153.3 766.3,1150.3 769.1,1147.2 771.8,1144.0 774.5,1140.6 777.2,1137.1 779.9,1133.1 782.6,1128.9 785.3,1124.5 788.1,1120.3 790.8,1116.3" fill="none" stroke="#9414d2" stroke-width="2.4" stroke-linejoin="round"/>
<polyline points="273.0,1264.3 275.7,1264.3 278.4,1264.3 281.1,1264.3 283.8,1264.3 286.5,1264.3 289.3,1264.3 292.0,1264.3 294.7,1264.3 297.4,1264.3 300.1,1264.3 302.8,1264.3 305.6,1264.3 308.3,1264.3 311.0,1264.3 313.7,1264.3 316.4,1264.3 319.1,1264.3 321.8,1264.3 324.6,1264.3 327.3,1264.3 330.0,1264.3 332.7,1264.3 335.4,1264.3 338.1,1264.3 340.9,1264.3 343.6,1264.3 346.3,1264.3 349.0,1264.3 351.7,1264.3 354.4,1264.3 357.2,1264.3 359.9,1264.2 362.6,1264.2 365.3,1264.2 368.0,1264.2 370.7,1264.2 373.4,1264.2 376.2,1264.2 378.9,1264.2 381.6,1264.2 384.3,1264.2 387.0,1264.2 389.7,1264.2 392.5,1264.2 395.2,1264.2 397.9,1264.2 400.6,1264.2 403.3,1264.2 406.0,1264.2 408.8,1264.2 411.5,1264.2 414.2,1264.2 416.9,1264.1 419.6,1264.1 422.3,1264.1 425.1,1264.1 427.8,1264.1 430.5,1264.1 433.2,1264.1 435.9,1264.1 438.6,1264.1 441.3,1264.1 444.1,1264.1 446.8,1264.1 449.5,1264.1 452.2,1264.1 454.9,1264.1 457.6,1264.1 460.4,1264.1 463.1,1264.0 465.8,1264.0 468.5,1264.0 471.2,1264.0 473.9,1264.0 476.7,1264.0 479.4,1264.0 482.1,1264.0 484.8,1264.0 487.5,1263.9 490.2,1263.9 492.9,1263.8 495.7,1263.7 498.4,1263.6 501.1,1263.6 503.8,1263.5 506.5,1263.3 509.2,1263.2 512.0,1263.1 514.7,1263.0 517.4,1262.9 520.1,1262.8 522.8,1262.7 525.5,1262.5 528.3,1262.4 531.0,1262.3 533.7,1262.2 536.4,1262.1 539.1,1262.0 541.8,1261.8 544.6,1261.7 547.3,1261.6 550.0,1261.4 552.7,1261.3 555.4,1261.2 558.1,1261.0 560.8,1260.8 563.6,1260.7 566.3,1260.5 569.0,1260.3 571.7,1260.1 574.4,1259.9 577.1,1259.7 579.9,1259.4 582.6,1259.1 585.3,1258.8 588.0,1258.4 590.7,1258.0 593.4,1257.6 596.2,1257.2 598.9,1256.7 601.6,1256.2 604.3,1255.8 607.0,1255.3 609.7,1254.9 612.4,1254.5 615.2,1254.0 617.9,1253.5 620.6,1253.0 623.3,1252.5 626.0,1251.9 628.7,1251.2 631.5,1250.5 634.2,1249.7 636.9,1248.9 639.6,1248.0 642.3,1247.2 645.0,1246.4 647.8,1245.7 650.5,1245.0 653.2,1244.3 655.9,1243.6 658.6,1242.9 661.3,1241.9 664.1,1240.7 666.8,1239.4 669.5,1238.0 672.2,1236.6 674.9,1235.2 677.6,1233.8 680.3,1232.4 683.1,1230.9 685.8,1229.3 688.5,1227.7 691.2,1226.0 693.9,1224.2 696.6,1222.4 699.4,1220.4 702.1,1218.4 704.8,1216.2 707.5,1214.0 710.2,1211.6 712.9,1209.2 715.7,1206.7 718.4,1204.1 721.1,1201.4 723.8,1198.6 726.5,1195.7 729.2,1192.7 732.0,1189.6 734.7,1186.5 737.4,1183.2 740.1,1180.0 742.8,1176.8 745.5,1173.5 748.2,1170.3 751.0,1167.2 753.7,1164.1 756.4,1161.1 759.1,1158.2 761.8,1155.2 764.5,1152.2 767.3,1149.2 770.0,1146.1 772.7,1142.9 775.4,1139.5 778.1,1135.8 780.8,1131.7 783.6,1127.4 786.3,1123.1 789.0,1118.9 791.7,1115.0 794.4,1111.6 797.1,1108.4 799.8,1105.3 802.6,1102.3 805.3,1099.5 808.0,1096.7 810.7,1093.9 813.4,1091.3" fill="none" stroke="#f00a8c" stroke-width="2.4" stroke-linejoin="round"/>
<polyline points="323.4,1264.1 326.2,1264.1 328.9,1264.1 331.7,1264.1 334.4,1264.1 337.2,1264.1 340.0,1264.1 342.7,1264.1 345.5,1264.1 348.3,1264.1 351.0,1264.1 353.8,1264.1 356.5,1264.0 359.3,1264.0 362.1,1264.0 364.8,1264.0 367.6,1264.0 370.4,1264.0 373.1,1264.0 375.9,1264.0 378.6,1264.0 381.4,1264.0 384.2,1263.9 386.9,1263.9 389.7,1263.9 392.5,1263.9 395.2,1263.9 398.0,1263.9 400.7,1263.9 403.5,1263.9 406.3,1263.9 409.0,1263.9 411.8,1263.8 414.6,1263.8 417.3,1263.8 420.1,1263.8 422.8,1263.8 425.6,1263.8 428.4,1263.8 431.1,1263.8 433.9,1263.7 436.7,1263.7 439.4,1263.7 442.2,1263.7 444.9,1263.7 447.7,1263.7 450.5,1263.7 453.2,1263.6 456.0,1263.6 458.8,1263.6 461.5,1263.6 464.3,1263.6 467.0,1263.6 469.8,1263.6 472.6,1263.5 475.3,1263.5 478.1,1263.5 480.9,1263.5 483.6,1263.5 486.4,1263.4 489.1,1263.4 491.9,1263.3 494.7,1263.2 497.4,1263.2 500.2,1263.1 503.0,1263.0 505.7,1262.9 508.5,1262.7 511.2,1262.6 514.0,1262.5 516.8,1262.3 519.5,1262.2 522.3,1262.0 525.1,1261.9 527.8,1261.7 530.6,1261.5 533.3,1261.4 536.1,1261.2 538.9,1261.0 541.6,1260.8 544.4,1260.6 547.2,1260.4 549.9,1260.2 552.7,1259.9 555.4,1259.6 558.2,1259.3 561.0,1259.0 563.7,1258.6 566.5,1258.3 569.3,1257.9 572.0,1257.6 574.8,1257.2 577.5,1256.9 580.3,1256.5 583.1,1256.2 585.8,1255.8 588.6,1255.4 591.4,1254.9 594.1,1254.5 596.9,1253.9 599.6,1253.4 602.4,1252.8 605.2,1252.2 607.9,1251.5 610.7,1250.8 613.5,1250.1 616.2,1249.3 619.0,1248.4 621.7,1247.4 624.5,1246.3 627.3,1245.2 630.0,1244.1 632.8,1242.9 635.6,1241.7 638.3,1240.4 641.1,1239.0 643.8,1237.7 646.6,1236.2 649.4,1234.7 652.1,1233.2 654.9,1231.6 657.7,1230.0 660.4,1228.2 663.2,1226.4 665.9,1224.4 668.7,1222.3 671.5,1220.2 674.2,1218.0 677.0,1215.7 679.8,1213.4 682.5,1211.0 685.3,1208.7 688.0,1206.3 690.8,1204.0 693.6,1201.7 696.3,1199.3 699.1,1197.0 701.9,1194.6 704.6,1192.1 707.4,1189.7 710.1,1187.2 712.9,1184.7 715.7,1182.1 718.4,1179.5 721.2,1176.8 724.0,1174.1 726.7,1171.3 729.5,1168.5 732.3,1165.5 735.0,1162.4 737.8,1159.2 740.5,1155.9 743.3,1152.6 746.1,1149.2 748.8,1145.9 751.6,1142.5 754.4,1139.2 757.1,1135.9 759.9,1132.6 762.6,1129.5 765.4,1126.5 768.2,1123.5 770.9,1120.6 773.7,1117.7 776.5,1114.9 779.2,1112.1 782.0,1109.3 784.7,1106.4 787.5,1103.6 790.3,1100.8 793.0,1097.9 795.8,1094.8 798.6,1091.8 801.3,1088.7 804.1,1085.8 806.8,1082.9 809.6,1080.2 812.4,1077.7 815.1,1075.5 817.9,1073.5 820.7,1071.7 823.4,1069.7 826.2,1067.6 828.9,1065.1 831.7,1062.2 834.5,1059.0 837.2,1055.5 840.0,1052.0 842.8,1048.5 845.5,1045.2 848.3,1041.8 851.0,1038.4 853.8,1035.0 856.6,1031.6 859.3,1028.3 862.1,1025.0 864.9,1021.9 867.6,1018.8 870.4,1015.8 873.1,1012.9" fill="none" stroke="#c80000" stroke-width="2.4" stroke-linejoin="round"/>
<polyline points="385.9,1264.2 388.6,1264.2 391.3,1264.2 394.0,1264.2 396.7,1264.2 399.4,1264.2 402.1,1264.2 404.9,1264.2 407.6,1264.2 410.3,1264.2 413.0,1264.2 415.7,1264.2 418.4,1264.1 421.2,1264.1 423.9,1264.1 426.6,1264.1 429.3,1264.1 432.0,1264.1 434.7,1264.1 437.5,1264.1 440.2,1264.1 442.9,1264.1 445.6,1264.1 448.3,1264.1 451.0,1264.1 453.8,1264.1 456.5,1264.1 459.2,1264.1 461.9,1264.0 464.6,1264.0 467.3,1264.0 470.0,1264.0 472.8,1264.0 475.5,1264.0 478.2,1264.0 480.9,1264.0 483.6,1264.0 486.3,1263.9 489.1,1263.9 491.8,1263.8 494.5,1263.8 497.2,1263.7 499.9,1263.6 502.6,1263.5 505.4,1263.4 508.1,1263.3 510.8,1263.2 513.5,1263.1 516.2,1262.9 518.9,1262.8 521.7,1262.7 524.4,1262.6 527.1,1262.5 529.8,1262.4 532.5,1262.3 535.2,1262.1 537.9,1262.0 540.7,1261.9 543.4,1261.8 546.1,1261.6 548.8,1261.5 551.5,1261.4 554.2,1261.2 557.0,1261.1 559.7,1260.9 562.4,1260.7 565.1,1260.6 567.8,1260.4 570.5,1260.2 573.3,1260.0 576.0,1259.8 578.7,1259.5 581.4,1259.3 584.1,1259.0 586.8,1258.6 589.5,1258.2 592.3,1257.8 595.0,1257.3 597.7,1256.9 600.4,1256.4 603.1,1256.0 605.8,1255.5 608.6,1255.1 611.3,1254.6 614.0,1254.2 616.7,1253.7 619.4,1253.2 622.1,1252.7 624.9,1252.1 627.6,1251.5 630.3,1250.8 633.0,1250.0 635.7,1249.2 638.4,1248.4 641.2,1247.6 643.9,1246.8 646.6,1246.0 649.3,1245.3 652.0,1244.6 654.7,1243.9 657.4,1243.2 660.2,1242.3 662.9,1241.3 665.6,1240.0 668.3,1238.6 671.0,1237.2 673.7,1235.8 676.5,1234.4 679.2,1233.0 681.9,1231.6 684.6,1230.0 687.3,1228.4 690.0,1226.7 692.8,1225.0 695.5,1223.2 698.2,1221.3 700.9,1219.3 703.6,1217.2 706.3,1215.0 709.0,1212.7 711.8,1210.3 714.5,1207.8 717.2,1205.2 719.9,1202.6 722.6,1199.9 725.3,1197.0 728.1,1194.0 730.8,1191.0 733.5,1187.8 736.2,1184.6 738.9,1181.4 741.6,1178.2 744.4,1174.9 747.1,1171.7 749.8,1168.5 752.5,1165.4 755.2,1162.4 757.9,1159.4 760.7,1156.5 763.4,1153.5 766.1,1150.5 768.8,1147.5 771.5,1144.3 774.2,1141.0 776.9,1137.4 779.7,1133.5 782.4,1129.3 785.1,1124.9 787.8,1120.7 790.5,1116.6 793.2,1113.0 796.0,1109.7 798.7,1106.6 801.4,1103.6 804.1,1100.7 806.8,1097.9 809.5,1095.1 812.3,1092.4 815.0,1089.7 817.7,1087.1 820.4,1084.4 823.1,1081.8 825.8,1079.2 828.5,1076.7 831.3,1074.2 834.0,1071.7 836.7,1069.2 839.4,1066.7 842.1,1064.2 844.8,1061.6 847.6,1058.9 850.3,1056.1 853.0,1053.3 855.7,1050.5 858.4,1047.9 861.1,1045.4 863.9,1043.1 866.6,1040.9 869.3,1038.8 872.0,1036.7 874.7,1034.4 877.4,1032.1 880.2,1029.4 882.9,1026.3 885.6,1022.8 888.3,1019.3 891.0,1016.0 893.7,1013.2 896.4,1011.1 899.2,1009.6 901.9,1008.3 904.6,1007.0 907.3,1005.5 910.0,1003.6 912.7,1001.6 915.5,999.3 918.2,996.5 920.9,992.6 923.6,986.9 926.3,980.2" fill="none" stroke="#000000" stroke-width="2.4" stroke-linejoin="round"/>
<g fill="#8ee3ec">
<circle cx="241.4" cy="1264.4" r="8.2"/><circle cx="323.7" cy="1264.3" r="8.2"/><circle cx="375.8" cy="1264.2" r="8.2"/><circle cx="401.9" cy="1264.2" r="8.2"/><circle cx="422.1" cy="1264.1" r="8.2"/><circle cx="443.1" cy="1264.1" r="8.2"/><circle cx="456.4" cy="1264.1" r="8.2"/><circle cx="468.0" cy="1264.0" r="8.2"/><circle cx="481.2" cy="1264.0" r="8.2"/><circle cx="490.2" cy="1263.9" r="8.2"/><circle cx="498.3" cy="1263.6" r="8.2"/><circle cx="507.9" cy="1263.3" r="8.2"/><circle cx="514.6" cy="1263.0" r="8.2"/><circle cx="520.9" cy="1262.7" r="8.2"/><circle cx="528.5" cy="1262.4" r="8.2"/><circle cx="533.9" cy="1262.2" r="8.2"/><circle cx="539.0" cy="1262.0" r="8.2"/><circle cx="545.2" cy="1261.7" r="8.2"/><circle cx="549.7" cy="1261.5" r="8.2"/><circle cx="554.0" cy="1261.2" r="8.2"/><circle cx="559.3" cy="1260.9" r="8.2"/><circle cx="563.2" cy="1260.7" r="8.2"/><circle cx="566.9" cy="1260.4" r="8.2"/><circle cx="571.5" cy="1260.1" r="8.2"/><circle cx="574.9" cy="1259.8" r="8.2"/><circle cx="578.2" cy="1259.6" r="8.2"/><circle cx="582.3" cy="1259.2" r="8.2"/><circle cx="585.3" cy="1258.8" r="8.2"/><circle cx="588.2" cy="1258.4" r="8.2"/><circle cx="591.9" cy="1257.9" r="8.2"/><circle cx="594.6" cy="1257.4" r="8.2"/><circle cx="597.2" cy="1257.0" r="8.2"/><circle cx="600.5" cy="1256.4" r="8.2"/><circle cx="603.0" cy="1256.0" r="8.2"/><circle cx="605.4" cy="1255.6" r="8.2"/><circle cx="608.4" cy="1255.1" r="8.2"/><circle cx="610.7" cy="1254.7" r="8.2"/><circle cx="612.9" cy="1254.4" r="8.2"/><circle cx="615.7" cy="1253.9" r="8.2"/><circle cx="617.8" cy="1253.5" r="8.2"/><circle cx="619.8" cy="1253.2" r="8.2"/><circle cx="622.4" cy="1252.6" r="8.2"/><circle cx="624.4" cy="1252.2" r="8.2"/><circle cx="626.3" cy="1251.8" r="8.2"/><circle cx="628.7" cy="1251.2" r="8.2"/><circle cx="630.5" cy="1250.7" r="8.2"/><circle cx="632.3" cy="1250.2" r="8.2"/><circle cx="634.6" cy="1249.6" r="8.2"/><circle cx="636.3" cy="1249.0" r="8.2"/><circle cx="637.9" cy="1248.5" r="8.2"/><circle cx="640.0" cy="1247.8" r="8.2"/><circle cx="641.6" cy="1247.3" r="8.2"/><circle cx="643.2" cy="1246.9" r="8.2"/><circle cx="645.2" cy="1246.3" r="8.2"/><circle cx="646.7" cy="1245.9" r="8.2"/><circle cx="648.2" cy="1245.6" r="8.2"/><circle cx="650.1" cy="1245.3" r="8.2"/><circle cx="651.6" cy="1245.1" r="8.2"/><circle cx="653.0" cy="1245.1" r="8.2"/><circle cx="654.8" cy="1245.0" r="8.2"/><circle cx="656.1" cy="1245.0" r="8.2"/><circle cx="657.5" cy="1245.0" r="8.2"/><circle cx="659.2" cy="1244.9" r="8.2"/><circle cx="660.5" cy="1244.8" r="8.2"/><circle cx="661.8" cy="1244.4" r="8.2"/><circle cx="663.4" cy="1243.6" r="8.2"/><circle cx="664.6" cy="1242.7" r="8.2"/><circle cx="665.9" cy="1241.5" r="8.2"/><circle cx="667.4" cy="1240.0" r="8.2"/><circle cx="668.6" cy="1238.9" r="8.2"/><circle cx="669.8" cy="1238.0" r="8.2"/><circle cx="671.3" cy="1237.0" r="8.2"/><circle cx="672.4" cy="1236.3" r="8.2"/><circle cx="673.5" cy="1235.5" r="8.2"/><circle cx="675.0" cy="1234.5" r="8.2"/><circle cx="676.1" cy="1233.8" r="8.2"/><circle cx="677.1" cy="1233.3" r="8.2"/><circle cx="678.5" cy="1233.1" r="8.2"/><circle cx="679.6" cy="1233.3" r="8.2"/><circle cx="680.6" cy="1233.4" r="8.2"/><circle cx="681.9" cy="1233.0" r="8.2"/><circle cx="682.9" cy="1232.6" r="8.2"/><circle cx="683.9" cy="1232.1" r="8.2"/><circle cx="685.2" cy="1231.3" r="8.2"/><circle cx="686.2" cy="1230.7" r="8.2"/><circle cx="687.2" cy="1229.9" r="8.2"/><circle cx="688.4" cy="1228.7" r="8.2"/><circle cx="689.3" cy="1227.5" r="8.2"/><circle cx="690.3" cy="1226.5" r="8.2"/><circle cx="691.5" cy="1225.5" r="8.2"/><circle cx="692.4" cy="1224.7" r="8.2"/><circle cx="693.3" cy="1224.0" r="8.2"/><circle cx="694.4" cy="1223.1" r="8.2"/><circle cx="695.3" cy="1222.3" r="8.2"/><circle cx="696.2" cy="1221.5" r="8.2"/><circle cx="697.3" cy="1220.7" r="8.2"/><circle cx="698.2" cy="1220.4" r="8.2"/><circle cx="699.0" cy="1220.3" r="8.2"/><circle cx="700.1" cy="1220.2" r="8.2"/><circle cx="700.9" cy="1220.5" r="8.2"/><circle cx="701.7" cy="1220.6" r="8.2"/><circle cx="702.8" cy="1220.3" r="8.2"/><circle cx="703.6" cy="1219.8" r="8.2"/><circle cx="704.4" cy="1219.0" r="8.2"/><circle cx="705.4" cy="1217.9" r="8.2"/><circle cx="706.2" cy="1217.1" r="8.2"/><circle cx="706.9" cy="1216.3" r="8.2"/><circle cx="707.9" cy="1215.3" r="8.2"/><circle cx="708.7" cy="1214.1" r="8.2"/><circle cx="709.5" cy="1212.8" r="8.2"/><circle cx="710.4" cy="1211.4" r="8.2"/><circle cx="711.2" cy="1210.4" r="8.2"/><circle cx="711.9" cy="1209.9" r="8.2"/><circle cx="712.8" cy="1209.4" r="8.2"/><circle cx="713.5" cy="1209.3" r="8.2"/><circle cx="714.3" cy="1208.9" r="8.2"/><circle cx="715.2" cy="1207.9" r="8.2"/><circle cx="715.9" cy="1206.6" r="8.2"/><circle cx="716.6" cy="1205.0" r="8.2"/><circle cx="717.5" cy="1203.2" r="8.2"/><circle cx="718.1" cy="1202.1" r="8.2"/><circle cx="718.8" cy="1201.6" r="8.2"/>
</g>
<g fill="#00aee8">
<circle cx="267.3" cy="1264.3" r="8.2"/><circle cx="349.7" cy="1264.3" r="8.2"/><circle cx="401.7" cy="1264.2" r="8.2"/><circle cx="427.8" cy="1264.1" r="8.2"/><circle cx="448.0" cy="1264.1" r="8.2"/><circle cx="469.0" cy="1264.0" r="8.2"/><circle cx="482.3" cy="1264.0" r="8.2"/><circle cx="494.0" cy="1263.8" r="8.2"/><circle cx="507.1" cy="1263.3" r="8.2"/><circle cx="516.1" cy="1262.9" r="8.2"/><circle cx="524.2" cy="1262.6" r="8.2"/><circle cx="533.8" cy="1262.2" r="8.2"/><circle cx="540.6" cy="1261.9" r="8.2"/><circle cx="546.8" cy="1261.6" r="8.2"/><circle cx="554.4" cy="1261.2" r="8.2"/><circle cx="559.8" cy="1260.9" r="8.2"/><circle cx="564.9" cy="1260.6" r="8.2"/><circle cx="571.1" cy="1260.1" r="8.2"/><circle cx="575.6" cy="1259.8" r="8.2"/><circle cx="579.9" cy="1259.4" r="8.2"/><circle cx="585.2" cy="1258.8" r="8.2"/><circle cx="589.1" cy="1258.3" r="8.2"/><circle cx="592.8" cy="1257.7" r="8.2"/><circle cx="597.4" cy="1256.9" r="8.2"/><circle cx="600.8" cy="1256.4" r="8.2"/><circle cx="604.1" cy="1255.8" r="8.2"/><circle cx="608.2" cy="1255.1" r="8.2"/><circle cx="611.2" cy="1254.7" r="8.2"/><circle cx="614.1" cy="1254.2" r="8.2"/><circle cx="617.8" cy="1253.5" r="8.2"/><circle cx="620.5" cy="1253.0" r="8.2"/><circle cx="623.1" cy="1252.5" r="8.2"/><circle cx="626.5" cy="1251.8" r="8.2"/><circle cx="628.9" cy="1251.2" r="8.2"/><circle cx="631.3" cy="1250.5" r="8.2"/><circle cx="634.4" cy="1249.6" r="8.2"/><circle cx="636.6" cy="1248.9" r="8.2"/><circle cx="638.8" cy="1248.1" r="8.2"/><circle cx="641.6" cy="1247.2" r="8.2"/><circle cx="643.7" cy="1246.7" r="8.2"/><circle cx="645.8" cy="1246.3" r="8.2"/><circle cx="648.4" cy="1246.1" r="8.2"/><circle cx="650.3" cy="1246.1" r="8.2"/><circle cx="652.2" cy="1246.3" r="8.2"/><circle cx="654.6" cy="1246.4" r="8.2"/><circle cx="656.4" cy="1246.6" r="8.2"/><circle cx="658.2" cy="1246.7" r="8.2"/><circle cx="660.5" cy="1246.4" r="8.2"/><circle cx="662.2" cy="1245.8" r="8.2"/><circle cx="663.8" cy="1244.7" r="8.2"/><circle cx="666.0" cy="1242.8" r="8.2"/><circle cx="667.6" cy="1240.5" r="8.2"/><circle cx="669.1" cy="1238.2" r="8.2"/><circle cx="671.2" cy="1235.9" r="8.2"/><circle cx="672.7" cy="1234.3" r="8.2"/><circle cx="674.2" cy="1233.1" r="8.2"/><circle cx="676.1" cy="1231.8" r="8.2"/><circle cx="677.5" cy="1230.9" r="8.2"/><circle cx="678.9" cy="1230.2" r="8.2"/><circle cx="680.7" cy="1229.5" r="8.2"/><circle cx="682.1" cy="1229.4" r="8.2"/><circle cx="683.4" cy="1229.6" r="8.2"/><circle cx="685.1" cy="1229.6" r="8.2"/><circle cx="686.4" cy="1229.6" r="8.2"/><circle cx="687.7" cy="1229.2" r="8.2"/><circle cx="689.3" cy="1228.0" r="8.2"/><circle cx="690.6" cy="1226.8" r="8.2"/><circle cx="691.8" cy="1225.7" r="8.2"/><circle cx="693.4" cy="1224.7" r="8.2"/><circle cx="694.5" cy="1224.3" r="8.2"/><circle cx="695.7" cy="1224.0" r="8.2"/><circle cx="697.2" cy="1223.4" r="8.2"/><circle cx="698.3" cy="1222.6" r="8.2"/><circle cx="699.5" cy="1221.4" r="8.2"/><circle cx="700.9" cy="1219.7" r="8.2"/><circle cx="702.0" cy="1218.3" r="8.2"/><circle cx="703.1" cy="1217.1" r="8.2"/><circle cx="704.4" cy="1215.8" r="8.2"/><circle cx="705.5" cy="1215.1" r="8.2"/><circle cx="706.5" cy="1214.4" r="8.2"/><circle cx="707.9" cy="1213.4" r="8.2"/><circle cx="708.9" cy="1212.7" r="8.2"/><circle cx="709.9" cy="1211.9" r="8.2"/><circle cx="711.2" cy="1210.8" r="8.2"/><circle cx="712.1" cy="1209.8" r="8.2"/><circle cx="713.1" cy="1208.7" r="8.2"/><circle cx="714.3" cy="1207.1" r="8.2"/><circle cx="715.3" cy="1205.6" r="8.2"/><circle cx="716.2" cy="1204.0" r="8.2"/><circle cx="717.4" cy="1202.3" r="8.2"/><circle cx="718.3" cy="1201.1" r="8.2"/><circle cx="719.2" cy="1200.3" r="8.2"/><circle cx="720.4" cy="1199.6" r="8.2"/><circle cx="721.2" cy="1199.4" r="8.2"/><circle cx="722.1" cy="1199.2" r="8.2"/><circle cx="723.2" cy="1198.8" r="8.2"/><circle cx="724.1" cy="1198.6" r="8.2"/><circle cx="724.9" cy="1198.4" r="8.2"/><circle cx="726.0" cy="1197.7" r="8.2"/><circle cx="726.8" cy="1197.2" r="8.2"/><circle cx="727.6" cy="1196.5" r="8.2"/><circle cx="728.7" cy="1195.3" r="8.2"/><circle cx="729.5" cy="1194.3" r="8.2"/><circle cx="730.3" cy="1193.2" r="8.2"/><circle cx="731.3" cy="1192.0" r="8.2"/><circle cx="732.1" cy="1191.2" r="8.2"/><circle cx="732.9" cy="1190.3" r="8.2"/><circle cx="733.9" cy="1189.0" r="8.2"/><circle cx="734.6" cy="1187.8" r="8.2"/><circle cx="735.4" cy="1186.4" r="8.2"/><circle cx="736.3" cy="1184.8" r="8.2"/><circle cx="737.1" cy="1183.5" r="8.2"/><circle cx="737.8" cy="1182.5" r="8.2"/><circle cx="738.8" cy="1181.4" r="8.2"/><circle cx="739.5" cy="1180.9" r="8.2"/><circle cx="740.2" cy="1180.3" r="8.2"/><circle cx="741.1" cy="1179.2" r="8.2"/><circle cx="741.8" cy="1178.0" r="8.2"/><circle cx="742.5" cy="1176.5" r="8.2"/><circle cx="743.4" cy="1174.9" r="8.2"/><circle cx="744.1" cy="1173.9" r="8.2"/><circle cx="744.7" cy="1173.1" r="8.2"/>
</g>
<g fill="#0000d0">
<circle cx="291.3" cy="1264.3" r="8.2"/><circle cx="373.6" cy="1264.2" r="8.2"/><circle cx="425.6" cy="1264.1" r="8.2"/><circle cx="451.8" cy="1264.1" r="8.2"/><circle cx="472.0" cy="1264.0" r="8.2"/><circle cx="493.0" cy="1263.8" r="8.2"/><circle cx="506.3" cy="1263.4" r="8.2"/><circle cx="517.9" cy="1262.9" r="8.2"/><circle cx="531.1" cy="1262.3" r="8.2"/><circle cx="540.0" cy="1261.9" r="8.2"/><circle cx="548.2" cy="1261.5" r="8.2"/><circle cx="557.8" cy="1261.0" r="8.2"/><circle cx="564.5" cy="1260.6" r="8.2"/><circle cx="570.8" cy="1260.2" r="8.2"/><circle cx="578.3" cy="1259.6" r="8.2"/><circle cx="583.7" cy="1259.0" r="8.2"/><circle cx="588.8" cy="1258.3" r="8.2"/><circle cx="595.1" cy="1257.3" r="8.2"/><circle cx="599.6" cy="1256.6" r="8.2"/><circle cx="603.9" cy="1255.8" r="8.2"/><circle cx="609.2" cy="1255.0" r="8.2"/><circle cx="613.1" cy="1254.3" r="8.2"/><circle cx="616.8" cy="1253.7" r="8.2"/><circle cx="621.4" cy="1252.9" r="8.2"/><circle cx="624.8" cy="1252.2" r="8.2"/><circle cx="628.0" cy="1251.4" r="8.2"/><circle cx="632.1" cy="1250.3" r="8.2"/><circle cx="635.1" cy="1249.4" r="8.2"/><circle cx="638.1" cy="1248.3" r="8.2"/><circle cx="641.7" cy="1246.9" r="8.2"/><circle cx="644.4" cy="1245.9" r="8.2"/><circle cx="647.1" cy="1245.1" r="8.2"/><circle cx="650.4" cy="1244.5" r="8.2"/><circle cx="652.9" cy="1244.2" r="8.2"/><circle cx="655.3" cy="1244.0" r="8.2"/><circle cx="658.3" cy="1243.6" r="8.2"/><circle cx="660.6" cy="1243.3" r="8.2"/><circle cx="662.8" cy="1242.8" r="8.2"/><circle cx="665.6" cy="1242.1" r="8.2"/><circle cx="667.7" cy="1241.4" r="8.2"/><circle cx="669.7" cy="1240.6" r="8.2"/><circle cx="672.3" cy="1239.6" r="8.2"/><circle cx="674.2" cy="1238.8" r="8.2"/><circle cx="676.1" cy="1238.1" r="8.2"/><circle cx="678.6" cy="1237.0" r="8.2"/><circle cx="680.4" cy="1235.9" r="8.2"/><circle cx="682.2" cy="1234.5" r="8.2"/><circle cx="684.4" cy="1232.5" r="8.2"/><circle cx="686.1" cy="1230.6" r="8.2"/><circle cx="687.8" cy="1228.8" r="8.2"/><circle cx="689.9" cy="1226.9" r="8.2"/><circle cx="691.5" cy="1225.6" r="8.2"/><circle cx="693.1" cy="1224.5" r="8.2"/><circle cx="695.1" cy="1223.2" r="8.2"/><circle cx="696.6" cy="1221.9" r="8.2"/><circle cx="698.1" cy="1220.2" r="8.2"/><circle cx="700.0" cy="1217.8" r="8.2"/><circle cx="701.4" cy="1215.7" r="8.2"/><circle cx="702.8" cy="1213.9" r="8.2"/><circle cx="704.6" cy="1212.6" r="8.2"/><circle cx="706.0" cy="1212.2" r="8.2"/><circle cx="707.3" cy="1212.1" r="8.2"/><circle cx="709.1" cy="1211.7" r="8.2"/><circle cx="710.4" cy="1211.3" r="8.2"/><circle cx="711.6" cy="1210.4" r="8.2"/><circle cx="713.3" cy="1208.9" r="8.2"/><circle cx="714.5" cy="1207.6" r="8.2"/><circle cx="715.7" cy="1206.0" r="8.2"/><circle cx="717.3" cy="1203.9" r="8.2"/><circle cx="718.5" cy="1202.2" r="8.2"/><circle cx="719.6" cy="1200.7" r="8.2"/><circle cx="721.1" cy="1199.0" r="8.2"/><circle cx="722.3" cy="1198.0" r="8.2"/><circle cx="723.4" cy="1197.2" r="8.2"/><circle cx="724.8" cy="1195.8" r="8.2"/><circle cx="725.9" cy="1194.7" r="8.2"/><circle cx="727.0" cy="1193.5" r="8.2"/><circle cx="728.4" cy="1192.2" r="8.2"/><circle cx="729.4" cy="1191.7" r="8.2"/><circle cx="730.5" cy="1191.4" r="8.2"/><circle cx="731.8" cy="1190.9" r="8.2"/><circle cx="732.8" cy="1190.5" r="8.2"/><circle cx="733.8" cy="1189.6" r="8.2"/><circle cx="735.1" cy="1188.0" r="8.2"/><circle cx="736.1" cy="1186.4" r="8.2"/><circle cx="737.0" cy="1184.7" r="8.2"/><circle cx="738.3" cy="1182.8" r="8.2"/><circle cx="739.2" cy="1181.6" r="8.2"/><circle cx="740.1" cy="1180.5" r="8.2"/><circle cx="741.3" cy="1179.2" r="8.2"/><circle cx="742.2" cy="1177.9" r="8.2"/><circle cx="743.1" cy="1176.4" r="8.2"/><circle cx="744.3" cy="1174.4" r="8.2"/><circle cx="745.2" cy="1172.8" r="8.2"/><circle cx="746.0" cy="1171.6" r="8.2"/><circle cx="747.2" cy="1170.5" r="8.2"/><circle cx="748.0" cy="1169.9" r="8.2"/><circle cx="748.9" cy="1169.4" r="8.2"/><circle cx="750.0" cy="1168.5" r="8.2"/><circle cx="750.8" cy="1167.9" r="8.2"/><circle cx="751.6" cy="1167.2" r="8.2"/><circle cx="752.6" cy="1166.1" r="8.2"/><circle cx="753.4" cy="1165.1" r="8.2"/><circle cx="754.2" cy="1163.8" r="8.2"/><circle cx="755.3" cy="1162.2" r="8.2"/><circle cx="756.0" cy="1160.8" r="8.2"/><circle cx="756.8" cy="1159.6" r="8.2"/><circle cx="757.8" cy="1158.5" r="8.2"/><circle cx="758.6" cy="1157.9" r="8.2"/><circle cx="759.3" cy="1157.7" r="8.2"/><circle cx="760.3" cy="1157.4" r="8.2"/><circle cx="761.0" cy="1157.4" r="8.2"/><circle cx="761.8" cy="1157.2" r="8.2"/><circle cx="762.7" cy="1156.4" r="8.2"/><circle cx="763.4" cy="1155.4" r="8.2"/><circle cx="764.1" cy="1153.9" r="8.2"/><circle cx="765.0" cy="1152.0" r="8.2"/><circle cx="765.7" cy="1150.4" r="8.2"/><circle cx="766.4" cy="1149.3" r="8.2"/><circle cx="767.3" cy="1148.5" r="8.2"/><circle cx="768.0" cy="1148.4" r="8.2"/><circle cx="768.7" cy="1148.3" r="8.2"/>
</g>
<g fill="#9414d2">
<circle cx="313.4" cy="1264.3" r="8.2"/><circle cx="395.7" cy="1264.2" r="8.2"/><circle cx="447.7" cy="1264.1" r="8.2"/><circle cx="473.8" cy="1264.0" r="8.2"/><circle cx="494.1" cy="1263.8" r="8.2"/><circle cx="515.1" cy="1263.0" r="8.2"/><circle cx="528.4" cy="1262.4" r="8.2"/><circle cx="540.0" cy="1261.9" r="8.2"/><circle cx="553.2" cy="1261.3" r="8.2"/><circle cx="562.1" cy="1260.8" r="8.2"/><circle cx="570.3" cy="1260.2" r="8.2"/><circle cx="579.9" cy="1259.4" r="8.2"/><circle cx="586.6" cy="1258.6" r="8.2"/><circle cx="592.9" cy="1257.7" r="8.2"/><circle cx="600.4" cy="1256.4" r="8.2"/><circle cx="605.8" cy="1255.5" r="8.2"/><circle cx="610.9" cy="1254.7" r="8.2"/><circle cx="617.2" cy="1253.6" r="8.2"/><circle cx="621.7" cy="1252.8" r="8.2"/><circle cx="626.0" cy="1251.9" r="8.2"/><circle cx="631.3" cy="1250.5" r="8.2"/><circle cx="635.2" cy="1249.3" r="8.2"/><circle cx="638.9" cy="1248.1" r="8.2"/><circle cx="643.5" cy="1246.6" r="8.2"/><circle cx="646.9" cy="1245.7" r="8.2"/><circle cx="650.1" cy="1245.1" r="8.2"/><circle cx="654.2" cy="1244.5" r="8.2"/><circle cx="657.2" cy="1244.2" r="8.2"/><circle cx="660.1" cy="1243.7" r="8.2"/><circle cx="663.8" cy="1242.8" r="8.2"/><circle cx="666.5" cy="1241.8" r="8.2"/><circle cx="669.2" cy="1240.3" r="8.2"/><circle cx="672.5" cy="1238.3" r="8.2"/><circle cx="675.0" cy="1236.7" r="8.2"/><circle cx="677.4" cy="1235.4" r="8.2"/><circle cx="680.4" cy="1234.1" r="8.2"/><circle cx="682.7" cy="1233.2" r="8.2"/><circle cx="684.9" cy="1232.3" r="8.2"/><circle cx="687.7" cy="1230.7" r="8.2"/><circle cx="689.8" cy="1229.2" r="8.2"/><circle cx="691.8" cy="1227.5" r="8.2"/><circle cx="694.4" cy="1225.5" r="8.2"/><circle cx="696.3" cy="1223.9" r="8.2"/><circle cx="698.2" cy="1222.2" r="8.2"/><circle cx="700.7" cy="1219.9" r="8.2"/><circle cx="702.5" cy="1217.7" r="8.2"/><circle cx="704.2" cy="1215.4" r="8.2"/><circle cx="706.5" cy="1212.8" r="8.2"/><circle cx="708.2" cy="1210.8" r="8.2"/><circle cx="709.9" cy="1209.2" r="8.2"/><circle cx="712.0" cy="1207.6" r="8.2"/><circle cx="713.6" cy="1206.6" r="8.2"/><circle cx="715.2" cy="1205.7" r="8.2"/><circle cx="717.2" cy="1204.3" r="8.2"/><circle cx="718.7" cy="1203.0" r="8.2"/><circle cx="720.2" cy="1201.6" r="8.2"/><circle cx="722.1" cy="1199.7" r="8.2"/><circle cx="723.5" cy="1198.4" r="8.2"/><circle cx="724.9" cy="1197.2" r="8.2"/><circle cx="726.7" cy="1195.5" r="8.2"/><circle cx="728.1" cy="1194.1" r="8.2"/><circle cx="729.4" cy="1192.4" r="8.2"/><circle cx="731.2" cy="1190.1" r="8.2"/><circle cx="732.4" cy="1188.4" r="8.2"/><circle cx="733.7" cy="1186.9" r="8.2"/><circle cx="735.4" cy="1185.2" r="8.2"/><circle cx="736.6" cy="1184.2" r="8.2"/><circle cx="737.8" cy="1183.3" r="8.2"/><circle cx="739.4" cy="1181.7" r="8.2"/><circle cx="740.6" cy="1180.4" r="8.2"/><circle cx="741.7" cy="1178.6" r="8.2"/><circle cx="743.2" cy="1175.9" r="8.2"/><circle cx="744.4" cy="1173.3" r="8.2"/><circle cx="745.5" cy="1170.7" r="8.2"/><circle cx="746.9" cy="1168.3" r="8.2"/><circle cx="748.0" cy="1166.8" r="8.2"/><circle cx="749.1" cy="1166.0" r="8.2"/><circle cx="750.5" cy="1165.0" r="8.2"/><circle cx="751.5" cy="1164.2" r="8.2"/><circle cx="752.6" cy="1163.0" r="8.2"/><circle cx="753.9" cy="1161.1" r="8.2"/><circle cx="754.9" cy="1159.5" r="8.2"/><circle cx="755.9" cy="1158.2" r="8.2"/><circle cx="757.2" cy="1157.1" r="8.2"/><circle cx="758.2" cy="1156.7" r="8.2"/><circle cx="759.1" cy="1156.4" r="8.2"/><circle cx="760.4" cy="1156.0" r="8.2"/><circle cx="761.3" cy="1155.8" r="8.2"/><circle cx="762.2" cy="1155.4" r="8.2"/><circle cx="763.4" cy="1154.7" r="8.2"/><circle cx="764.3" cy="1154.2" r="8.2"/><circle cx="765.2" cy="1153.6" r="8.2"/><circle cx="766.4" cy="1152.6" r="8.2"/><circle cx="767.3" cy="1151.9" r="8.2"/><circle cx="768.1" cy="1150.9" r="8.2"/><circle cx="769.3" cy="1149.2" r="8.2"/><circle cx="770.1" cy="1147.4" r="8.2"/><circle cx="771.0" cy="1145.3" r="8.2"/><circle cx="772.0" cy="1143.0" r="8.2"/><circle cx="772.9" cy="1141.1" r="8.2"/><circle cx="773.7" cy="1139.7" r="8.2"/><circle cx="774.7" cy="1138.3" r="8.2"/><circle cx="775.5" cy="1137.5" r="8.2"/><circle cx="776.3" cy="1136.9" r="8.2"/><circle cx="777.4" cy="1136.0" r="8.2"/><circle cx="778.1" cy="1135.6" r="8.2"/><circle cx="778.9" cy="1135.2" r="8.2"/><circle cx="779.9" cy="1134.4" r="8.2"/><circle cx="780.7" cy="1133.9" r="8.2"/><circle cx="781.4" cy="1133.2" r="8.2"/><circle cx="782.4" cy="1132.2" r="8.2"/><circle cx="783.1" cy="1131.2" r="8.2"/><circle cx="783.8" cy="1130.0" r="8.2"/><circle cx="784.8" cy="1128.2" r="8.2"/><circle cx="785.5" cy="1126.6" r="8.2"/><circle cx="786.2" cy="1124.9" r="8.2"/><circle cx="787.1" cy="1123.1" r="8.2"/><circle cx="787.8" cy="1121.7" r="8.2"/><circle cx="788.5" cy="1120.4" r="8.2"/><circle cx="789.4" cy="1118.9" r="8.2"/><circle cx="790.1" cy="1117.6" r="8.2"/><circle cx="790.8" cy="1116.3" r="8.2"/>
</g>
<g fill="#f00a8c">
<circle cx="336.0" cy="1264.3" r="8.2"/><circle cx="418.3" cy="1264.1" r="8.2"/><circle cx="470.4" cy="1264.0" r="8.2"/><circle cx="496.5" cy="1263.7" r="8.2"/><circle cx="516.7" cy="1262.9" r="8.2"/><circle cx="537.7" cy="1262.0" r="8.2"/><circle cx="551.0" cy="1261.4" r="8.2"/><circle cx="562.6" cy="1260.7" r="8.2"/><circle cx="575.8" cy="1259.8" r="8.2"/><circle cx="584.8" cy="1258.9" r="8.2"/><circle cx="592.9" cy="1257.7" r="8.2"/><circle cx="602.5" cy="1256.1" r="8.2"/><circle cx="609.2" cy="1255.0" r="8.2"/><circle cx="615.5" cy="1253.9" r="8.2"/><circle cx="623.1" cy="1252.5" r="8.2"/><circle cx="628.5" cy="1251.3" r="8.2"/><circle cx="633.6" cy="1249.9" r="8.2"/><circle cx="639.8" cy="1247.6" r="8.2"/><circle cx="644.3" cy="1245.9" r="8.2"/><circle cx="648.6" cy="1244.4" r="8.2"/><circle cx="653.9" cy="1243.0" r="8.2"/><circle cx="657.8" cy="1242.1" r="8.2"/><circle cx="661.5" cy="1241.2" r="8.2"/><circle cx="666.1" cy="1239.5" r="8.2"/><circle cx="669.5" cy="1238.3" r="8.2"/><circle cx="672.8" cy="1236.9" r="8.2"/><circle cx="676.9" cy="1234.8" r="8.2"/><circle cx="679.9" cy="1232.8" r="8.2"/><circle cx="682.8" cy="1230.4" r="8.2"/><circle cx="686.5" cy="1227.4" r="8.2"/><circle cx="689.2" cy="1225.1" r="8.2"/><circle cx="691.8" cy="1223.4" r="8.2"/><circle cx="695.1" cy="1221.8" r="8.2"/><circle cx="697.6" cy="1221.0" r="8.2"/><circle cx="700.0" cy="1220.4" r="8.2"/><circle cx="703.0" cy="1219.1" r="8.2"/><circle cx="705.3" cy="1217.8" r="8.2"/><circle cx="707.5" cy="1216.1" r="8.2"/><circle cx="710.3" cy="1213.5" r="8.2"/><circle cx="712.4" cy="1211.3" r="8.2"/><circle cx="714.4" cy="1209.2" r="8.2"/><circle cx="717.0" cy="1206.7" r="8.2"/><circle cx="719.0" cy="1204.9" r="8.2"/><circle cx="720.9" cy="1203.2" r="8.2"/><circle cx="723.3" cy="1200.8" r="8.2"/><circle cx="725.1" cy="1198.7" r="8.2"/><circle cx="726.9" cy="1196.3" r="8.2"/><circle cx="729.2" cy="1193.2" r="8.2"/><circle cx="730.9" cy="1190.9" r="8.2"/><circle cx="732.5" cy="1189.0" r="8.2"/><circle cx="734.7" cy="1186.8" r="8.2"/><circle cx="736.3" cy="1185.5" r="8.2"/><circle cx="737.8" cy="1184.1" r="8.2"/><circle cx="739.8" cy="1182.0" r="8.2"/><circle cx="741.3" cy="1180.3" r="8.2"/><circle cx="742.8" cy="1178.3" r="8.2"/><circle cx="744.7" cy="1175.4" r="8.2"/><circle cx="746.2" cy="1172.8" r="8.2"/><circle cx="747.6" cy="1170.1" r="8.2"/><circle cx="749.4" cy="1167.1" r="8.2"/><circle cx="750.7" cy="1165.0" r="8.2"/><circle cx="752.1" cy="1163.4" r="8.2"/><circle cx="753.8" cy="1161.7" r="8.2"/><circle cx="755.1" cy="1160.8" r="8.2"/><circle cx="756.4" cy="1159.9" r="8.2"/><circle cx="758.0" cy="1158.4" r="8.2"/><circle cx="759.2" cy="1157.1" r="8.2"/><circle cx="760.5" cy="1155.7" r="8.2"/><circle cx="762.0" cy="1153.8" r="8.2"/><circle cx="763.2" cy="1152.6" r="8.2"/><circle cx="764.4" cy="1151.5" r="8.2"/><circle cx="765.9" cy="1150.2" r="8.2"/><circle cx="767.0" cy="1149.7" r="8.2"/><circle cx="768.1" cy="1149.4" r="8.2"/><circle cx="769.6" cy="1149.0" r="8.2"/><circle cx="770.7" cy="1149.0" r="8.2"/><circle cx="771.7" cy="1148.8" r="8.2"/><circle cx="773.1" cy="1147.7" r="8.2"/><circle cx="774.2" cy="1146.6" r="8.2"/><circle cx="775.2" cy="1145.0" r="8.2"/><circle cx="776.5" cy="1142.6" r="8.2"/><circle cx="777.6" cy="1140.2" r="8.2"/><circle cx="778.5" cy="1137.4" r="8.2"/><circle cx="779.8" cy="1134.1" r="8.2"/><circle cx="780.8" cy="1131.5" r="8.2"/><circle cx="781.8" cy="1129.3" r="8.2"/><circle cx="783.0" cy="1127.3" r="8.2"/><circle cx="783.9" cy="1126.3" r="8.2"/><circle cx="784.9" cy="1125.6" r="8.2"/><circle cx="786.1" cy="1124.7" r="8.2"/><circle cx="787.0" cy="1124.3" r="8.2"/><circle cx="787.9" cy="1123.7" r="8.2"/><circle cx="789.0" cy="1122.3" r="8.2"/><circle cx="789.9" cy="1120.9" r="8.2"/><circle cx="790.8" cy="1119.3" r="8.2"/><circle cx="791.9" cy="1117.1" r="8.2"/><circle cx="792.8" cy="1115.3" r="8.2"/><circle cx="793.6" cy="1113.9" r="8.2"/><circle cx="794.7" cy="1113.0" r="8.2"/><circle cx="795.5" cy="1113.0" r="8.2"/><circle cx="796.3" cy="1113.5" r="8.2"/><circle cx="797.4" cy="1113.7" r="8.2"/><circle cx="798.2" cy="1113.7" r="8.2"/><circle cx="799.0" cy="1113.0" r="8.2"/><circle cx="800.0" cy="1111.6" r="8.2"/><circle cx="800.8" cy="1110.2" r="8.2"/><circle cx="801.6" cy="1108.7" r="8.2"/><circle cx="802.6" cy="1107.3" r="8.2"/><circle cx="803.3" cy="1106.3" r="8.2"/><circle cx="804.1" cy="1105.5" r="8.2"/><circle cx="805.0" cy="1104.5" r="8.2"/><circle cx="805.8" cy="1103.7" r="8.2"/><circle cx="806.5" cy="1103.1" r="8.2"/><circle cx="807.4" cy="1102.5" r="8.2"/><circle cx="808.2" cy="1102.3" r="8.2"/><circle cx="808.9" cy="1102.2" r="8.2"/><circle cx="809.8" cy="1101.9" r="8.2"/><circle cx="810.5" cy="1101.5" r="8.2"/><circle cx="811.2" cy="1101.0" r="8.2"/><circle cx="812.1" cy="1100.4" r="8.2"/><circle cx="812.8" cy="1100.0" r="8.2"/><circle cx="813.4" cy="1099.6" r="8.2"/>
</g>
<g fill="#c80000">
<circle cx="386.4" cy="1263.9" r="8.2"/><circle cx="468.8" cy="1263.6" r="8.2"/><circle cx="520.8" cy="1262.1" r="8.2"/><circle cx="546.9" cy="1260.4" r="8.2"/><circle cx="567.2" cy="1258.2" r="8.2"/><circle cx="588.1" cy="1255.5" r="8.2"/><circle cx="601.5" cy="1253.0" r="8.2"/><circle cx="613.1" cy="1250.2" r="8.2"/><circle cx="626.2" cy="1245.0" r="8.2"/><circle cx="635.2" cy="1240.3" r="8.2"/><circle cx="643.3" cy="1236.2" r="8.2"/><circle cx="652.9" cy="1231.4" r="8.2"/><circle cx="659.7" cy="1227.9" r="8.2"/><circle cx="665.9" cy="1223.9" r="8.2"/><circle cx="673.5" cy="1218.3" r="8.2"/><circle cx="678.9" cy="1213.8" r="8.2"/><circle cx="684.0" cy="1209.4" r="8.2"/><circle cx="690.3" cy="1203.9" r="8.2"/><circle cx="694.8" cy="1200.0" r="8.2"/><circle cx="699.1" cy="1196.5" r="8.2"/><circle cx="704.4" cy="1192.1" r="8.2"/><circle cx="708.2" cy="1188.9" r="8.2"/><circle cx="711.9" cy="1185.6" r="8.2"/><circle cx="716.6" cy="1181.5" r="8.2"/><circle cx="719.9" cy="1178.5" r="8.2"/><circle cx="723.2" cy="1175.9" r="8.2"/><circle cx="727.3" cy="1172.7" r="8.2"/><circle cx="730.3" cy="1170.5" r="8.2"/><circle cx="733.2" cy="1167.9" r="8.2"/><circle cx="736.9" cy="1163.9" r="8.2"/><circle cx="739.6" cy="1160.6" r="8.2"/><circle cx="742.2" cy="1157.2" r="8.2"/><circle cx="745.6" cy="1153.0" r="8.2"/><circle cx="748.0" cy="1150.1" r="8.2"/><circle cx="750.4" cy="1147.6" r="8.2"/><circle cx="753.5" cy="1144.3" r="8.2"/><circle cx="755.7" cy="1141.8" r="8.2"/><circle cx="757.9" cy="1139.0" r="8.2"/><circle cx="760.7" cy="1135.0" r="8.2"/><circle cx="762.8" cy="1131.4" r="8.2"/><circle cx="764.9" cy="1127.7" r="8.2"/><circle cx="767.5" cy="1123.4" r="8.2"/><circle cx="769.4" cy="1120.1" r="8.2"/><circle cx="771.3" cy="1117.5" r="8.2"/><circle cx="773.7" cy="1115.0" r="8.2"/><circle cx="775.5" cy="1113.7" r="8.2"/><circle cx="777.3" cy="1112.8" r="8.2"/><circle cx="779.6" cy="1111.5" r="8.2"/><circle cx="781.3" cy="1110.8" r="8.2"/><circle cx="783.0" cy="1109.9" r="8.2"/><circle cx="785.1" cy="1108.3" r="8.2"/><circle cx="786.7" cy="1106.7" r="8.2"/><circle cx="788.3" cy="1104.7" r="8.2"/><circle cx="790.3" cy="1101.8" r="8.2"/><circle cx="791.8" cy="1099.3" r="8.2"/><circle cx="793.3" cy="1096.9" r="8.2"/><circle cx="795.2" cy="1094.4" r="8.2"/><circle cx="796.6" cy="1092.9" r="8.2"/><circle cx="798.0" cy="1092.0" r="8.2"/><circle cx="799.8" cy="1091.1" r="8.2"/><circle cx="801.2" cy="1090.8" r="8.2"/><circle cx="802.5" cy="1090.5" r="8.2"/><circle cx="804.2" cy="1089.4" r="8.2"/><circle cx="805.5" cy="1088.3" r="8.2"/><circle cx="806.8" cy="1086.8" r="8.2"/><circle cx="808.4" cy="1084.5" r="8.2"/><circle cx="809.7" cy="1082.4" r="8.2"/><circle cx="810.9" cy="1080.3" r="8.2"/><circle cx="812.5" cy="1078.0" r="8.2"/><circle cx="813.6" cy="1076.2" r="8.2"/><circle cx="814.8" cy="1074.8" r="8.2"/><circle cx="816.3" cy="1073.7" r="8.2"/><circle cx="817.5" cy="1073.4" r="8.2"/><circle cx="818.6" cy="1073.4" r="8.2"/><circle cx="820.0" cy="1073.2" r="8.2"/><circle cx="821.1" cy="1073.2" r="8.2"/><circle cx="822.2" cy="1073.1" r="8.2"/><circle cx="823.6" cy="1072.8" r="8.2"/><circle cx="824.6" cy="1072.7" r="8.2"/><circle cx="825.6" cy="1072.3" r="8.2"/><circle cx="827.0" cy="1071.3" r="8.2"/><circle cx="828.0" cy="1070.0" r="8.2"/><circle cx="829.0" cy="1068.1" r="8.2"/><circle cx="830.3" cy="1065.2" r="8.2"/><circle cx="831.2" cy="1062.3" r="8.2"/><circle cx="832.2" cy="1059.2" r="8.2"/><circle cx="833.4" cy="1056.0" r="8.2"/><circle cx="834.4" cy="1053.5" r="8.2"/><circle cx="835.3" cy="1051.5" r="8.2"/><circle cx="836.5" cy="1049.9" r="8.2"/><circle cx="837.4" cy="1049.2" r="8.2"/><circle cx="838.3" cy="1049.0" r="8.2"/><circle cx="839.5" cy="1048.8" r="8.2"/><circle cx="840.3" cy="1049.0" r="8.2"/><circle cx="841.2" cy="1049.0" r="8.2"/><circle cx="842.3" cy="1048.4" r="8.2"/><circle cx="843.2" cy="1047.9" r="8.2"/><circle cx="844.0" cy="1047.3" r="8.2"/><circle cx="845.1" cy="1046.3" r="8.2"/><circle cx="845.9" cy="1045.5" r="8.2"/><circle cx="846.8" cy="1044.8" r="8.2"/><circle cx="847.8" cy="1044.0" r="8.2"/><circle cx="848.6" cy="1043.5" r="8.2"/><circle cx="849.4" cy="1043.1" r="8.2"/><circle cx="850.4" cy="1042.0" r="8.2"/><circle cx="851.2" cy="1040.9" r="8.2"/><circle cx="852.0" cy="1039.5" r="8.2"/><circle cx="853.0" cy="1037.6" r="8.2"/><circle cx="853.7" cy="1036.1" r="8.2"/><circle cx="854.5" cy="1034.6" r="8.2"/><circle cx="855.5" cy="1033.1" r="8.2"/><circle cx="856.2" cy="1031.8" r="8.2"/><circle cx="856.9" cy="1030.3" r="8.2"/><circle cx="857.9" cy="1028.2" r="8.2"/><circle cx="858.6" cy="1026.2" r="8.2"/><circle cx="859.3" cy="1024.2" r="8.2"/><circle cx="860.2" cy="1022.6" r="8.2"/><circle cx="860.9" cy="1022.1" r="8.2"/><circle cx="861.6" cy="1022.5" r="8.2"/><circle cx="862.5" cy="1023.2" r="8.2"/><circle cx="863.2" cy="1023.8" r="8.2"/><circle cx="863.9" cy="1023.5" r="8.2"/><circle cx="864.7" cy="1021.8" r="8.2"/><circle cx="865.4" cy="1019.4" r="8.2"/><circle cx="866.1" cy="1016.7" r="8.2"/><circle cx="866.9" cy="1014.3" r="8.2"/><circle cx="867.6" cy="1013.1" r="8.2"/><circle cx="868.2" cy="1012.9" r="8.2"/><circle cx="869.0" cy="1012.9" r="8.2"/><circle cx="869.7" cy="1013.2" r="8.2"/><circle cx="870.3" cy="1013.4" r="8.2"/><circle cx="871.1" cy="1013.2" r="8.2"/><circle cx="871.7" cy="1013.4" r="8.2"/><circle cx="872.3" cy="1013.7" r="8.2"/><circle cx="873.1" cy="1013.8" r="8.2"/>
</g>
<g fill="#000000">
<circle cx="448.9" cy="1264.1" r="8.2"/><circle cx="531.2" cy="1262.3" r="8.2"/><circle cx="583.3" cy="1259.1" r="8.2"/><circle cx="609.4" cy="1255.0" r="8.2"/><circle cx="629.6" cy="1251.0" r="8.2"/><circle cx="650.6" cy="1246.0" r="8.2"/><circle cx="663.9" cy="1243.1" r="8.2"/><circle cx="675.5" cy="1237.6" r="8.2"/><circle cx="688.7" cy="1230.3" r="8.2"/><circle cx="697.7" cy="1224.2" r="8.2"/><circle cx="705.8" cy="1217.4" r="8.2"/><circle cx="715.4" cy="1208.1" r="8.2"/><circle cx="722.1" cy="1200.6" r="8.2"/><circle cx="728.4" cy="1192.9" r="8.2"/><circle cx="736.0" cy="1183.2" r="8.2"/><circle cx="741.4" cy="1175.9" r="8.2"/><circle cx="746.5" cy="1169.1" r="8.2"/><circle cx="752.7" cy="1161.3" r="8.2"/><circle cx="757.2" cy="1156.2" r="8.2"/><circle cx="761.5" cy="1151.9" r="8.2"/><circle cx="766.8" cy="1147.0" r="8.2"/><circle cx="770.7" cy="1143.7" r="8.2"/><circle cx="774.4" cy="1140.1" r="8.2"/><circle cx="779.0" cy="1134.4" r="8.2"/><circle cx="782.4" cy="1129.1" r="8.2"/><circle cx="785.7" cy="1123.6" r="8.2"/><circle cx="789.8" cy="1116.9" r="8.2"/><circle cx="792.8" cy="1112.3" r="8.2"/><circle cx="795.7" cy="1108.4" r="8.2"/><circle cx="799.4" cy="1103.8" r="8.2"/><circle cx="802.1" cy="1100.6" r="8.2"/><circle cx="804.7" cy="1097.7" r="8.2"/><circle cx="808.0" cy="1094.2" r="8.2"/><circle cx="810.5" cy="1091.8" r="8.2"/><circle cx="812.9" cy="1089.3" r="8.2"/><circle cx="815.9" cy="1086.1" r="8.2"/><circle cx="818.2" cy="1083.8" r="8.2"/><circle cx="820.4" cy="1081.6" r="8.2"/><circle cx="823.2" cy="1079.1" r="8.2"/><circle cx="825.3" cy="1077.5" r="8.2"/><circle cx="827.3" cy="1075.9" r="8.2"/><circle cx="829.9" cy="1073.8" r="8.2"/><circle cx="831.9" cy="1072.2" r="8.2"/><circle cx="833.8" cy="1070.7" r="8.2"/><circle cx="836.2" cy="1068.6" r="8.2"/><circle cx="838.0" cy="1066.9" r="8.2"/><circle cx="839.8" cy="1065.0" r="8.2"/><circle cx="842.1" cy="1062.5" r="8.2"/><circle cx="843.8" cy="1060.6" r="8.2"/><circle cx="845.4" cy="1058.8" r="8.2"/><circle cx="847.5" cy="1056.7" r="8.2"/><circle cx="849.1" cy="1055.3" r="8.2"/><circle cx="850.7" cy="1054.0" r="8.2"/><circle cx="852.7" cy="1052.3" r="8.2"/><circle cx="854.2" cy="1050.9" r="8.2"/><circle cx="855.7" cy="1049.4" r="8.2"/><circle cx="857.6" cy="1047.5" r="8.2"/><circle cx="859.1" cy="1046.1" r="8.2"/><circle cx="860.5" cy="1045.1" r="8.2"/><circle cx="862.3" cy="1043.9" r="8.2"/><circle cx="863.6" cy="1043.4" r="8.2"/><circle cx="865.0" cy="1042.8" r="8.2"/><circle cx="866.7" cy="1041.9" r="8.2"/><circle cx="868.0" cy="1041.0" r="8.2"/><circle cx="869.3" cy="1039.9" r="8.2"/><circle cx="870.9" cy="1038.3" r="8.2"/><circle cx="872.1" cy="1037.1" r="8.2"/><circle cx="873.4" cy="1036.0" r="8.2"/><circle cx="874.9" cy="1034.8" r="8.2"/><circle cx="876.1" cy="1034.0" r="8.2"/><circle cx="877.3" cy="1033.1" r="8.2"/><circle cx="878.8" cy="1031.7" r="8.2"/><circle cx="879.9" cy="1030.4" r="8.2"/><circle cx="881.0" cy="1029.1" r="8.2"/><circle cx="882.5" cy="1027.4" r="8.2"/><circle cx="883.6" cy="1026.2" r="8.2"/><circle cx="884.6" cy="1025.1" r="8.2"/><circle cx="886.0" cy="1023.6" r="8.2"/><circle cx="887.1" cy="1022.4" r="8.2"/><circle cx="888.1" cy="1021.0" r="8.2"/><circle cx="889.4" cy="1019.1" r="8.2"/><circle cx="890.4" cy="1017.3" r="8.2"/><circle cx="891.4" cy="1015.5" r="8.2"/><circle cx="892.7" cy="1013.6" r="8.2"/><circle cx="893.7" cy="1012.3" r="8.2"/><circle cx="894.7" cy="1011.7" r="8.2"/><circle cx="895.9" cy="1011.4" r="8.2"/><circle cx="896.8" cy="1011.9" r="8.2"/><circle cx="897.8" cy="1012.4" r="8.2"/><circle cx="899.0" cy="1012.7" r="8.2"/><circle cx="899.9" cy="1013.0" r="8.2"/><circle cx="900.8" cy="1012.9" r="8.2"/><circle cx="901.9" cy="1012.4" r="8.2"/><circle cx="902.8" cy="1011.8" r="8.2"/><circle cx="903.7" cy="1010.9" r="8.2"/><circle cx="904.8" cy="1009.8" r="8.2"/><circle cx="905.7" cy="1008.6" r="8.2"/><circle cx="906.5" cy="1007.3" r="8.2"/><circle cx="907.6" cy="1005.9" r="8.2"/><circle cx="908.4" cy="1004.9" r="8.2"/><circle cx="909.2" cy="1004.3" r="8.2"/><circle cx="910.3" cy="1003.8" r="8.2"/><circle cx="911.1" cy="1003.6" r="8.2"/><circle cx="911.9" cy="1003.0" r="8.2"/><circle cx="912.9" cy="1001.8" r="8.2"/><circle cx="913.7" cy="1000.3" r="8.2"/><circle cx="914.4" cy="998.6" r="8.2"/><circle cx="915.4" cy="996.8" r="8.2"/><circle cx="916.2" cy="995.7" r="8.2"/><circle cx="917.0" cy="995.0" r="8.2"/><circle cx="917.9" cy="994.4" r="8.2"/><circle cx="918.7" cy="994.2" r="8.2"/><circle cx="919.4" cy="993.9" r="8.2"/><circle cx="920.3" cy="992.9" r="8.2"/><circle cx="921.0" cy="992.0" r="8.2"/><circle cx="921.8" cy="990.8" r="8.2"/><circle cx="922.7" cy="988.9" r="8.2"/><circle cx="923.4" cy="987.2" r="8.2"/><circle cx="924.1" cy="985.3" r="8.2"/><circle cx="925.0" cy="982.8" r="8.2"/><circle cx="925.6" cy="980.9" r="8.2"/><circle cx="926.3" cy="979.1" r="8.2"/>
</g>
<line x1="120.10" y1="933.60" x2="120.10" y2="1291.50" stroke="#000" stroke-width="3" stroke-linecap="butt"/>
<line x1="118.60" y1="1290.00" x2="988.00" y2="1290.00" stroke="#000" stroke-width="3" stroke-linecap="butt"/>
<line x1="120.10" y1="1263.90" x2="128.50" y2="1263.90" stroke="#000" stroke-width="1.5" stroke-linecap="butt"/>
<line x1="120.10" y1="1236.55" x2="124.50" y2="1236.55" stroke="#000" stroke-width="1.5" stroke-linecap="butt"/>
<line x1="120.10" y1="1209.20" x2="128.50" y2="1209.20" stroke="#000" stroke-width="1.5" stroke-linecap="butt"/>
<line x1="120.10" y1="1181.85" x2="124.50" y2="1181.85" stroke="#000" stroke-width="1.5" stroke-linecap="butt"/>
<line x1="120.10" y1="1154.50" x2="128.50" y2="1154.50" stroke="#000" stroke-width="1.5" stroke-linecap="butt"/>
<line x1="120.10" y1="1127.15" x2="124.50" y2="1127.15" stroke="#000" stroke-width="1.5" stroke-linecap="butt"/>
<line x1="120.10" y1="1099.80" x2="128.50" y2="1099.80" stroke="#000" stroke-width="1.5" stroke-linecap="butt"/>
<line x1="120.10" y1="1072.45" x2="124.50" y2="1072.45" stroke="#000" stroke-width="1.5" stroke-linecap="butt"/>
<line x1="120.10" y1="1045.10" x2="128.50" y2="1045.10" stroke="#000" stroke-width="1.5" stroke-linecap="butt"/>
<line x1="120.10" y1="1017.75" x2="124.50" y2="1017.75" stroke="#000" stroke-width="1.5" stroke-linecap="butt"/>
<line x1="120.10" y1="990.40" x2="128.50" y2="990.40" stroke="#000" stroke-width="1.5" stroke-linecap="butt"/>
<line x1="120.10" y1="963.05" x2="124.50" y2="963.05" stroke="#000" stroke-width="1.5" stroke-linecap="butt"/>
<line x1="120.10" y1="935.70" x2="128.50" y2="935.70" stroke="#000" stroke-width="1.5" stroke-linecap="butt"/>
<line x1="182.56" y1="1290.00" x2="182.56" y2="1285.00" stroke="#000" stroke-width="1.5" stroke-linecap="butt"/>
<line x1="219.10" y1="1290.00" x2="219.10" y2="1285.00" stroke="#000" stroke-width="1.5" stroke-linecap="butt"/>
<line x1="245.03" y1="1290.00" x2="245.03" y2="1285.00" stroke="#000" stroke-width="1.5" stroke-linecap="butt"/>
<line x1="265.14" y1="1290.00" x2="265.14" y2="1285.00" stroke="#000" stroke-width="1.5" stroke-linecap="butt"/>
<line x1="281.57" y1="1290.00" x2="281.57" y2="1285.00" stroke="#000" stroke-width="1.5" stroke-linecap="butt"/>
<line x1="295.46" y1="1290.00" x2="295.46" y2="1285.00" stroke="#000" stroke-width="1.5" stroke-linecap="butt"/>
<line x1="307.49" y1="1290.00" x2="307.49" y2="1285.00" stroke="#000" stroke-width="1.5" stroke-linecap="butt"/>
<line x1="318.11" y1="1290.00" x2="318.11" y2="1285.00" stroke="#000" stroke-width="1.5" stroke-linecap="butt"/>
<line x1="327.60" y1="1290.00" x2="327.60" y2="1281.50" stroke="#000" stroke-width="1.5" stroke-linecap="butt"/>
<line x1="390.06" y1="1290.00" x2="390.06" y2="1285.00" stroke="#000" stroke-width="1.5" stroke-linecap="butt"/>
<line x1="426.60" y1="1290.00" x2="426.60" y2="1285.00" stroke="#000" stroke-width="1.5" stroke-linecap="butt"/>
<line x1="452.53" y1="1290.00" x2="452.53" y2="1285.00" stroke="#000" stroke-width="1.5" stroke-linecap="butt"/>
<line x1="472.64" y1="1290.00" x2="472.64" y2="1285.00" stroke="#000" stroke-width="1.5" stroke-linecap="butt"/>
<line x1="489.07" y1="1290.00" x2="489.07" y2="1285.00" stroke="#000" stroke-width="1.5" stroke-linecap="butt"/>
<line x1="502.96" y1="1290.00" x2="502.96" y2="1285.00" stroke="#000" stroke-width="1.5" stroke-linecap="butt"/>
<line x1="514.99" y1="1290.00" x2="514.99" y2="1285.00" stroke="#000" stroke-width="1.5" stroke-linecap="butt"/>
<line x1="525.61" y1="1290.00" x2="525.61" y2="1285.00" stroke="#000" stroke-width="1.5" stroke-linecap="butt"/>
<line x1="535.10" y1="1290.00" x2="535.10" y2="1281.50" stroke="#000" stroke-width="1.5" stroke-linecap="butt"/>
<line x1="597.56" y1="1290.00" x2="597.56" y2="1285.00" stroke="#000" stroke-width="1.5" stroke-linecap="butt"/>
<line x1="634.10" y1="1290.00" x2="634.10" y2="1285.00" stroke="#000" stroke-width="1.5" stroke-linecap="butt"/>
<line x1="660.03" y1="1290.00" x2="660.03" y2="1285.00" stroke="#000" stroke-width="1.5" stroke-linecap="butt"/>
<line x1="680.14" y1="1290.00" x2="680.14" y2="1285.00" stroke="#000" stroke-width="1.5" stroke-linecap="butt"/>
<line x1="696.57" y1="1290.00" x2="696.57" y2="1285.00" stroke="#000" stroke-width="1.5" stroke-linecap="butt"/>
<line x1="710.46" y1="1290.00" x2="710.46" y2="1285.00" stroke="#000" stroke-width="1.5" stroke-linecap="butt"/>
<line x1="722.49" y1="1290.00" x2="722.49" y2="1285.00" stroke="#000" stroke-width="1.5" stroke-linecap="butt"/>
<line x1="733.11" y1="1290.00" x2="733.11" y2="1285.00" stroke="#000" stroke-width="1.5" stroke-linecap="butt"/>
<line x1="742.60" y1="1290.00" x2="742.60" y2="1281.50" stroke="#000" stroke-width="1.5" stroke-linecap="butt"/>
<line x1="805.06" y1="1290.00" x2="805.06" y2="1285.00" stroke="#000" stroke-width="1.5" stroke-linecap="butt"/>
<line x1="841.60" y1="1290.00" x2="841.60" y2="1285.00" stroke="#000" stroke-width="1.5" stroke-linecap="butt"/>
<line x1="867.53" y1="1290.00" x2="867.53" y2="1285.00" stroke="#000" stroke-width="1.5" stroke-linecap="butt"/>
<line x1="887.64" y1="1290.00" x2="887.64" y2="1285.00" stroke="#000" stroke-width="1.5" stroke-linecap="butt"/>
<line x1="904.07" y1="1290.00" x2="904.07" y2="1285.00" stroke="#000" stroke-width="1.5" stroke-linecap="butt"/>
<line x1="917.96" y1="1290.00" x2="917.96" y2="1285.00" stroke="#000" stroke-width="1.5" stroke-linecap="butt"/>
<line x1="929.99" y1="1290.00" x2="929.99" y2="1285.00" stroke="#000" stroke-width="1.5" stroke-linecap="butt"/>
<line x1="940.61" y1="1290.00" x2="940.61" y2="1285.00" stroke="#000" stroke-width="1.5" stroke-linecap="butt"/>
<line x1="950.10" y1="1290.00" x2="950.10" y2="1281.50" stroke="#000" stroke-width="1.5" stroke-linecap="butt"/>
<text transform="translate(111.50,943.50) scale(0.81,1)" font-family="Liberation Sans" font-size="34.3" fill="#000" text-anchor="end" font-weight="normal" font-style="normal" >0.12</text>
<text transform="translate(111.50,1053.50) scale(0.81,1)" font-family="Liberation Sans" font-size="34.3" fill="#000" text-anchor="end" font-weight="normal" font-style="normal" >0.08</text>
<text transform="translate(111.50,1163.70) scale(0.81,1)" font-family="Liberation Sans" font-size="34.3" fill="#000" text-anchor="end" font-weight="normal" font-style="normal" >0.04</text>
<text transform="translate(111.50,1273.00) scale(0.81,1)" font-family="Liberation Sans" font-size="34.3" fill="#000" text-anchor="end" font-weight="normal" font-style="normal" >0</text>
<text transform="translate(118.60,1335.50) scale(0.81,1)" font-family="Liberation Sans" font-size="34.3" fill="#000" text-anchor="middle" font-weight="normal" font-style="normal" >0.01</text>
<text transform="translate(326.10,1335.50) scale(0.81,1)" font-family="Liberation Sans" font-size="34.3" fill="#000" text-anchor="middle" font-weight="normal" font-style="normal" >0.1</text>
<text transform="translate(533.60,1335.50) scale(0.81,1)" font-family="Liberation Sans" font-size="34.3" fill="#000" text-anchor="middle" font-weight="normal" font-style="normal" >1</text>
<text transform="translate(741.10,1335.50) scale(0.81,1)" font-family="Liberation Sans" font-size="34.3" fill="#000" text-anchor="middle" font-weight="normal" font-style="normal" >10</text>
<text transform="translate(948.60,1335.50) scale(0.81,1)" font-family="Liberation Sans" font-size="34.3" fill="#000" text-anchor="middle" font-weight="normal" font-style="normal" >100</text>
<text transform="translate(31.4,1171.4) rotate(-90) scale(0.81,1)" font-family="Liberation Sans" font-size="34.3">&#916;<tspan font-style="italic">g<tspan font-size="20" dy="16">d</tspan></tspan><tspan dy="-16"> (e</tspan><tspan font-size="20" dy="-15.5">2</tspan><tspan dy="15.5">/</tspan><tspan font-style="italic">h</tspan>)</text>
<text transform="translate(183.60,1006.00) scale(0.81,1)" font-family="Liberation Sans" font-size="29" fill="#000000" text-anchor="start" font-weight="normal" font-style="normal" >4 K</text>
<text transform="translate(183.60,1039.00) scale(0.81,1)" font-family="Liberation Sans" font-size="29" fill="#c80000" text-anchor="start" font-weight="normal" font-style="normal" >8 K</text>
<text transform="translate(183.60,1072.00) scale(0.81,1)" font-family="Liberation Sans" font-size="29" fill="#f00a8c" text-anchor="start" font-weight="normal" font-style="normal" >14 K</text>
<text transform="translate(183.60,1105.00) scale(0.81,1)" font-family="Liberation Sans" font-size="29" fill="#9414d2" text-anchor="start" font-weight="normal" font-style="normal" >18 K</text>
<text transform="translate(183.60,1138.00) scale(0.81,1)" font-family="Liberation Sans" font-size="29" fill="#0000d0" text-anchor="start" font-weight="normal" font-style="normal" >23 K</text>
<text transform="translate(183.60,1171.00) scale(0.81,1)" font-family="Liberation Sans" font-size="29" fill="#00aee8" text-anchor="start" font-weight="normal" font-style="normal" >30 K</text>
<text transform="translate(183.60,1204.00) scale(0.81,1)" font-family="Liberation Sans" font-size="29" fill="#8ee3ec" text-anchor="start" font-weight="normal" font-style="normal" >40 K</text>
<text transform="translate(802.00,1270.50) scale(0.81,1)" font-family="Liberation Sans" font-size="50" fill="#000" text-anchor="start" font-weight="bold" font-style="normal" >(c)</text>
<text transform="translate(882,1247.8) scale(0.81,1)" font-family="Liberation Sans" font-size="34.3" font-style="italic">eV<tspan font-size="20" dx="-3" dy="16.5">d</tspan><tspan dx="-1" dy="-16.5">/k</tspan><tspan font-size="20" dx="0" dy="16.5">B</tspan><tspan dx="1" dy="-16.5">T</tspan></text>
</svg>
</body></html>
